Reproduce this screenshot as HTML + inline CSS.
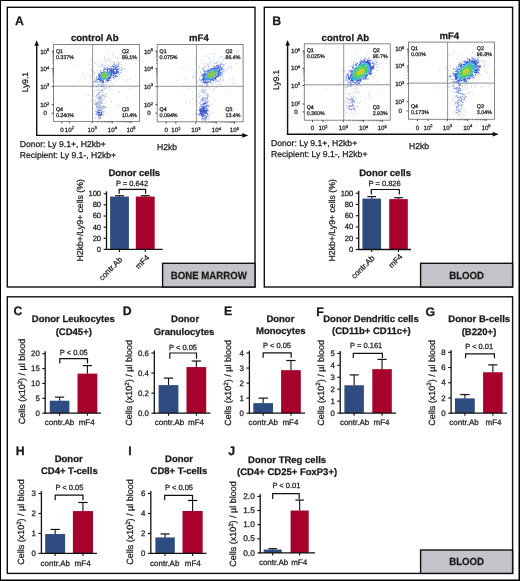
<!DOCTYPE html>
<html><head><meta charset="utf-8"><style>
html,body{margin:0;padding:0;background:#fff;}
svg{display:block;font-family:"Liberation Sans", sans-serif;will-change:transform;}
text{stroke:#1a1a1a;stroke-width:0.25px;text-rendering:geometricPrecision;}
</style></head><body>
<svg width="520" height="581" viewBox="0 0 520 581">
<rect x="0" y="0" width="520" height="581" fill="#fff"/>
<rect x="0" y="0" width="520" height="1" fill="#000" stroke="none" stroke-width="1"/>
<rect x="0" y="0" width="1" height="581" fill="#000" stroke="none" stroke-width="1"/>
<rect x="518.5" y="0" width="1.5" height="581" fill="#000" stroke="none" stroke-width="1"/>
<rect x="0" y="579.5" width="520" height="1.5" fill="#000" stroke="none" stroke-width="1"/>
<rect x="7.3" y="7.3" width="247.7" height="279.7" fill="none" stroke="#111" stroke-width="1.4"/>
<rect x="264.3" y="7.3" width="248.3" height="279.7" fill="none" stroke="#111" stroke-width="1.4"/>
<rect x="7.3" y="296.8" width="505.3" height="276.6" fill="none" stroke="#111" stroke-width="1.4"/>
<rect x="162.6" y="263.3" width="92.4" height="23.69999999999999" fill="#c4c3c9" stroke="#111" stroke-width="1.4"/>
<text transform="translate(208.8,278.6) scale(0.93,1)" font-size="10.4" font-weight="bold" text-anchor="middle" fill="#1a1a1a">BONE MARROW</text>
<rect x="420.6" y="263.3" width="92.0" height="23.69999999999999" fill="#c4c3c9" stroke="#111" stroke-width="1.4"/>
<text transform="translate(466.6,278.6) scale(0.93,1)" font-size="10.4" font-weight="bold" text-anchor="middle" fill="#1a1a1a">BLOOD</text>
<rect x="420.6" y="550" width="92.0" height="23.399999999999977" fill="#c4c3c9" stroke="#111" stroke-width="1.4"/>
<text transform="translate(466.6,564.6) scale(0.93,1)" font-size="10.4" font-weight="bold" text-anchor="middle" fill="#1a1a1a">BLOOD</text>
<text x="15" y="24.8" font-size="12.3" font-weight="bold" text-anchor="start" fill="#1a1a1a" >A</text>
<text x="272.3" y="24.5" font-size="12.3" font-weight="bold" text-anchor="start" fill="#1a1a1a" >B</text>
<text x="13.5" y="315.2" font-size="12.3" font-weight="bold" text-anchor="start" fill="#1a1a1a" >C</text>
<text x="122.7" y="315.4" font-size="12.3" font-weight="bold" text-anchor="start" fill="#1a1a1a" >D</text>
<text x="224" y="315.2" font-size="12.3" font-weight="bold" text-anchor="start" fill="#1a1a1a" >E</text>
<text x="316.2" y="315.5" font-size="12.3" font-weight="bold" text-anchor="start" fill="#1a1a1a" >F</text>
<text x="425.6" y="315.5" font-size="12.3" font-weight="bold" text-anchor="start" fill="#1a1a1a" >G</text>
<text x="15.7" y="454.9" font-size="12.3" font-weight="bold" text-anchor="start" fill="#1a1a1a" >H</text>
<text x="128.3" y="454.9" font-size="12.3" font-weight="bold" text-anchor="start" fill="#1a1a1a" >I</text>
<text x="228.3" y="454.8" font-size="12.3" font-weight="bold" text-anchor="start" fill="#1a1a1a" >J</text>
<rect x="110.1" y="196.58" width="18.80000000000001" height="52.81999999999999" fill="#2e4c7f" stroke="none" stroke-width="1"/>
<line x1="119.5" y1="196.58" x2="119.5" y2="195.746" stroke="#111" stroke-width="1.1"/>
<line x1="115.082" y1="195.746" x2="123.918" y2="195.746" stroke="#111" stroke-width="1.2"/>
<rect x="135.8" y="196.58" width="18.899999999999977" height="52.81999999999999" fill="#a6022b" stroke="none" stroke-width="1"/>
<line x1="145.25" y1="196.58" x2="145.25" y2="195.746" stroke="#111" stroke-width="1.1"/>
<line x1="140.8085" y1="195.746" x2="149.6915" y2="195.746" stroke="#111" stroke-width="1.2"/>
<line x1="106.5" y1="191.4" x2="106.5" y2="250.0" stroke="#111" stroke-width="1.3"/>
<line x1="105.9" y1="249.4" x2="162.6" y2="249.4" stroke="#111" stroke-width="1.3"/>
<line x1="103.6" y1="249.4" x2="106.5" y2="249.4" stroke="#111" stroke-width="1.1"/>
<text x="101.1" y="251.83599999999998" font-size="7.6" text-anchor="end" fill="#1a1a1a" >0</text>
<line x1="103.6" y1="238.28" x2="106.5" y2="238.28" stroke="#111" stroke-width="1.1"/>
<text x="101.1" y="240.71599999999998" font-size="7.6" text-anchor="end" fill="#1a1a1a" >20</text>
<line x1="103.6" y1="227.16" x2="106.5" y2="227.16" stroke="#111" stroke-width="1.1"/>
<text x="101.1" y="229.59599999999998" font-size="7.6" text-anchor="end" fill="#1a1a1a" >40</text>
<line x1="103.6" y1="216.04000000000002" x2="106.5" y2="216.04000000000002" stroke="#111" stroke-width="1.1"/>
<text x="101.1" y="218.476" font-size="7.6" text-anchor="end" fill="#1a1a1a" >60</text>
<line x1="103.6" y1="204.92000000000002" x2="106.5" y2="204.92000000000002" stroke="#111" stroke-width="1.1"/>
<text x="101.1" y="207.356" font-size="7.6" text-anchor="end" fill="#1a1a1a" >80</text>
<line x1="103.6" y1="193.8" x2="106.5" y2="193.8" stroke="#111" stroke-width="1.1"/>
<text x="101.1" y="196.236" font-size="7.6" text-anchor="end" fill="#1a1a1a" >100</text>
<line x1="119.5" y1="249.4" x2="119.5" y2="252.0" stroke="#111" stroke-width="1.1"/>
<line x1="145.25" y1="249.4" x2="145.25" y2="252.0" stroke="#111" stroke-width="1.1"/>
<polyline points="119.2,193.8 119.2,189.4 145.6,189.4 145.6,193.8" fill="none" stroke="#111" stroke-width="1.2"/>
<text x="132" y="185.8" font-size="7.5" text-anchor="middle" fill="#1a1a1a" >P = 0.642</text>
<text x="134.3" y="175.9" font-size="9.5" font-weight="bold" text-anchor="middle" fill="#1a1a1a" >Donor cells</text>
<text transform="translate(79.7,220.3) rotate(-90)" font-size="8.7" text-anchor="middle" fill="#1a1a1a" y="3.0449999999999995">H2kb+/Ly9+ cells (%)</text>
<text transform="translate(122.9,260.2) rotate(-45)" font-size="8" text-anchor="end" fill="#1a1a1a">contr.Ab</text>
<text transform="translate(149.9,258.2) rotate(-45)" font-size="8" text-anchor="end" fill="#1a1a1a">mF4</text>
<rect x="362.4" y="198.5485" width="18.600000000000023" height="50.95150000000001" fill="#2e4c7f" stroke="none" stroke-width="1"/>
<line x1="371.7" y1="198.5485" x2="371.7" y2="196.57799999999997" stroke="#111" stroke-width="1.1"/>
<line x1="367.329" y1="196.57799999999997" x2="376.07099999999997" y2="196.57799999999997" stroke="#111" stroke-width="1.2"/>
<rect x="389.2" y="199.11149999999998" width="18.600000000000023" height="50.38850000000002" fill="#a6022b" stroke="none" stroke-width="1"/>
<line x1="398.5" y1="199.11149999999998" x2="398.5" y2="197.70399999999998" stroke="#111" stroke-width="1.1"/>
<line x1="394.129" y1="197.70399999999998" x2="402.871" y2="197.70399999999998" stroke="#111" stroke-width="1.2"/>
<line x1="358.7" y1="190.79999999999998" x2="358.7" y2="250.1" stroke="#111" stroke-width="1.3"/>
<line x1="358.09999999999997" y1="249.5" x2="411" y2="249.5" stroke="#111" stroke-width="1.3"/>
<line x1="355.8" y1="249.5" x2="358.7" y2="249.5" stroke="#111" stroke-width="1.1"/>
<text x="353.3" y="251.93599999999998" font-size="7.6" text-anchor="end" fill="#1a1a1a" >0</text>
<line x1="355.8" y1="238.24" x2="358.7" y2="238.24" stroke="#111" stroke-width="1.1"/>
<text x="353.3" y="240.676" font-size="7.6" text-anchor="end" fill="#1a1a1a" >20</text>
<line x1="355.8" y1="226.98" x2="358.7" y2="226.98" stroke="#111" stroke-width="1.1"/>
<text x="353.3" y="229.41599999999997" font-size="7.6" text-anchor="end" fill="#1a1a1a" >40</text>
<line x1="355.8" y1="215.72" x2="358.7" y2="215.72" stroke="#111" stroke-width="1.1"/>
<text x="353.3" y="218.15599999999998" font-size="7.6" text-anchor="end" fill="#1a1a1a" >60</text>
<line x1="355.8" y1="204.45999999999998" x2="358.7" y2="204.45999999999998" stroke="#111" stroke-width="1.1"/>
<text x="353.3" y="206.89599999999996" font-size="7.6" text-anchor="end" fill="#1a1a1a" >80</text>
<line x1="355.8" y1="193.2" x2="358.7" y2="193.2" stroke="#111" stroke-width="1.1"/>
<text x="353.3" y="195.63599999999997" font-size="7.6" text-anchor="end" fill="#1a1a1a" >100</text>
<line x1="371.7" y1="249.5" x2="371.7" y2="252.1" stroke="#111" stroke-width="1.1"/>
<line x1="398.5" y1="249.5" x2="398.5" y2="252.1" stroke="#111" stroke-width="1.1"/>
<polyline points="371.3,194.5 371.3,189.5 399.3,189.5 399.3,194.5" fill="none" stroke="#111" stroke-width="1.2"/>
<text x="384.6" y="186.4" font-size="7.5" text-anchor="middle" fill="#1a1a1a" >P = 0.826</text>
<text x="385.1" y="175.5" font-size="9.5" font-weight="bold" text-anchor="middle" fill="#1a1a1a" >Donor cells</text>
<text transform="translate(331.6,220.3) rotate(-90)" font-size="8.7" text-anchor="middle" fill="#1a1a1a" y="3.0449999999999995">H2kb+/Ly9+ cells (%)</text>
<text transform="translate(375.2,258.6) rotate(-45)" font-size="8" text-anchor="end" fill="#1a1a1a">contr.Ab</text>
<text transform="translate(403,257.2) rotate(-45)" font-size="8" text-anchor="end" fill="#1a1a1a">mF4</text>
<rect x="49.8" y="400.705" width="19.60000000000001" height="12.495000000000005" fill="#2e4c7f" stroke="none" stroke-width="1"/>
<line x1="59.6" y1="400.705" x2="59.6" y2="397.135" stroke="#111" stroke-width="1.1"/>
<line x1="54.994" y1="397.135" x2="64.206" y2="397.135" stroke="#111" stroke-width="1.2"/>
<rect x="77.5" y="373.6325" width="19.799999999999997" height="39.567499999999995" fill="#a6022b" stroke="none" stroke-width="1"/>
<line x1="87.4" y1="373.6325" x2="87.4" y2="365.59999999999997" stroke="#111" stroke-width="1.1"/>
<line x1="82.74700000000001" y1="365.59999999999997" x2="92.053" y2="365.59999999999997" stroke="#111" stroke-width="1.2"/>
<line x1="45.2" y1="351.3" x2="45.2" y2="413.8" stroke="#111" stroke-width="1.3"/>
<line x1="44.6" y1="413.2" x2="101" y2="413.2" stroke="#111" stroke-width="1.3"/>
<line x1="42.300000000000004" y1="413.2" x2="45.2" y2="413.2" stroke="#111" stroke-width="1.1"/>
<text x="39.800000000000004" y="415.74399999999997" font-size="7.9" text-anchor="end" fill="#1a1a1a" >0</text>
<line x1="42.300000000000004" y1="398.325" x2="45.2" y2="398.325" stroke="#111" stroke-width="1.1"/>
<text x="39.800000000000004" y="400.86899999999997" font-size="7.9" text-anchor="end" fill="#1a1a1a" >5</text>
<line x1="42.300000000000004" y1="383.45" x2="45.2" y2="383.45" stroke="#111" stroke-width="1.1"/>
<text x="39.800000000000004" y="385.99399999999997" font-size="7.9" text-anchor="end" fill="#1a1a1a" >10</text>
<line x1="42.300000000000004" y1="368.575" x2="45.2" y2="368.575" stroke="#111" stroke-width="1.1"/>
<text x="39.800000000000004" y="371.11899999999997" font-size="7.9" text-anchor="end" fill="#1a1a1a" >15</text>
<line x1="42.300000000000004" y1="353.7" x2="45.2" y2="353.7" stroke="#111" stroke-width="1.1"/>
<text x="39.800000000000004" y="356.24399999999997" font-size="7.9" text-anchor="end" fill="#1a1a1a" >20</text>
<line x1="59.6" y1="413.2" x2="59.6" y2="415.8" stroke="#111" stroke-width="1.1"/>
<line x1="87.4" y1="413.2" x2="87.4" y2="415.8" stroke="#111" stroke-width="1.1"/>
<polyline points="59.8,363.6 59.8,358.6 87.5,358.6 87.5,363.6" fill="none" stroke="#111" stroke-width="1.2"/>
<text x="73.8" y="355.1" font-size="7.5" text-anchor="middle" fill="#1a1a1a" >P &lt; 0.05</text>
<text x="73.3" y="322.3" font-size="9.5" font-weight="bold" text-anchor="middle" fill="#1a1a1a" >Donor Leukocytes</text>
<text x="73.8" y="334.8" font-size="9.5" font-weight="bold" text-anchor="middle" fill="#1a1a1a" >(CD45+)</text>
<text transform="translate(21.8,381.5) rotate(-90)" font-size="9.0" text-anchor="middle" fill="#1a1a1a" y="3.15">Cells (x10<tspan dy="-3.2" font-size="6.2">2</tspan><tspan dy="3.2">) / µl blood</tspan></text>
<text x="59.5" y="425" font-size="8" text-anchor="middle" fill="#1a1a1a" >contr.Ab</text>
<text x="86.7" y="425" font-size="8" text-anchor="middle" fill="#1a1a1a" >mF4</text>
<rect x="158.6" y="385.1066666666667" width="19.80000000000001" height="28.093333333333305" fill="#2e4c7f" stroke="none" stroke-width="1"/>
<line x1="168.5" y1="385.1066666666667" x2="168.5" y2="378.0833333333333" stroke="#111" stroke-width="1.1"/>
<line x1="163.847" y1="378.0833333333333" x2="173.153" y2="378.0833333333333" stroke="#111" stroke-width="1.2"/>
<rect x="186.5" y="367.0466666666667" width="19.69999999999999" height="46.15333333333331" fill="#a6022b" stroke="none" stroke-width="1"/>
<line x1="196.35" y1="367.0466666666667" x2="196.35" y2="361.02666666666664" stroke="#111" stroke-width="1.1"/>
<line x1="191.7205" y1="361.02666666666664" x2="200.9795" y2="361.02666666666664" stroke="#111" stroke-width="1.2"/>
<line x1="154.3" y1="350.6" x2="154.3" y2="413.8" stroke="#111" stroke-width="1.3"/>
<line x1="153.70000000000002" y1="413.2" x2="210.5" y2="413.2" stroke="#111" stroke-width="1.3"/>
<line x1="151.4" y1="413.2" x2="154.3" y2="413.2" stroke="#111" stroke-width="1.1"/>
<text x="148.9" y="415.74399999999997" font-size="7.9" text-anchor="end" fill="#1a1a1a" >0.0</text>
<line x1="151.4" y1="393.1333333333333" x2="154.3" y2="393.1333333333333" stroke="#111" stroke-width="1.1"/>
<text x="148.9" y="395.6773333333333" font-size="7.9" text-anchor="end" fill="#1a1a1a" >0.2</text>
<line x1="151.4" y1="373.06666666666666" x2="154.3" y2="373.06666666666666" stroke="#111" stroke-width="1.1"/>
<text x="148.9" y="375.61066666666665" font-size="7.9" text-anchor="end" fill="#1a1a1a" >0.4</text>
<line x1="151.4" y1="353.0" x2="154.3" y2="353.0" stroke="#111" stroke-width="1.1"/>
<text x="148.9" y="355.544" font-size="7.9" text-anchor="end" fill="#1a1a1a" >0.6</text>
<line x1="168.5" y1="413.2" x2="168.5" y2="415.8" stroke="#111" stroke-width="1.1"/>
<line x1="196.35" y1="413.2" x2="196.35" y2="415.8" stroke="#111" stroke-width="1.1"/>
<polyline points="169.8,358.8 169.8,353 196.5,353 196.5,358.8" fill="none" stroke="#111" stroke-width="1.2"/>
<text x="183" y="349.6" font-size="7.5" text-anchor="middle" fill="#1a1a1a" >P &lt; 0.05</text>
<text x="185.1" y="322.2" font-size="9.5" font-weight="bold" text-anchor="middle" fill="#1a1a1a" >Donor</text>
<text x="184" y="334.8" font-size="9.5" font-weight="bold" text-anchor="middle" fill="#1a1a1a" >Granulocytes</text>
<text transform="translate(129,382.8) rotate(-90)" font-size="9.0" text-anchor="middle" fill="#1a1a1a" y="3.15">Cells (x10<tspan dy="-3.2" font-size="6.2">2</tspan><tspan dy="3.2">) / µl blood</tspan></text>
<text x="169.5" y="425" font-size="8" text-anchor="middle" fill="#1a1a1a" >contr.Ab</text>
<text x="196" y="425" font-size="8" text-anchor="middle" fill="#1a1a1a" >mF4</text>
<rect x="253.3" y="403.1165" width="19.69999999999999" height="10.083500000000015" fill="#2e4c7f" stroke="none" stroke-width="1"/>
<line x1="263.15" y1="403.1165" x2="263.15" y2="398.15" stroke="#111" stroke-width="1.1"/>
<line x1="258.52049999999997" y1="398.15" x2="267.7795" y2="398.15" stroke="#111" stroke-width="1.2"/>
<rect x="281.1" y="370.157" width="19.69999999999999" height="43.043000000000006" fill="#a6022b" stroke="none" stroke-width="1"/>
<line x1="290.95000000000005" y1="370.157" x2="290.95000000000005" y2="360.525" stroke="#111" stroke-width="1.1"/>
<line x1="286.32050000000004" y1="360.525" x2="295.57950000000005" y2="360.525" stroke="#111" stroke-width="1.2"/>
<line x1="249.4" y1="350.6" x2="249.4" y2="413.8" stroke="#111" stroke-width="1.3"/>
<line x1="248.8" y1="413.2" x2="305" y2="413.2" stroke="#111" stroke-width="1.3"/>
<line x1="246.5" y1="413.2" x2="249.4" y2="413.2" stroke="#111" stroke-width="1.1"/>
<text x="244.0" y="415.74399999999997" font-size="7.9" text-anchor="end" fill="#1a1a1a" >0</text>
<line x1="246.5" y1="398.15" x2="249.4" y2="398.15" stroke="#111" stroke-width="1.1"/>
<text x="244.0" y="400.69399999999996" font-size="7.9" text-anchor="end" fill="#1a1a1a" >1</text>
<line x1="246.5" y1="383.1" x2="249.4" y2="383.1" stroke="#111" stroke-width="1.1"/>
<text x="244.0" y="385.644" font-size="7.9" text-anchor="end" fill="#1a1a1a" >2</text>
<line x1="246.5" y1="368.05" x2="249.4" y2="368.05" stroke="#111" stroke-width="1.1"/>
<text x="244.0" y="370.594" font-size="7.9" text-anchor="end" fill="#1a1a1a" >3</text>
<line x1="246.5" y1="353.0" x2="249.4" y2="353.0" stroke="#111" stroke-width="1.1"/>
<text x="244.0" y="355.544" font-size="7.9" text-anchor="end" fill="#1a1a1a" >4</text>
<line x1="263.15" y1="413.2" x2="263.15" y2="415.8" stroke="#111" stroke-width="1.1"/>
<line x1="290.95000000000005" y1="413.2" x2="290.95000000000005" y2="415.8" stroke="#111" stroke-width="1.1"/>
<polyline points="263.2,357.7 263.2,352.9 291.2,352.9 291.2,357.7" fill="none" stroke="#111" stroke-width="1.2"/>
<text x="277" y="347.8" font-size="7.5" text-anchor="middle" fill="#1a1a1a" >P &lt; 0.05</text>
<text x="280.4" y="322" font-size="9.5" font-weight="bold" text-anchor="middle" fill="#1a1a1a" >Donor</text>
<text x="280.8" y="333.6" font-size="9.5" font-weight="bold" text-anchor="middle" fill="#1a1a1a" >Monocytes</text>
<text transform="translate(227.9,382.8) rotate(-90)" font-size="9.0" text-anchor="middle" fill="#1a1a1a" y="3.15">Cells (x10<tspan dy="-3.2" font-size="6.2">2</tspan><tspan dy="3.2">) / µl blood</tspan></text>
<text x="263.3" y="425" font-size="8" text-anchor="middle" fill="#1a1a1a" >contr.Ab</text>
<text x="290.4" y="425" font-size="8" text-anchor="middle" fill="#1a1a1a" >mF4</text>
<rect x="344.4" y="385.2798" width="19.5" height="27.8202" fill="#2e4c7f" stroke="none" stroke-width="1"/>
<line x1="354.15" y1="385.2798" x2="354.15" y2="374.892" stroke="#111" stroke-width="1.1"/>
<line x1="349.5675" y1="374.892" x2="358.73249999999996" y2="374.892" stroke="#111" stroke-width="1.2"/>
<rect x="372.3" y="369.1608" width="19.5" height="43.93920000000003" fill="#a6022b" stroke="none" stroke-width="1"/>
<line x1="382.05" y1="369.1608" x2="382.05" y2="359.37" stroke="#111" stroke-width="1.1"/>
<line x1="377.46750000000003" y1="359.37" x2="386.6325" y2="359.37" stroke="#111" stroke-width="1.2"/>
<line x1="340.2" y1="351.0" x2="340.2" y2="413.70000000000005" stroke="#111" stroke-width="1.3"/>
<line x1="339.59999999999997" y1="413.1" x2="396" y2="413.1" stroke="#111" stroke-width="1.3"/>
<line x1="337.3" y1="413.1" x2="340.2" y2="413.1" stroke="#111" stroke-width="1.1"/>
<text x="334.8" y="415.644" font-size="7.9" text-anchor="end" fill="#1a1a1a" >0</text>
<line x1="337.3" y1="401.16" x2="340.2" y2="401.16" stroke="#111" stroke-width="1.1"/>
<text x="334.8" y="403.704" font-size="7.9" text-anchor="end" fill="#1a1a1a" >1</text>
<line x1="337.3" y1="389.22" x2="340.2" y2="389.22" stroke="#111" stroke-width="1.1"/>
<text x="334.8" y="391.764" font-size="7.9" text-anchor="end" fill="#1a1a1a" >2</text>
<line x1="337.3" y1="377.28" x2="340.2" y2="377.28" stroke="#111" stroke-width="1.1"/>
<text x="334.8" y="379.82399999999996" font-size="7.9" text-anchor="end" fill="#1a1a1a" >3</text>
<line x1="337.3" y1="365.34" x2="340.2" y2="365.34" stroke="#111" stroke-width="1.1"/>
<text x="334.8" y="367.88399999999996" font-size="7.9" text-anchor="end" fill="#1a1a1a" >4</text>
<line x1="337.3" y1="353.4" x2="340.2" y2="353.4" stroke="#111" stroke-width="1.1"/>
<text x="334.8" y="355.94399999999996" font-size="7.9" text-anchor="end" fill="#1a1a1a" >5</text>
<line x1="354.15" y1="413.1" x2="354.15" y2="415.70000000000005" stroke="#111" stroke-width="1.1"/>
<line x1="382.05" y1="413.1" x2="382.05" y2="415.70000000000005" stroke="#111" stroke-width="1.1"/>
<polyline points="353.3,358 353.3,353.4 382.4,353.4 382.4,358" fill="none" stroke="#111" stroke-width="1.2"/>
<text x="366.2" y="348.3" font-size="7.5" text-anchor="middle" fill="#1a1a1a" >P = 0.161</text>
<text x="371" y="322.4" font-size="9.5" font-weight="bold" text-anchor="middle" fill="#1a1a1a" >Donor Dendritic cells</text>
<text x="371.4" y="334" font-size="9.5" font-weight="bold" text-anchor="middle" fill="#1a1a1a" >(CD11b+ CD11c+)</text>
<text transform="translate(320.4,382.8) rotate(-90)" font-size="9.0" text-anchor="middle" fill="#1a1a1a" y="3.15">Cells (x10<tspan dy="-3.2" font-size="6.2">2</tspan><tspan dy="3.2">) / µl blood</tspan></text>
<text x="354.6" y="425" font-size="8" text-anchor="middle" fill="#1a1a1a" >contr.Ab</text>
<text x="381.5" y="425" font-size="8" text-anchor="middle" fill="#1a1a1a" >mF4</text>
<rect x="455" y="398.355625" width="19.80000000000001" height="14.844375000000014" fill="#2e4c7f" stroke="none" stroke-width="1"/>
<line x1="464.9" y1="398.355625" x2="464.9" y2="394.549375" stroke="#111" stroke-width="1.1"/>
<line x1="460.24699999999996" y1="394.549375" x2="469.553" y2="394.549375" stroke="#111" stroke-width="1.2"/>
<rect x="483.1" y="372.24475" width="19.5" height="40.95524999999998" fill="#a6022b" stroke="none" stroke-width="1"/>
<line x1="492.85" y1="372.24475" x2="492.85" y2="364.860625" stroke="#111" stroke-width="1.1"/>
<line x1="488.26750000000004" y1="364.860625" x2="497.4325" y2="364.860625" stroke="#111" stroke-width="1.2"/>
<line x1="451.1" y1="349.90000000000003" x2="451.1" y2="413.8" stroke="#111" stroke-width="1.3"/>
<line x1="450.5" y1="413.2" x2="507" y2="413.2" stroke="#111" stroke-width="1.3"/>
<line x1="448.20000000000005" y1="413.2" x2="451.1" y2="413.2" stroke="#111" stroke-width="1.1"/>
<text x="445.70000000000005" y="415.74399999999997" font-size="7.9" text-anchor="end" fill="#1a1a1a" >0</text>
<line x1="448.20000000000005" y1="397.975" x2="451.1" y2="397.975" stroke="#111" stroke-width="1.1"/>
<text x="445.70000000000005" y="400.519" font-size="7.9" text-anchor="end" fill="#1a1a1a" >2</text>
<line x1="448.20000000000005" y1="382.75" x2="451.1" y2="382.75" stroke="#111" stroke-width="1.1"/>
<text x="445.70000000000005" y="385.294" font-size="7.9" text-anchor="end" fill="#1a1a1a" >4</text>
<line x1="448.20000000000005" y1="367.525" x2="451.1" y2="367.525" stroke="#111" stroke-width="1.1"/>
<text x="445.70000000000005" y="370.06899999999996" font-size="7.9" text-anchor="end" fill="#1a1a1a" >6</text>
<line x1="448.20000000000005" y1="352.3" x2="451.1" y2="352.3" stroke="#111" stroke-width="1.1"/>
<text x="445.70000000000005" y="354.844" font-size="7.9" text-anchor="end" fill="#1a1a1a" >8</text>
<line x1="464.9" y1="413.2" x2="464.9" y2="415.8" stroke="#111" stroke-width="1.1"/>
<line x1="492.85" y1="413.2" x2="492.85" y2="415.8" stroke="#111" stroke-width="1.1"/>
<polyline points="465.6,358.2 465.6,353.8 494.4,353.8 494.4,358.2" fill="none" stroke="#111" stroke-width="1.2"/>
<text x="479.2" y="348.5" font-size="7.5" text-anchor="middle" fill="#1a1a1a" >P &lt; 0.01</text>
<text x="479.2" y="322.2" font-size="9.5" font-weight="bold" text-anchor="middle" fill="#1a1a1a" >Donor B-cells</text>
<text x="479" y="334.8" font-size="9.5" font-weight="bold" text-anchor="middle" fill="#1a1a1a" >(B220+)</text>
<text transform="translate(431.4,382.8) rotate(-90)" font-size="9.0" text-anchor="middle" fill="#1a1a1a" y="3.15">Cells (x10<tspan dy="-3.2" font-size="6.2">2</tspan><tspan dy="3.2">) / µl blood</tspan></text>
<text x="464" y="425" font-size="8" text-anchor="middle" fill="#1a1a1a" >contr.Ab</text>
<text x="493.5" y="425" font-size="8" text-anchor="middle" fill="#1a1a1a" >mF4</text>
<rect x="45.2" y="534.0323333333333" width="19.89999999999999" height="19.36766666666665" fill="#2e4c7f" stroke="none" stroke-width="1"/>
<line x1="55.15" y1="534.0323333333333" x2="55.15" y2="529.4399999999999" stroke="#111" stroke-width="1.1"/>
<line x1="50.4735" y1="529.4399999999999" x2="59.826499999999996" y2="529.4399999999999" stroke="#111" stroke-width="1.2"/>
<rect x="72.9" y="511.0706666666667" width="20.099999999999994" height="42.329333333333295" fill="#a6022b" stroke="none" stroke-width="1"/>
<line x1="82.95" y1="511.0706666666667" x2="82.95" y2="502.485" stroke="#111" stroke-width="1.1"/>
<line x1="78.2265" y1="502.485" x2="87.6735" y2="502.485" stroke="#111" stroke-width="1.2"/>
<line x1="41.4" y1="491.1" x2="41.4" y2="554.0" stroke="#111" stroke-width="1.3"/>
<line x1="40.8" y1="553.4" x2="97" y2="553.4" stroke="#111" stroke-width="1.3"/>
<line x1="38.5" y1="553.4" x2="41.4" y2="553.4" stroke="#111" stroke-width="1.1"/>
<text x="36.0" y="555.9440000000001" font-size="7.9" text-anchor="end" fill="#1a1a1a" >0</text>
<line x1="38.5" y1="533.4333333333333" x2="41.4" y2="533.4333333333333" stroke="#111" stroke-width="1.1"/>
<text x="36.0" y="535.9773333333334" font-size="7.9" text-anchor="end" fill="#1a1a1a" >1</text>
<line x1="38.5" y1="513.4666666666667" x2="41.4" y2="513.4666666666667" stroke="#111" stroke-width="1.1"/>
<text x="36.0" y="516.0106666666668" font-size="7.9" text-anchor="end" fill="#1a1a1a" >2</text>
<line x1="38.5" y1="493.5" x2="41.4" y2="493.5" stroke="#111" stroke-width="1.1"/>
<text x="36.0" y="496.044" font-size="7.9" text-anchor="end" fill="#1a1a1a" >3</text>
<line x1="55.15" y1="553.4" x2="55.15" y2="556.0" stroke="#111" stroke-width="1.1"/>
<line x1="82.95" y1="553.4" x2="82.95" y2="556.0" stroke="#111" stroke-width="1.1"/>
<polyline points="55.2,500.2 55.2,495.2 83,495.2 83,500.2" fill="none" stroke="#111" stroke-width="1.2"/>
<text x="69.4" y="489.6" font-size="7.5" text-anchor="middle" fill="#1a1a1a" >P &lt; 0.05</text>
<text x="68.7" y="461.7" font-size="9.5" font-weight="bold" text-anchor="middle" fill="#1a1a1a" >Donor</text>
<text x="69.3" y="474.1" font-size="9.5" font-weight="bold" text-anchor="middle" fill="#1a1a1a" >CD4+ T-cells</text>
<text transform="translate(20.8,522) rotate(-90)" font-size="9.0" text-anchor="middle" fill="#1a1a1a" y="3.15">Cells (x10<tspan dy="-3.2" font-size="6.2">2</tspan><tspan dy="3.2">) / µl blood</tspan></text>
<text x="55.3" y="565.8" font-size="8" text-anchor="middle" fill="#1a1a1a" >contr.Ab</text>
<text x="82.6" y="565.8" font-size="8" text-anchor="middle" fill="#1a1a1a" >mF4</text>
<rect x="155.4" y="537.4266666666666" width="19.400000000000006" height="15.973333333333358" fill="#2e4c7f" stroke="none" stroke-width="1"/>
<line x1="165.10000000000002" y1="537.4266666666666" x2="165.10000000000002" y2="533.9325" stroke="#111" stroke-width="1.1"/>
<line x1="160.54100000000003" y1="533.9325" x2="169.65900000000002" y2="533.9325" stroke="#111" stroke-width="1.2"/>
<rect x="182.5" y="510.9708333333333" width="20.19999999999999" height="42.429166666666674" fill="#a6022b" stroke="none" stroke-width="1"/>
<line x1="192.6" y1="510.9708333333333" x2="192.6" y2="500.48833333333334" stroke="#111" stroke-width="1.1"/>
<line x1="187.853" y1="500.48833333333334" x2="197.34699999999998" y2="500.48833333333334" stroke="#111" stroke-width="1.2"/>
<line x1="150.8" y1="491.1" x2="150.8" y2="554.0" stroke="#111" stroke-width="1.3"/>
<line x1="150.20000000000002" y1="553.4" x2="206.6" y2="553.4" stroke="#111" stroke-width="1.3"/>
<line x1="147.9" y1="553.4" x2="150.8" y2="553.4" stroke="#111" stroke-width="1.1"/>
<text x="145.4" y="555.9440000000001" font-size="7.9" text-anchor="end" fill="#1a1a1a" >0</text>
<line x1="147.9" y1="533.4333333333333" x2="150.8" y2="533.4333333333333" stroke="#111" stroke-width="1.1"/>
<text x="145.4" y="535.9773333333334" font-size="7.9" text-anchor="end" fill="#1a1a1a" >2</text>
<line x1="147.9" y1="513.4666666666667" x2="150.8" y2="513.4666666666667" stroke="#111" stroke-width="1.1"/>
<text x="145.4" y="516.0106666666668" font-size="7.9" text-anchor="end" fill="#1a1a1a" >4</text>
<line x1="147.9" y1="493.5" x2="150.8" y2="493.5" stroke="#111" stroke-width="1.1"/>
<text x="145.4" y="496.044" font-size="7.9" text-anchor="end" fill="#1a1a1a" >6</text>
<line x1="165.10000000000002" y1="553.4" x2="165.10000000000002" y2="556.0" stroke="#111" stroke-width="1.1"/>
<line x1="192.6" y1="553.4" x2="192.6" y2="556.0" stroke="#111" stroke-width="1.1"/>
<polyline points="164.7,500.2 164.7,495.3 192.5,495.3 192.5,500.2" fill="none" stroke="#111" stroke-width="1.2"/>
<text x="179" y="489.6" font-size="7.5" text-anchor="middle" fill="#1a1a1a" >P &lt; 0.05</text>
<text x="179" y="461.7" font-size="9.5" font-weight="bold" text-anchor="middle" fill="#1a1a1a" >Donor</text>
<text x="178.9" y="474.1" font-size="9.5" font-weight="bold" text-anchor="middle" fill="#1a1a1a" >CD8+ T-cells</text>
<text transform="translate(129.9,522) rotate(-90)" font-size="9.0" text-anchor="middle" fill="#1a1a1a" y="3.15">Cells (x10<tspan dy="-3.2" font-size="6.2">2</tspan><tspan dy="3.2">) / µl blood</tspan></text>
<text x="164.7" y="565.8" font-size="8" text-anchor="middle" fill="#1a1a1a" >contr.Ab</text>
<text x="192.8" y="565.8" font-size="8" text-anchor="middle" fill="#1a1a1a" >mF4</text>
<rect x="263.7" y="549.51" width="18.0" height="3.3899999999999864" fill="#2e4c7f" stroke="none" stroke-width="1"/>
<line x1="272.7" y1="549.51" x2="272.7" y2="548.6625" stroke="#111" stroke-width="1.1"/>
<line x1="268.46999999999997" y1="548.6625" x2="276.93" y2="548.6625" stroke="#111" stroke-width="1.2"/>
<rect x="290.6" y="510.525" width="18.099999999999966" height="42.375" fill="#a6022b" stroke="none" stroke-width="1"/>
<line x1="299.65" y1="510.525" x2="299.65" y2="500.0725" stroke="#111" stroke-width="1.1"/>
<line x1="295.3965" y1="500.0725" x2="303.90349999999995" y2="500.0725" stroke="#111" stroke-width="1.2"/>
<line x1="260.2" y1="494.0" x2="260.2" y2="553.5" stroke="#111" stroke-width="1.3"/>
<line x1="259.59999999999997" y1="552.9" x2="315" y2="552.9" stroke="#111" stroke-width="1.3"/>
<line x1="257.3" y1="552.9" x2="260.2" y2="552.9" stroke="#111" stroke-width="1.1"/>
<text x="254.79999999999998" y="555.5880000000001" font-size="8.3" text-anchor="end" fill="#1a1a1a" >0.0</text>
<line x1="257.3" y1="538.775" x2="260.2" y2="538.775" stroke="#111" stroke-width="1.1"/>
<text x="254.79999999999998" y="541.4630000000001" font-size="8.3" text-anchor="end" fill="#1a1a1a" >0.5</text>
<line x1="257.3" y1="524.65" x2="260.2" y2="524.65" stroke="#111" stroke-width="1.1"/>
<text x="254.79999999999998" y="527.3380000000001" font-size="8.3" text-anchor="end" fill="#1a1a1a" >1.0</text>
<line x1="257.3" y1="510.525" x2="260.2" y2="510.525" stroke="#111" stroke-width="1.1"/>
<text x="254.79999999999998" y="513.2130000000001" font-size="8.3" text-anchor="end" fill="#1a1a1a" >1.5</text>
<line x1="257.3" y1="496.4" x2="260.2" y2="496.4" stroke="#111" stroke-width="1.1"/>
<text x="254.79999999999998" y="499.08799999999997" font-size="8.3" text-anchor="end" fill="#1a1a1a" >2.0</text>
<line x1="272.7" y1="552.9" x2="272.7" y2="555.5" stroke="#111" stroke-width="1.1"/>
<line x1="299.65" y1="552.9" x2="299.65" y2="555.5" stroke="#111" stroke-width="1.1"/>
<polyline points="272.7,499 272.7,493.7 299.2,493.7 299.2,499" fill="none" stroke="#111" stroke-width="1.2"/>
<text x="286.4" y="488.3" font-size="7.5" text-anchor="middle" fill="#1a1a1a" >P &lt; 0.01</text>
<text x="287.1" y="462.7" font-size="9.5" font-weight="bold" text-anchor="middle" fill="#1a1a1a" >Donor TReg cells</text>
<text x="287.1" y="474.8" font-size="9.5" font-weight="bold" text-anchor="middle" fill="#1a1a1a" >(CD4+ CD25+ FoxP3+)</text>
<text transform="translate(232.9,524) rotate(-90)" font-size="9.0" text-anchor="middle" fill="#1a1a1a" y="3.15">Cells (x10<tspan dy="-3.2" font-size="6.2">2</tspan><tspan dy="3.2">) / µl blood</tspan></text>
<text x="273.6" y="565" font-size="8" text-anchor="middle" fill="#1a1a1a" >contr.Ab</text>
<text x="299.2" y="565" font-size="8" text-anchor="middle" fill="#1a1a1a" >mF4</text>
<path d="M109.1 64.7h1v1h-1zM121.0 67.1h1v1h-1zM112.0 62.0h1v1h-1zM121.4 70.6h1v1h-1zM121.4 72.7h1v1h-1zM121.4 63.9h1v1h-1zM121.2 75.5h1v1h-1zM121.9 68.3h1v1h-1zM118.8 61.4h1v1h-1zM107.7 77.9h1v1h-1zM114.0 62.4h1v1h-1zM102.6 74.4h1v1h-1zM119.2 53.8h1v1h-1zM107.5 59.1h1v1h-1zM122.7 58.8h1v1h-1zM104.7 72.5h1v1h-1zM102.1 64.0h1v1h-1zM118.7 63.3h1v1h-1zM82.3 75.7h1v1h-1zM101.1 72.1h1v1h-1zM115.5 56.5h1v1h-1zM111.5 60.6h1v1h-1zM113.3 54.7h1v1h-1zM111.3 72.4h1v1h-1zM116.5 65.0h1v1h-1zM109.0 76.1h1v1h-1zM100.0 75.4h1v1h-1zM92.0 71.0h1v1h-1zM104.3 67.8h1v1h-1zM101.2 64.1h1v1h-1zM106.9 72.1h1v1h-1zM87.5 94.4h1v1h-1zM95.9 80.3h1v1h-1zM103.6 66.6h1v1h-1zM110.7 62.4h1v1h-1zM106.3 70.6h1v1h-1zM97.6 64.9h1v1h-1zM92.9 81.5h1v1h-1zM126.2 53.8h1v1h-1zM99.4 70.5h1v1h-1zM121.2 53.2h1v1h-1zM122.5 56.7h1v1h-1zM108.9 60.4h1v1h-1zM102.4 65.8h1v1h-1zM113.9 68.6h1v1h-1zM102.0 74.4h1v1h-1zM118.4 71.9h1v1h-1zM106.1 61.4h1v1h-1zM107.1 54.3h1v1h-1zM120.8 64.1h1v1h-1zM126.9 59.1h1v1h-1zM104.1 65.0h1v1h-1zM112.2 52.4h1v1h-1zM103.7 70.8h1v1h-1zM96.3 63.6h1v1h-1zM103.8 68.3h1v1h-1zM93.9 62.2h1v1h-1zM116.5 58.5h1v1h-1zM108.7 50.2h1v1h-1zM108.0 64.9h1v1h-1zM103.9 88.6h1v1h-1zM117.8 77.7h1v1h-1zM96.2 70.1h1v1h-1zM93.0 84.7h1v1h-1zM99.7 66.0h1v1h-1zM81.2 78.6h1v1h-1zM92.2 83.1h1v1h-1zM89.9 69.4h1v1h-1zM110.8 85.1h1v1h-1zM96.1 87.0h1v1h-1zM110.3 88.1h1v1h-1zM94.0 76.3h1v1h-1zM91.6 77.1h1v1h-1zM95.2 95.9h1v1h-1zM99.5 62.0h1v1h-1zM136.2 59.8h1v1h-1zM104.3 58.3h1v1h-1zM105.6 86.9h1v1h-1zM93.9 71.7h1v1h-1zM92.4 69.3h1v1h-1zM101.5 66.1h1v1h-1zM126.2 70.3h1v1h-1zM108.9 87.0h1v1h-1zM124.0 68.4h1v1h-1zM110.4 82.2h1v1h-1zM85.0 77.2h1v1h-1zM103.8 59.6h1v1h-1zM104.1 56.2h1v1h-1zM93.3 85.6h1v1h-1zM90.0 75.4h1v1h-1zM91.6 74.4h1v1h-1zM117.3 62.1h1v1h-1zM106.1 60.5h1v1h-1zM93.4 78.1h1v1h-1zM104.5 102.2h1v1h-1zM100.3 118.1h1v1h-1zM104.8 107.5h1v1h-1zM94.9 117.8h1v1h-1zM94.7 118.1h1v1h-1zM105.5 94.6h1v1h-1zM104.6 111.4h1v1h-1zM96.5 89.3h1v1h-1zM94.7 109.0h1v1h-1zM92.0 109.0h1v1h-1zM105.1 93.6h1v1h-1zM97.2 117.9h1v1h-1zM104.6 98.0h1v1h-1zM106.2 86.1h1v1h-1zM95.0 99.8h1v1h-1zM105.0 96.2h1v1h-1zM96.4 85.4h1v1h-1zM105.6 93.0h1v1h-1zM97.7 89.3h1v1h-1zM96.0 89.6h1v1h-1zM106.4 101.0h1v1h-1zM102.7 91.1h1v1h-1zM109.5 98.0h1v1h-1zM93.1 99.6h1v1h-1zM110.9 101.0h1v1h-1zM92.7 102.4h1v1h-1zM106.1 88.2h1v1h-1zM98.6 87.9h1v1h-1zM98.1 85.9h1v1h-1zM102.9 91.9h1v1h-1zM106.3 96.2h1v1h-1zM77.1 63.7h1v1h-1zM126.8 97.6h1v1h-1zM103.8 95.0h1v1h-1zM100.9 105.2h1v1h-1zM105.5 106.9h1v1h-1zM103.5 57.8h1v1h-1zM118.6 105.1h1v1h-1zM115.1 105.4h1v1h-1zM94.4 72.4h1v1h-1zM90.2 100.7h1v1h-1zM85.4 108.4h1v1h-1zM82.5 72.3h1v1h-1zM130.2 57.2h1v1h-1zM88.5 75.5h1v1h-1zM89.8 86.3h1v1h-1zM90.8 60.1h1v1h-1zM110.9 77.4h1v1h-1zM89.1 64.1h1v1h-1zM114.6 74.8h1v1h-1zM112.0 83.7h1v1h-1zM129.3 78.4h1v1h-1zM84.1 75.1h1v1h-1zM97.7 101.7h1v1h-1zM109.5 59.2h1v1h-1zM117.2 57.0h1v1h-1zM126.7 79.2h1v1h-1zM101.9 89.1h1v1h-1zM115.6 80.4h1v1h-1zM117.9 91.9h1v1h-1zM96.8 97.0h1v1h-1zM119.0 90.9h1v1h-1zM124.3 67.4h1v1h-1zM102.1 77.2h1v1h-1zM123.3 104.5h1v1h-1zM134.7 63.2h1v1h-1zM106.2 77.4h1v1h-1zM105.0 74.5h1v1h-1zM99.4 78.8h1v1h-1zM93.9 62.6h1v1h-1zM107.8 57.7h1v1h-1zM99.4 99.0h1v1h-1zM91.1 69.2h1v1h-1zM77.4 80.9h1v1h-1zM88.1 94.2h1v1h-1zM110.9 75.8h1v1h-1zM83.7 93.1h1v1h-1zM93.3 70.9h1v1h-1zM134.6 75.5h1v1h-1zM125.3 80.5h1v1h-1zM92.5 73.8h1v1h-1zM93.3 82.4h1v1h-1zM134.3 86.7h1v1h-1zM94.5 90.6h1v1h-1zM106.5 64.1h1v1h-1zM129.9 88.2h1v1h-1zM90.1 85.9h1v1h-1zM128.5 50.2h1v1h-1zM109.3 90.6h1v1h-1zM99.7 64.8h1v1h-1zM103.4 100.0h1v1h-1zM103.7 71.5h1v1h-1z" fill="#b4bfea" opacity="0.8"/>
<path d="M94.4 80.8h1v1h-1zM106.8 67.2h1v1h-1zM97.6 73.0h1v1h-1zM110.4 80.0h1v1h-1zM97.2 81.5h1v1h-1zM94.8 79.7h1v1h-1zM98.0 81.8h1v1h-1zM96.6 77.1h1v1h-1zM95.0 81.5h1v1h-1zM96.2 76.3h1v1h-1zM121.4 69.1h1v1h-1zM118.4 72.5h1v1h-1zM112.5 77.2h1v1h-1zM111.6 66.0h1v1h-1zM118.9 69.3h1v1h-1zM113.0 77.2h1v1h-1zM120.3 69.4h1v1h-1zM112.4 65.8h1v1h-1zM115.7 64.7h1v1h-1zM118.3 65.6h1v1h-1zM116.0 75.5h1v1h-1zM117.1 75.9h1v1h-1zM114.4 64.5h1v1h-1zM117.7 65.3h1v1h-1zM111.9 65.1h1v1h-1zM117.6 66.3h1v1h-1zM118.2 68.8h1v1h-1zM121.1 69.6h1v1h-1zM106.6 81.7h1v1h-1zM93.5 80.9h1v1h-1zM116.4 64.4h1v1h-1zM95.6 78.9h1v1h-1zM114.4 64.6h1v1h-1zM117.7 63.1h1v1h-1zM96.9 80.6h1v1h-1zM118.3 73.3h1v1h-1zM100.3 84.4h1v1h-1zM112.7 77.3h1v1h-1zM119.5 67.3h1v1h-1zM97.9 72.6h1v1h-1zM116.5 75.0h1v1h-1zM100.4 69.9h1v1h-1zM109.9 67.0h1v1h-1zM104.0 68.2h1v1h-1zM97.6 83.9h1v1h-1zM105.6 66.6h1v1h-1zM113.2 64.2h1v1h-1zM112.7 77.3h1v1h-1zM103.1 68.2h1v1h-1zM113.3 64.1h1v1h-1zM113.8 78.2h1v1h-1zM119.0 74.4h1v1h-1zM104.9 82.1h1v1h-1zM117.1 66.2h1v1h-1zM106.9 66.9h1v1h-1zM113.9 62.3h1v1h-1zM119.9 72.1h1v1h-1zM114.2 64.4h1v1h-1zM97.8 84.3h1v1h-1zM103.9 66.9h1v1h-1zM113.9 63.5h1v1h-1zM102.6 94.2h1v1h-1zM118.0 64.0h1v1h-1zM115.2 76.2h1v1h-1zM96.3 77.3h1v1h-1zM96.1 78.3h1v1h-1zM110.6 66.5h1v1h-1zM97.0 81.0h1v1h-1zM95.6 82.0h1v1h-1zM95.7 104.6h1v1h-1zM101.7 114.5h1v1h-1zM95.3 110.9h1v1h-1zM102.9 111.8h1v1h-1zM101.0 102.2h1v1h-1zM101.7 110.7h1v1h-1zM99.8 96.4h1v1h-1zM96.2 94.9h1v1h-1zM100.3 92.1h1v1h-1zM98.5 97.6h1v1h-1zM100.2 98.2h1v1h-1zM99.1 96.5h1v1h-1zM96.4 112.8h1v1h-1zM97.8 108.9h1v1h-1zM98.9 105.5h1v1h-1zM103.1 106.5h1v1h-1zM97.9 109.0h1v1h-1zM104.2 105.9h1v1h-1zM97.1 105.4h1v1h-1zM99.1 89.9h1v1h-1zM102.1 95.0h1v1h-1zM97.5 100.6h1v1h-1zM95.1 103.7h1v1h-1zM99.6 106.0h1v1h-1zM101.6 99.5h1v1h-1zM99.2 97.0h1v1h-1zM103.3 111.5h1v1h-1zM97.0 111.1h1v1h-1zM102.9 105.5h1v1h-1zM97.0 114.6h1v1h-1zM99.2 101.5h1v1h-1zM100.1 117.0h1v1h-1zM101.8 106.7h1v1h-1zM98.4 107.0h1v1h-1zM102.9 106.2h1v1h-1zM97.9 92.4h1v1h-1zM100.6 108.6h1v1h-1zM99.4 118.2h1v1h-1zM101.8 113.5h1v1h-1zM98.2 104.2h1v1h-1zM101.4 97.4h1v1h-1zM100.6 95.3h1v1h-1zM98.1 93.9h1v1h-1zM102.5 85.7h1v1h-1zM99.7 102.6h1v1h-1zM96.8 108.6h1v1h-1zM100.0 98.3h1v1h-1zM101.5 113.7h1v1h-1zM100.8 89.5h1v1h-1zM102.8 114.4h1v1h-1zM99.1 107.0h1v1h-1zM97.1 103.8h1v1h-1zM100.6 109.2h1v1h-1zM98.7 104.2h1v1h-1zM100.5 96.5h1v1h-1zM104.1 106.9h1v1h-1zM97.9 101.7h1v1h-1zM99.2 116.3h1v1h-1zM95.1 113.7h1v1h-1zM97.3 106.0h1v1h-1zM97.5 107.1h1v1h-1zM94.4 103.8h1v1h-1zM97.0 110.7h1v1h-1zM101.5 109.9h1v1h-1zM96.0 103.7h1v1h-1zM101.7 83.9h1v1h-1zM100.3 106.7h1v1h-1zM102.8 105.7h1v1h-1zM101.7 111.1h1v1h-1zM98.5 116.2h1v1h-1zM95.3 102.6h1v1h-1zM98.6 95.6h1v1h-1zM102.0 98.9h1v1h-1zM103.1 85.1h1v1h-1zM97.6 97.9h1v1h-1zM99.1 118.2h1v1h-1zM98.5 118.1h1v1h-1zM102.5 108.0h1v1h-1zM102.0 102.6h1v1h-1zM99.6 105.8h1v1h-1zM96.4 113.5h1v1h-1zM99.7 116.0h1v1h-1zM97.7 102.8h1v1h-1zM98.0 114.7h1v1h-1zM98.4 93.1h1v1h-1zM100.1 103.2h1v1h-1zM99.1 107.7h1v1h-1zM101.0 115.2h1v1h-1zM103.8 96.2h1v1h-1zM96.2 111.2h1v1h-1zM95.4 102.1h1v1h-1zM102.2 108.0h1v1h-1zM98.3 117.4h1v1h-1zM96.0 102.2h1v1h-1zM96.7 103.1h1v1h-1zM98.5 99.5h1v1h-1zM100.5 101.0h1v1h-1zM99.0 83.3h1v1h-1zM99.7 105.1h1v1h-1zM96.2 113.9h1v1h-1zM101.2 107.5h1v1h-1zM96.9 94.3h1v1h-1zM100.9 90.2h1v1h-1zM101.1 86.3h1v1h-1zM99.0 92.3h1v1h-1zM101.0 85.2h1v1h-1zM103.1 84.6h1v1h-1zM107.4 76.2h1v1h-1zM98.2 92.6h1v1h-1zM96.0 79.8h1v1h-1zM96.1 95.2h1v1h-1zM96.0 102.2h1v1h-1zM99.7 100.1h1v1h-1zM101.0 85.5h1v1h-1zM96.3 106.0h1v1h-1zM102.8 81.6h1v1h-1zM107.5 74.0h1v1h-1zM95.9 95.4h1v1h-1zM95.9 111.8h1v1h-1zM99.2 101.4h1v1h-1zM97.4 97.8h1v1h-1zM99.2 98.1h1v1h-1zM101.2 89.6h1v1h-1zM100.5 97.1h1v1h-1zM102.2 79.8h1v1h-1zM100.5 101.1h1v1h-1zM100.8 101.9h1v1h-1zM103.4 95.8h1v1h-1zM98.8 96.1h1v1h-1zM96.0 107.4h1v1h-1zM103.6 88.1h1v1h-1zM101.6 86.3h1v1h-1zM103.6 87.3h1v1h-1zM102.0 90.0h1v1h-1zM104.8 83.9h1v1h-1z" fill="#8098dc" opacity="0.9"/>
<path d="M107.3 78.5h1v1h-1zM109.0 77.8h1v1h-1zM100.2 79.5h1v1h-1zM108.1 78.0h1v1h-1zM97.1 79.1h1v1h-1zM110.5 71.6h1v1h-1zM99.7 81.1h1v1h-1zM100.0 78.8h1v1h-1zM98.4 74.9h1v1h-1zM105.9 79.5h1v1h-1zM100.5 79.5h1v1h-1zM98.1 74.7h1v1h-1zM98.8 76.4h1v1h-1zM99.9 81.3h1v1h-1zM99.1 79.1h1v1h-1zM100.7 72.7h1v1h-1zM98.3 79.0h1v1h-1zM100.7 79.5h1v1h-1zM101.9 82.5h1v1h-1zM103.0 80.6h1v1h-1zM99.0 79.3h1v1h-1zM99.4 74.8h1v1h-1zM98.1 75.0h1v1h-1zM98.1 78.1h1v1h-1zM111.0 69.5h1v1h-1zM99.1 76.1h1v1h-1zM98.5 76.9h1v1h-1zM103.0 81.0h1v1h-1zM100.3 71.4h1v1h-1zM98.7 76.2h1v1h-1zM101.4 80.2h1v1h-1zM99.4 73.9h1v1h-1zM101.6 79.8h1v1h-1zM101.2 80.1h1v1h-1zM110.6 72.6h1v1h-1zM106.5 80.0h1v1h-1zM101.5 80.4h1v1h-1zM113.7 71.1h1v1h-1zM99.7 80.5h1v1h-1zM101.5 79.7h1v1h-1zM111.6 75.1h1v1h-1zM109.3 70.2h1v1h-1zM116.2 73.1h1v1h-1zM116.8 70.6h1v1h-1zM112.5 68.0h1v1h-1zM117.3 69.3h1v1h-1zM110.2 76.7h1v1h-1zM114.8 68.5h1v1h-1zM109.2 68.5h1v1h-1zM109.1 76.4h1v1h-1zM117.0 71.6h1v1h-1zM110.0 73.6h1v1h-1zM116.0 69.4h1v1h-1zM113.3 71.8h1v1h-1zM111.0 70.0h1v1h-1zM113.9 73.6h1v1h-1zM113.1 74.5h1v1h-1zM116.2 72.5h1v1h-1zM113.0 69.5h1v1h-1zM111.2 72.4h1v1h-1zM116.3 68.9h1v1h-1zM113.9 71.3h1v1h-1zM114.4 73.3h1v1h-1zM111.8 72.0h1v1h-1zM107.2 68.1h1v1h-1zM111.0 68.3h1v1h-1zM111.2 74.4h1v1h-1zM118.1 71.5h1v1h-1zM117.6 67.8h1v1h-1zM115.0 67.9h1v1h-1zM115.1 72.8h1v1h-1zM109.6 70.2h1v1h-1zM114.6 67.0h1v1h-1zM110.9 71.2h1v1h-1zM112.2 70.6h1v1h-1zM108.7 69.0h1v1h-1zM107.4 69.5h1v1h-1zM111.2 70.8h1v1h-1zM112.5 69.7h1v1h-1zM113.2 72.3h1v1h-1zM113.8 73.1h1v1h-1zM115.8 70.9h1v1h-1zM111.3 73.2h1v1h-1zM112.6 71.4h1v1h-1zM111.2 71.2h1v1h-1zM109.8 68.5h1v1h-1zM112.4 69.9h1v1h-1zM107.1 69.9h1v1h-1zM112.5 71.5h1v1h-1zM113.7 71.3h1v1h-1zM116.2 72.3h1v1h-1zM112.8 70.5h1v1h-1zM114.6 72.7h1v1h-1zM115.8 72.0h1v1h-1zM110.5 74.0h1v1h-1zM113.9 76.2h1v1h-1zM115.6 72.3h1v1h-1zM116.0 68.6h1v1h-1zM113.1 69.0h1v1h-1zM112.8 72.9h1v1h-1zM116.0 68.5h1v1h-1zM114.4 76.3h1v1h-1zM115.4 75.3h1v1h-1zM113.0 69.8h1v1h-1zM114.5 73.5h1v1h-1zM109.8 70.1h1v1h-1zM114.1 69.1h1v1h-1zM114.3 72.6h1v1h-1zM112.8 71.8h1v1h-1zM109.7 76.6h1v1h-1zM115.0 65.6h1v1h-1zM106.6 69.0h1v1h-1zM113.0 66.1h1v1h-1zM114.1 68.9h1v1h-1zM114.9 73.5h1v1h-1zM109.3 71.3h1v1h-1zM111.1 70.5h1v1h-1zM113.8 66.2h1v1h-1zM112.9 69.8h1v1h-1zM116.8 72.4h1v1h-1zM105.4 68.5h1v1h-1zM115.9 68.9h1v1h-1zM115.2 75.8h1v1h-1zM108.2 77.6h1v1h-1zM104.5 69.0h1v1h-1zM110.9 73.9h1v1h-1zM109.7 71.7h1v1h-1zM112.9 66.6h1v1h-1zM114.6 72.8h1v1h-1zM114.0 69.0h1v1h-1zM116.1 66.8h1v1h-1zM117.3 70.9h1v1h-1zM116.5 66.3h1v1h-1zM99.5 75.8h1v1h-1zM102.7 82.1h1v1h-1zM115.3 75.4h1v1h-1zM110.2 76.2h1v1h-1zM108.8 78.3h1v1h-1zM103.5 71.1h1v1h-1zM107.6 78.7h1v1h-1zM106.7 80.0h1v1h-1zM98.7 79.2h1v1h-1zM107.0 80.7h1v1h-1zM108.4 68.2h1v1h-1zM102.6 80.7h1v1h-1zM109.7 77.4h1v1h-1zM99.4 80.8h1v1h-1zM107.7 80.1h1v1h-1zM112.7 73.2h1v1h-1zM114.4 68.8h1v1h-1zM103.1 69.7h1v1h-1zM113.0 75.1h1v1h-1zM111.9 69.3h1v1h-1zM115.3 68.5h1v1h-1zM115.5 69.3h1v1h-1zM108.1 79.6h1v1h-1zM112.7 76.7h1v1h-1zM98.5 76.8h1v1h-1zM110.1 74.9h1v1h-1zM116.2 69.9h1v1h-1zM101.7 81.8h1v1h-1zM107.1 70.5h1v1h-1zM99.0 73.4h1v1h-1zM109.6 78.0h1v1h-1zM110.3 69.3h1v1h-1zM98.8 78.2h1v1h-1zM115.6 71.7h1v1h-1zM106.5 78.7h1v1h-1zM108.1 80.3h1v1h-1zM101.0 71.9h1v1h-1zM107.2 79.9h1v1h-1zM108.5 79.8h1v1h-1zM116.8 72.5h1v1h-1zM97.8 110.5h1v1h-1zM99.1 110.1h1v1h-1zM101.0 113.7h1v1h-1zM97.3 111.9h1v1h-1zM98.7 112.5h1v1h-1zM99.0 111.9h1v1h-1zM98.8 109.5h1v1h-1zM98.3 113.2h1v1h-1zM98.3 113.7h1v1h-1zM99.3 112.1h1v1h-1zM99.6 115.0h1v1h-1zM100.6 113.9h1v1h-1zM98.4 113.6h1v1h-1zM99.5 114.1h1v1h-1zM100.4 114.1h1v1h-1zM101.0 112.5h1v1h-1zM100.1 110.5h1v1h-1zM100.9 111.7h1v1h-1zM98.1 111.7h1v1h-1zM99.7 113.9h1v1h-1zM100.7 112.3h1v1h-1zM98.6 109.6h1v1h-1zM97.8 112.9h1v1h-1zM100.9 113.6h1v1h-1zM98.5 114.8h1v1h-1z" fill="#3a58d0" opacity="1"/>
<path d="M100.1 74.6h1v1h-1zM101.0 77.0h1v1h-1zM103.7 72.2h1v1h-1zM100.7 77.0h1v1h-1zM103.9 77.9h1v1h-1zM107.0 72.2h1v1h-1zM101.2 73.8h1v1h-1zM100.8 79.1h1v1h-1zM100.0 74.3h1v1h-1zM101.3 77.0h1v1h-1zM101.5 72.8h1v1h-1zM103.0 78.1h1v1h-1zM101.0 77.6h1v1h-1zM101.0 75.5h1v1h-1zM107.2 75.1h1v1h-1zM99.7 77.4h1v1h-1zM105.1 72.0h1v1h-1zM100.2 74.3h1v1h-1zM106.4 71.8h1v1h-1zM103.8 78.2h1v1h-1zM103.2 78.0h1v1h-1zM107.2 75.7h1v1h-1zM105.0 72.0h1v1h-1zM102.0 77.7h1v1h-1zM102.9 72.1h1v1h-1zM105.0 72.1h1v1h-1zM105.8 77.1h1v1h-1zM104.0 77.9h1v1h-1zM100.8 76.2h1v1h-1zM107.5 73.3h1v1h-1zM109.4 72.4h1v1h-1zM104.6 77.9h1v1h-1zM101.1 76.8h1v1h-1zM106.1 78.2h1v1h-1zM107.6 76.9h1v1h-1zM108.1 72.1h1v1h-1zM100.3 76.7h1v1h-1zM103.4 78.8h1v1h-1zM104.2 78.8h1v1h-1zM102.5 72.6h1v1h-1zM101.0 77.7h1v1h-1zM100.6 78.9h1v1h-1zM108.9 73.6h1v1h-1zM101.5 73.4h1v1h-1zM103.2 77.9h1v1h-1zM101.5 78.7h1v1h-1zM103.7 78.4h1v1h-1zM108.0 71.4h1v1h-1zM107.3 75.0h1v1h-1zM104.3 78.3h1v1h-1zM100.6 75.8h1v1h-1zM107.3 76.5h1v1h-1zM102.5 73.0h1v1h-1zM102.5 78.0h1v1h-1zM101.5 72.3h1v1h-1zM106.1 77.9h1v1h-1zM104.4 71.6h1v1h-1zM102.6 78.1h1v1h-1zM108.4 73.8h1v1h-1zM106.3 78.3h1v1h-1zM100.8 77.9h1v1h-1zM105.0 72.1h1v1h-1zM99.9 78.1h1v1h-1zM101.1 77.4h1v1h-1zM105.5 77.8h1v1h-1zM103.2 78.2h1v1h-1zM108.4 74.5h1v1h-1zM107.2 73.6h1v1h-1zM106.7 72.2h1v1h-1zM108.0 73.6h1v1h-1zM108.5 74.7h1v1h-1zM109.4 72.1h1v1h-1zM104.6 71.3h1v1h-1zM109.0 72.7h1v1h-1zM107.4 73.2h1v1h-1zM107.6 75.4h1v1h-1zM106.8 72.3h1v1h-1zM107.6 74.7h1v1h-1zM108.7 72.3h1v1h-1zM109.6 73.4h1v1h-1zM108.0 74.9h1v1h-1zM103.1 78.9h1v1h-1zM107.0 71.1h1v1h-1zM101.2 73.3h1v1h-1zM107.0 72.7h1v1h-1zM107.3 72.0h1v1h-1zM103.7 78.1h1v1h-1zM107.9 73.8h1v1h-1zM107.7 73.7h1v1h-1zM106.1 78.0h1v1h-1z" fill="#38a0dc" opacity="1"/>
<path d="M103.1 73.0h1v1h-1zM105.4 72.4h1v1h-1zM104.9 74.7h1v1h-1zM103.3 73.1h1v1h-1zM104.1 74.6h1v1h-1zM104.4 76.7h1v1h-1zM104.3 73.3h1v1h-1zM102.3 75.1h1v1h-1zM101.9 76.7h1v1h-1zM103.1 74.9h1v1h-1zM102.4 76.1h1v1h-1zM102.9 76.5h1v1h-1zM103.2 75.2h1v1h-1zM106.4 73.2h1v1h-1zM103.1 77.8h1v1h-1zM102.6 73.1h1v1h-1zM103.2 73.9h1v1h-1zM101.9 75.9h1v1h-1zM106.2 75.1h1v1h-1zM106.0 74.8h1v1h-1zM103.1 74.1h1v1h-1zM102.3 73.4h1v1h-1zM103.7 76.4h1v1h-1zM103.0 74.4h1v1h-1zM104.9 73.8h1v1h-1zM106.8 74.4h1v1h-1zM104.1 74.4h1v1h-1zM106.2 74.6h1v1h-1zM103.7 76.0h1v1h-1zM102.3 76.1h1v1h-1zM102.5 74.0h1v1h-1zM105.3 76.4h1v1h-1zM104.3 75.4h1v1h-1zM104.4 75.3h1v1h-1zM105.8 73.9h1v1h-1zM103.0 73.5h1v1h-1zM103.2 77.1h1v1h-1zM103.4 73.9h1v1h-1zM105.3 72.3h1v1h-1zM103.5 74.5h1v1h-1zM106.3 75.1h1v1h-1zM102.6 74.5h1v1h-1zM104.7 74.3h1v1h-1zM103.5 76.3h1v1h-1zM107.0 73.6h1v1h-1zM102.0 74.6h1v1h-1zM104.7 77.0h1v1h-1zM104.2 74.4h1v1h-1zM106.0 73.5h1v1h-1zM102.5 75.2h1v1h-1zM104.6 72.9h1v1h-1zM104.3 74.4h1v1h-1zM102.1 75.0h1v1h-1zM105.0 72.3h1v1h-1zM103.2 75.0h1v1h-1zM103.5 75.5h1v1h-1zM105.0 74.7h1v1h-1zM104.9 73.6h1v1h-1zM105.1 74.1h1v1h-1zM105.2 74.6h1v1h-1zM103.1 77.6h1v1h-1zM104.0 77.4h1v1h-1zM103.3 77.5h1v1h-1zM102.7 75.0h1v1h-1zM105.4 75.0h1v1h-1zM103.0 76.5h1v1h-1zM103.7 73.3h1v1h-1zM103.7 74.1h1v1h-1zM106.1 73.9h1v1h-1zM102.5 73.4h1v1h-1zM102.9 74.9h1v1h-1zM104.2 75.2h1v1h-1zM105.8 74.3h1v1h-1zM104.3 77.5h1v1h-1zM102.7 74.8h1v1h-1zM104.6 73.1h1v1h-1zM105.3 74.9h1v1h-1zM103.0 74.0h1v1h-1zM106.3 73.4h1v1h-1zM103.4 75.3h1v1h-1zM104.4 75.9h1v1h-1zM104.0 72.9h1v1h-1zM107.1 74.5h1v1h-1zM106.1 74.7h1v1h-1zM102.0 73.6h1v1h-1zM103.6 75.2h1v1h-1zM107.1 74.6h1v1h-1zM106.7 73.0h1v1h-1zM106.4 75.4h1v1h-1zM104.5 75.6h1v1h-1zM104.3 76.9h1v1h-1zM105.7 76.3h1v1h-1zM104.1 76.4h1v1h-1zM105.0 72.6h1v1h-1zM105.1 75.2h1v1h-1zM103.7 72.9h1v1h-1zM103.5 76.4h1v1h-1zM105.2 72.8h1v1h-1zM101.7 74.9h1v1h-1zM102.8 76.6h1v1h-1zM105.4 73.3h1v1h-1zM104.0 75.3h1v1h-1zM103.6 74.6h1v1h-1zM101.3 75.8h1v1h-1z" fill="#88c840" opacity="1"/>
<rect x="53.5" y="44.5" width="86.1" height="76.9" fill="none" stroke="#7a7a7a" stroke-width="0.9"/>
<line x1="92.6" y1="44.5" x2="92.6" y2="121.4" stroke="#888" stroke-width="0.9"/>
<line x1="53.5" y1="86.2" x2="139.6" y2="86.2" stroke="#888" stroke-width="0.9"/>
<text x="94.7" y="41.3" font-size="9.6" font-weight="bold" text-anchor="middle" fill="#1a1a1a" >control Ab</text>
<text x="55.9" y="52.7" font-size="5.3" text-anchor="start" fill="#1a1a1a" >Q1</text>
<text x="55.9" y="58.6" font-size="5.3" text-anchor="start" fill="#1a1a1a" >0.337%</text>
<text x="121.97" y="52.7" font-size="5.3" text-anchor="start" fill="#1a1a1a" >Q2</text>
<text x="121.97" y="58.6" font-size="5.3" text-anchor="start" fill="#1a1a1a" >89.1%</text>
<text x="55.9" y="110.5" font-size="5.3" text-anchor="start" fill="#1a1a1a" >Q4</text>
<text x="55.9" y="116.5" font-size="5.3" text-anchor="start" fill="#1a1a1a" >0.240%</text>
<text x="121.97" y="110.5" font-size="5.3" text-anchor="start" fill="#1a1a1a" >Q3</text>
<text x="121.97" y="116.5" font-size="5.3" text-anchor="start" fill="#1a1a1a" >10.4%</text>
<text x="49.3" y="53.5" font-size="6.2" text-anchor="end" fill="#1a1a1a">10<tspan dy="-2.4" font-size="4">5</tspan></text>
<line x1="51.7" y1="51.3" x2="53.5" y2="51.3" stroke="#222" stroke-width="0.8"/>
<text x="49.3" y="70.9" font-size="6.2" text-anchor="end" fill="#1a1a1a">10<tspan dy="-2.4" font-size="4">4</tspan></text>
<line x1="51.7" y1="68.7" x2="53.5" y2="68.7" stroke="#222" stroke-width="0.8"/>
<text x="49.3" y="88.7" font-size="6.2" text-anchor="end" fill="#1a1a1a">10<tspan dy="-2.4" font-size="4">3</tspan></text>
<line x1="51.7" y1="86.5" x2="53.5" y2="86.5" stroke="#222" stroke-width="0.8"/>
<text x="49.3" y="106.9" font-size="6.2" text-anchor="end" fill="#1a1a1a">10<tspan dy="-2.4" font-size="4">2</tspan></text>
<line x1="51.7" y1="104.7" x2="53.5" y2="104.7" stroke="#222" stroke-width="0.8"/>
<text x="47.0" y="115.4" font-size="6.2" text-anchor="end" fill="#1a1a1a" >0</text>
<line x1="51.7" y1="113.2" x2="53.5" y2="113.2" stroke="#222" stroke-width="0.8"/>
<line x1="52.4" y1="81.14166607718113" x2="53.5" y2="81.14166607718113" stroke="#444" stroke-width="0.6"/>
<line x1="52.4" y1="78.00724166599001" x2="53.5" y2="78.00724166599001" stroke="#444" stroke-width="0.6"/>
<line x1="52.4" y1="75.78333215436227" x2="53.5" y2="75.78333215436227" stroke="#444" stroke-width="0.6"/>
<line x1="52.4" y1="74.05833392281886" x2="53.5" y2="74.05833392281886" stroke="#444" stroke-width="0.6"/>
<line x1="52.4" y1="72.64890774317115" x2="53.5" y2="72.64890774317115" stroke="#444" stroke-width="0.6"/>
<line x1="52.4" y1="71.45725488774623" x2="53.5" y2="71.45725488774623" stroke="#444" stroke-width="0.6"/>
<line x1="52.4" y1="70.42499823154341" x2="53.5" y2="70.42499823154341" stroke="#444" stroke-width="0.6"/>
<line x1="52.4" y1="69.51448333198002" x2="53.5" y2="69.51448333198002" stroke="#444" stroke-width="0.6"/>
<line x1="52.4" y1="63.462078075446726" x2="53.5" y2="63.462078075446726" stroke="#444" stroke-width="0.6"/>
<line x1="52.4" y1="60.398090167877875" x2="53.5" y2="60.398090167877875" stroke="#444" stroke-width="0.6"/>
<line x1="52.4" y1="58.22415615089345" x2="53.5" y2="58.22415615089345" stroke="#444" stroke-width="0.6"/>
<line x1="52.4" y1="56.537921924553274" x2="53.5" y2="56.537921924553274" stroke="#444" stroke-width="0.6"/>
<line x1="52.4" y1="55.1601682433246" x2="53.5" y2="55.1601682433246" stroke="#444" stroke-width="0.6"/>
<line x1="52.4" y1="53.99529410375193" x2="53.5" y2="53.99529410375193" stroke="#444" stroke-width="0.6"/>
<line x1="52.4" y1="52.98623422634018" x2="53.5" y2="52.98623422634018" stroke="#444" stroke-width="0.6"/>
<line x1="52.4" y1="52.09618033575575" x2="53.5" y2="52.09618033575575" stroke="#444" stroke-width="0.6"/>
<line x1="98.18080591241241" y1="121.4" x2="98.18080591241241" y2="122.5" stroke="#444" stroke-width="0.6"/>
<line x1="101.73784934533718" y1="121.4" x2="101.73784934533718" y2="122.5" stroke="#444" stroke-width="0.6"/>
<line x1="104.26161182482484" y1="121.4" x2="104.26161182482484" y2="122.5" stroke="#444" stroke-width="0.6"/>
<line x1="106.21919408758758" y1="121.4" x2="106.21919408758758" y2="122.5" stroke="#444" stroke-width="0.6"/>
<line x1="107.8186552577496" y1="121.4" x2="107.8186552577496" y2="122.5" stroke="#444" stroke-width="0.6"/>
<line x1="109.17098040828799" y1="121.4" x2="109.17098040828799" y2="122.5" stroke="#444" stroke-width="0.6"/>
<line x1="110.34241773723726" y1="121.4" x2="110.34241773723726" y2="122.5" stroke="#444" stroke-width="0.6"/>
<line x1="111.37569869067435" y1="121.4" x2="111.37569869067435" y2="122.5" stroke="#444" stroke-width="0.6"/>
<line x1="117.92926091891644" y1="121.4" x2="117.92926091891644" y2="122.5" stroke="#444" stroke-width="0.6"/>
<line x1="121.22216746325769" y1="121.4" x2="121.22216746325769" y2="122.5" stroke="#444" stroke-width="0.6"/>
<line x1="123.5585218378329" y1="121.4" x2="123.5585218378329" y2="122.5" stroke="#444" stroke-width="0.6"/>
<line x1="125.37073908108356" y1="121.4" x2="125.37073908108356" y2="122.5" stroke="#444" stroke-width="0.6"/>
<line x1="126.85142838217413" y1="121.4" x2="126.85142838217413" y2="122.5" stroke="#444" stroke-width="0.6"/>
<line x1="128.1033333482666" y1="121.4" x2="128.1033333482666" y2="122.5" stroke="#444" stroke-width="0.6"/>
<line x1="129.18778275674936" y1="121.4" x2="129.18778275674936" y2="122.5" stroke="#444" stroke-width="0.6"/>
<line x1="130.14433492651537" y1="121.4" x2="130.14433492651537" y2="122.5" stroke="#444" stroke-width="0.6"/>
<text x="61.9" y="131.6" font-size="6.2" text-anchor="middle" fill="#1a1a1a" >0</text>
<line x1="61.9" y1="121.4" x2="61.9" y2="123.2" stroke="#222" stroke-width="0.8"/>
<text x="69.3" y="131.6" font-size="6.2" text-anchor="middle" fill="#1a1a1a">10<tspan dy="-2.4" font-size="4">2</tspan></text>
<line x1="69.3" y1="121.4" x2="69.3" y2="123.2" stroke="#222" stroke-width="0.8"/>
<text x="92.1" y="131.6" font-size="6.2" text-anchor="middle" fill="#1a1a1a">10<tspan dy="-2.4" font-size="4">3</tspan></text>
<line x1="92.1" y1="121.4" x2="92.1" y2="123.2" stroke="#222" stroke-width="0.8"/>
<text x="112.3" y="131.6" font-size="6.2" text-anchor="middle" fill="#1a1a1a">10<tspan dy="-2.4" font-size="4">4</tspan></text>
<line x1="112.3" y1="121.4" x2="112.3" y2="123.2" stroke="#222" stroke-width="0.8"/>
<text x="131" y="131.6" font-size="6.2" text-anchor="middle" fill="#1a1a1a">10<tspan dy="-2.4" font-size="4">5</tspan></text>
<line x1="131" y1="121.4" x2="131" y2="123.2" stroke="#222" stroke-width="0.8"/>
<path d="M230.9 68.2h1v1h-1zM228.2 66.5h1v1h-1zM231.3 68.9h1v1h-1zM225.7 70.4h1v1h-1zM216.3 62.9h1v1h-1zM224.0 65.0h1v1h-1zM220.5 68.9h1v1h-1zM222.1 57.3h1v1h-1zM236.4 50.8h1v1h-1zM193.5 74.4h1v1h-1zM210.5 61.6h1v1h-1zM214.4 75.3h1v1h-1zM205.1 62.5h1v1h-1zM207.2 79.0h1v1h-1zM217.0 68.8h1v1h-1zM215.0 71.2h1v1h-1zM212.7 74.3h1v1h-1zM214.2 70.2h1v1h-1zM201.2 60.0h1v1h-1zM192.2 76.5h1v1h-1zM219.9 56.3h1v1h-1zM215.2 72.2h1v1h-1zM202.4 66.9h1v1h-1zM213.6 60.8h1v1h-1zM207.5 68.6h1v1h-1zM202.5 86.0h1v1h-1zM215.2 53.7h1v1h-1zM195.9 70.6h1v1h-1zM214.8 70.3h1v1h-1zM206.7 55.5h1v1h-1zM225.6 58.8h1v1h-1zM221.3 56.2h1v1h-1zM209.2 57.7h1v1h-1zM206.5 69.0h1v1h-1zM206.9 64.1h1v1h-1zM223.0 59.8h1v1h-1zM229.1 56.2h1v1h-1zM223.9 69.3h1v1h-1zM209.0 70.1h1v1h-1zM222.3 59.8h1v1h-1zM208.9 65.8h1v1h-1zM210.8 68.5h1v1h-1zM215.9 72.6h1v1h-1zM211.1 53.4h1v1h-1zM218.7 67.3h1v1h-1zM219.5 57.1h1v1h-1zM224.2 58.0h1v1h-1zM219.2 64.2h1v1h-1zM199.4 84.9h1v1h-1zM201.9 78.0h1v1h-1zM213.7 63.2h1v1h-1zM214.7 67.8h1v1h-1zM230.6 52.1h1v1h-1zM213.0 65.3h1v1h-1zM197.0 83.1h1v1h-1zM210.3 61.5h1v1h-1zM196.1 67.1h1v1h-1zM236.5 63.6h1v1h-1zM216.9 61.5h1v1h-1zM219.3 79.6h1v1h-1zM211.2 83.2h1v1h-1zM214.1 56.3h1v1h-1zM193.8 72.9h1v1h-1zM218.8 80.9h1v1h-1zM213.2 90.2h1v1h-1zM217.2 61.2h1v1h-1zM200.0 71.7h1v1h-1zM205.4 62.7h1v1h-1zM209.4 63.2h1v1h-1zM192.6 75.9h1v1h-1zM200.7 84.8h1v1h-1zM230.3 63.3h1v1h-1zM196.6 73.5h1v1h-1zM224.1 52.9h1v1h-1zM225.4 68.6h1v1h-1zM197.8 79.8h1v1h-1zM213.5 88.1h1v1h-1zM208.7 61.5h1v1h-1zM200.4 85.3h1v1h-1zM201.4 91.6h1v1h-1zM214.0 60.3h1v1h-1zM207.8 63.4h1v1h-1zM222.5 76.0h1v1h-1zM229.6 58.3h1v1h-1zM194.5 62.5h1v1h-1zM200.0 72.4h1v1h-1zM199.3 66.7h1v1h-1zM202.4 67.4h1v1h-1zM225.6 58.0h1v1h-1zM211.3 60.8h1v1h-1zM187.7 87.5h1v1h-1zM196.3 89.3h1v1h-1zM207.5 64.0h1v1h-1zM219.1 84.1h1v1h-1zM228.7 78.3h1v1h-1zM201.1 85.8h1v1h-1zM230.5 66.1h1v1h-1zM195.8 78.7h1v1h-1zM200.7 69.5h1v1h-1zM192.4 69.6h1v1h-1zM218.5 59.9h1v1h-1zM208.0 58.3h1v1h-1zM221.7 79.1h1v1h-1zM239.4 66.0h1v1h-1zM201.6 62.7h1v1h-1zM206.8 63.7h1v1h-1zM195.7 71.7h1v1h-1zM198.8 77.2h1v1h-1zM197.9 65.4h1v1h-1zM227.2 67.7h1v1h-1zM203.7 63.4h1v1h-1zM202.5 88.2h1v1h-1zM201.6 67.7h1v1h-1zM195.9 91.0h1v1h-1zM225.4 62.8h1v1h-1zM215.6 87.0h1v1h-1zM214.9 81.9h1v1h-1zM195.1 76.4h1v1h-1zM208.4 118.4h1v1h-1zM209.4 114.1h1v1h-1zM198.4 117.2h1v1h-1zM196.5 113.9h1v1h-1zM207.6 119.2h1v1h-1zM208.5 117.6h1v1h-1zM201.4 119.7h1v1h-1zM195.5 113.1h1v1h-1zM208.7 86.7h1v1h-1zM208.2 94.0h1v1h-1zM210.4 104.1h1v1h-1zM211.1 102.8h1v1h-1zM209.8 89.5h1v1h-1zM198.4 92.2h1v1h-1zM207.2 92.8h1v1h-1zM205.9 92.3h1v1h-1zM204.9 90.1h1v1h-1zM209.5 95.4h1v1h-1zM198.5 96.6h1v1h-1zM205.4 87.0h1v1h-1zM201.3 89.5h1v1h-1zM207.1 94.2h1v1h-1zM207.4 89.1h1v1h-1zM197.9 96.0h1v1h-1zM204.2 87.3h1v1h-1zM199.6 98.1h1v1h-1zM198.7 85.5h1v1h-1zM205.8 88.8h1v1h-1zM196.1 94.7h1v1h-1zM185.6 101.4h1v1h-1zM189.1 58.4h1v1h-1zM210.5 77.0h1v1h-1zM227.1 82.4h1v1h-1zM223.3 79.5h1v1h-1zM217.1 66.5h1v1h-1zM197.7 94.0h1v1h-1zM217.1 72.5h1v1h-1zM192.5 77.6h1v1h-1zM222.9 79.9h1v1h-1zM204.5 47.1h1v1h-1zM199.5 94.6h1v1h-1zM200.1 90.7h1v1h-1zM218.9 72.8h1v1h-1zM202.3 84.8h1v1h-1zM182.4 83.8h1v1h-1zM200.5 79.3h1v1h-1zM188.8 88.4h1v1h-1zM234.8 79.7h1v1h-1zM208.1 73.4h1v1h-1zM181.5 67.7h1v1h-1zM212.7 111.9h1v1h-1zM220.8 85.4h1v1h-1zM214.7 81.5h1v1h-1zM201.4 94.8h1v1h-1zM210.6 74.9h1v1h-1zM212.9 75.0h1v1h-1zM225.9 93.8h1v1h-1zM214.4 100.3h1v1h-1zM204.1 55.4h1v1h-1zM235.3 82.9h1v1h-1zM208.2 81.5h1v1h-1zM177.3 90.0h1v1h-1zM186.9 66.1h1v1h-1zM175.3 63.1h1v1h-1zM177.1 79.8h1v1h-1zM229.5 66.0h1v1h-1zM196.1 62.8h1v1h-1zM218.7 80.6h1v1h-1zM192.0 98.4h1v1h-1zM207.7 84.3h1v1h-1zM189.0 101.8h1v1h-1zM223.5 64.1h1v1h-1zM203.4 94.5h1v1h-1zM199.8 81.6h1v1h-1zM205.0 66.2h1v1h-1zM216.0 66.5h1v1h-1zM222.9 78.0h1v1h-1zM185.7 68.5h1v1h-1zM196.3 104.3h1v1h-1zM213.2 75.4h1v1h-1zM174.6 56.5h1v1h-1zM231.9 78.3h1v1h-1zM212.8 88.7h1v1h-1zM207.6 76.2h1v1h-1zM204.4 97.1h1v1h-1zM203.7 65.6h1v1h-1zM198.9 66.6h1v1h-1zM232.9 110.7h1v1h-1zM220.2 81.9h1v1h-1zM230.2 91.5h1v1h-1zM202.5 90.6h1v1h-1zM192.2 92.1h1v1h-1zM232.3 82.6h1v1h-1zM186.1 78.4h1v1h-1zM197.0 101.1h1v1h-1z" fill="#b4bfea" opacity="0.8"/>
<path d="M199.8 79.4h1v1h-1zM200.8 75.7h1v1h-1zM212.9 80.5h1v1h-1zM199.1 78.5h1v1h-1zM210.2 82.0h1v1h-1zM201.3 79.3h1v1h-1zM222.6 65.7h1v1h-1zM217.6 64.1h1v1h-1zM211.7 82.8h1v1h-1zM222.4 68.7h1v1h-1zM219.8 75.7h1v1h-1zM220.2 75.4h1v1h-1zM216.6 80.9h1v1h-1zM221.8 66.8h1v1h-1zM222.1 72.5h1v1h-1zM220.2 65.4h1v1h-1zM221.7 74.8h1v1h-1zM221.5 73.7h1v1h-1zM217.0 64.6h1v1h-1zM222.8 65.8h1v1h-1zM215.4 80.0h1v1h-1zM223.1 69.7h1v1h-1zM219.3 64.9h1v1h-1zM213.0 65.6h1v1h-1zM203.7 69.3h1v1h-1zM208.3 67.6h1v1h-1zM202.5 82.1h1v1h-1zM223.5 71.6h1v1h-1zM222.1 70.9h1v1h-1zM202.2 89.5h1v1h-1zM203.5 70.8h1v1h-1zM220.1 78.2h1v1h-1zM203.8 70.7h1v1h-1zM223.1 63.9h1v1h-1zM217.4 80.4h1v1h-1zM208.2 65.7h1v1h-1zM205.4 66.5h1v1h-1zM206.3 84.7h1v1h-1zM219.3 64.8h1v1h-1zM220.0 64.0h1v1h-1zM202.9 82.5h1v1h-1zM223.1 69.7h1v1h-1zM220.1 62.2h1v1h-1zM206.9 85.4h1v1h-1zM221.3 64.1h1v1h-1zM221.4 62.8h1v1h-1zM201.9 85.5h1v1h-1zM216.7 62.3h1v1h-1zM201.3 74.5h1v1h-1zM202.8 68.1h1v1h-1zM202.8 69.5h1v1h-1zM214.4 63.0h1v1h-1zM208.6 82.3h1v1h-1zM201.2 81.8h1v1h-1zM202.7 98.1h1v1h-1zM201.3 118.9h1v1h-1zM206.4 100.6h1v1h-1zM205.2 118.9h1v1h-1zM203.0 98.8h1v1h-1zM198.7 109.9h1v1h-1zM199.5 103.1h1v1h-1zM198.6 113.6h1v1h-1zM202.9 118.6h1v1h-1zM199.7 106.6h1v1h-1zM202.3 98.5h1v1h-1zM201.4 116.9h1v1h-1zM206.8 101.9h1v1h-1zM203.8 118.8h1v1h-1zM205.5 117.4h1v1h-1zM208.1 105.7h1v1h-1zM201.4 104.2h1v1h-1zM205.0 119.4h1v1h-1zM199.0 107.9h1v1h-1zM206.1 115.9h1v1h-1zM199.4 106.7h1v1h-1zM203.8 119.8h1v1h-1zM206.7 105.0h1v1h-1zM198.1 114.0h1v1h-1zM201.2 99.3h1v1h-1zM207.6 106.1h1v1h-1zM208.6 106.0h1v1h-1zM207.1 115.6h1v1h-1zM199.6 115.5h1v1h-1zM202.4 118.0h1v1h-1zM203.6 118.9h1v1h-1zM200.3 104.5h1v1h-1zM204.3 98.8h1v1h-1zM205.8 117.3h1v1h-1zM204.3 117.9h1v1h-1zM208.5 113.7h1v1h-1zM204.7 117.7h1v1h-1zM204.5 100.3h1v1h-1zM207.2 105.6h1v1h-1zM197.5 114.9h1v1h-1zM208.1 115.4h1v1h-1zM200.4 105.3h1v1h-1zM201.6 118.1h1v1h-1zM204.7 118.1h1v1h-1zM199.9 105.3h1v1h-1zM206.5 118.3h1v1h-1zM200.5 101.0h1v1h-1zM207.6 104.3h1v1h-1zM206.6 114.7h1v1h-1zM201.7 100.5h1v1h-1zM208.5 111.3h1v1h-1zM200.9 104.3h1v1h-1zM199.4 102.5h1v1h-1zM205.3 117.4h1v1h-1zM207.1 101.1h1v1h-1zM205.3 101.5h1v1h-1zM202.3 103.3h1v1h-1zM205.8 100.4h1v1h-1zM201.7 107.0h1v1h-1zM203.4 109.9h1v1h-1zM202.2 90.6h1v1h-1zM206.1 103.1h1v1h-1zM207.4 98.3h1v1h-1zM202.5 97.8h1v1h-1zM205.2 93.6h1v1h-1zM203.4 97.3h1v1h-1zM204.3 91.5h1v1h-1zM207.6 95.7h1v1h-1zM204.4 82.7h1v1h-1zM203.9 102.9h1v1h-1zM203.9 107.7h1v1h-1zM206.8 97.1h1v1h-1zM200.6 99.4h1v1h-1zM206.6 94.9h1v1h-1zM204.7 98.8h1v1h-1zM201.9 97.1h1v1h-1zM207.6 108.9h1v1h-1zM207.6 95.6h1v1h-1zM206.0 85.2h1v1h-1zM202.6 91.7h1v1h-1zM205.2 98.3h1v1h-1zM205.7 104.8h1v1h-1zM203.7 92.0h1v1h-1zM206.5 96.5h1v1h-1zM202.1 100.0h1v1h-1zM204.4 90.0h1v1h-1zM206.5 98.6h1v1h-1zM203.4 100.4h1v1h-1zM204.5 102.5h1v1h-1zM206.8 104.8h1v1h-1zM208.2 101.2h1v1h-1zM202.4 99.2h1v1h-1zM203.1 77.6h1v1h-1zM204.4 106.8h1v1h-1zM202.9 97.4h1v1h-1zM200.8 80.3h1v1h-1zM201.5 98.9h1v1h-1zM205.7 83.9h1v1h-1zM205.7 101.0h1v1h-1zM203.5 104.0h1v1h-1zM203.6 118.6h1v1h-1zM208.2 105.5h1v1h-1zM205.2 97.8h1v1h-1zM204.2 103.3h1v1h-1zM206.8 97.9h1v1h-1z" fill="#8098dc" opacity="0.9"/>
<path d="M204.9 72.8h1v1h-1zM207.9 69.8h1v1h-1zM203.8 75.0h1v1h-1zM214.3 77.9h1v1h-1zM206.9 70.8h1v1h-1zM204.8 81.5h1v1h-1zM203.0 77.7h1v1h-1zM214.8 77.0h1v1h-1zM204.6 71.4h1v1h-1zM203.9 76.5h1v1h-1zM209.8 69.0h1v1h-1zM202.2 79.1h1v1h-1zM205.0 79.9h1v1h-1zM218.3 73.5h1v1h-1zM203.7 75.9h1v1h-1zM203.1 78.0h1v1h-1zM209.7 69.6h1v1h-1zM204.2 77.8h1v1h-1zM204.2 70.5h1v1h-1zM202.9 73.8h1v1h-1zM203.5 73.4h1v1h-1zM205.9 82.0h1v1h-1zM217.8 72.3h1v1h-1zM207.4 80.6h1v1h-1zM203.1 80.8h1v1h-1zM203.6 75.2h1v1h-1zM211.0 68.2h1v1h-1zM211.8 79.5h1v1h-1zM203.7 73.9h1v1h-1zM204.5 78.7h1v1h-1zM207.9 70.4h1v1h-1zM213.1 68.6h1v1h-1zM208.7 80.9h1v1h-1zM205.3 81.2h1v1h-1zM209.9 79.2h1v1h-1zM203.6 77.9h1v1h-1zM204.4 78.6h1v1h-1zM207.5 70.1h1v1h-1zM205.9 70.8h1v1h-1zM203.3 74.3h1v1h-1zM204.3 82.3h1v1h-1zM205.3 79.3h1v1h-1zM201.7 79.4h1v1h-1zM210.4 79.1h1v1h-1zM203.2 75.6h1v1h-1zM203.9 81.3h1v1h-1zM214.4 66.1h1v1h-1zM217.4 74.8h1v1h-1zM218.0 72.2h1v1h-1zM207.4 81.6h1v1h-1zM219.2 71.8h1v1h-1zM218.6 70.0h1v1h-1zM215.9 76.1h1v1h-1zM218.7 75.3h1v1h-1zM212.1 67.9h1v1h-1zM221.2 67.4h1v1h-1zM215.5 67.4h1v1h-1zM212.8 68.0h1v1h-1zM212.1 68.3h1v1h-1zM221.1 67.8h1v1h-1zM216.1 76.5h1v1h-1zM220.1 65.7h1v1h-1zM219.6 66.7h1v1h-1zM213.9 78.1h1v1h-1zM217.4 76.2h1v1h-1zM206.3 70.8h1v1h-1zM219.4 70.5h1v1h-1zM216.0 65.3h1v1h-1zM218.4 69.6h1v1h-1zM216.2 67.2h1v1h-1zM214.9 68.6h1v1h-1zM217.6 65.9h1v1h-1zM215.4 67.9h1v1h-1zM219.7 70.0h1v1h-1zM219.6 72.0h1v1h-1zM219.0 68.6h1v1h-1zM218.8 69.9h1v1h-1zM217.6 68.2h1v1h-1zM218.2 70.8h1v1h-1zM214.9 78.1h1v1h-1zM219.5 73.5h1v1h-1zM212.0 68.6h1v1h-1zM219.5 70.6h1v1h-1zM217.7 76.0h1v1h-1zM211.9 78.2h1v1h-1zM221.1 69.2h1v1h-1zM218.1 67.6h1v1h-1zM217.6 72.9h1v1h-1zM221.0 68.0h1v1h-1zM219.3 70.2h1v1h-1zM218.3 68.1h1v1h-1zM217.2 75.4h1v1h-1zM215.6 77.0h1v1h-1zM218.9 73.6h1v1h-1zM216.6 68.6h1v1h-1zM219.3 72.3h1v1h-1zM215.1 77.8h1v1h-1zM213.0 78.9h1v1h-1zM204.5 77.9h1v1h-1zM216.3 76.1h1v1h-1zM205.7 82.8h1v1h-1zM211.9 78.9h1v1h-1zM221.3 67.5h1v1h-1zM212.3 79.2h1v1h-1zM217.5 68.0h1v1h-1zM202.6 80.6h1v1h-1zM218.2 69.7h1v1h-1zM217.7 66.6h1v1h-1zM214.0 67.6h1v1h-1zM219.0 70.7h1v1h-1zM203.0 78.9h1v1h-1zM207.1 82.5h1v1h-1zM208.6 70.3h1v1h-1zM210.5 68.4h1v1h-1zM220.4 72.2h1v1h-1zM203.7 79.5h1v1h-1zM219.6 66.4h1v1h-1zM213.3 80.1h1v1h-1zM217.4 64.9h1v1h-1zM218.2 74.5h1v1h-1zM207.5 69.9h1v1h-1zM211.6 79.5h1v1h-1zM221.6 68.3h1v1h-1zM218.3 75.2h1v1h-1zM204.0 74.0h1v1h-1zM210.6 80.3h1v1h-1zM201.9 75.4h1v1h-1zM211.5 67.7h1v1h-1zM209.9 80.6h1v1h-1zM214.3 67.0h1v1h-1zM217.3 65.7h1v1h-1zM203.4 74.1h1v1h-1zM214.2 67.7h1v1h-1zM205.0 79.2h1v1h-1zM220.5 68.1h1v1h-1zM220.9 72.5h1v1h-1zM219.9 74.0h1v1h-1zM205.5 82.0h1v1h-1zM215.3 77.5h1v1h-1zM202.2 74.2h1v1h-1zM218.5 66.4h1v1h-1zM206.5 70.7h1v1h-1zM203.6 81.6h1v1h-1zM218.3 73.4h1v1h-1zM216.5 67.3h1v1h-1zM206.5 82.0h1v1h-1zM220.4 68.6h1v1h-1zM203.0 76.7h1v1h-1zM218.5 73.9h1v1h-1zM215.3 78.9h1v1h-1zM204.1 72.8h1v1h-1zM202.5 78.4h1v1h-1zM206.5 113.1h1v1h-1zM199.8 109.2h1v1h-1zM202.8 109.1h1v1h-1zM200.0 111.6h1v1h-1zM201.6 110.0h1v1h-1zM202.5 104.3h1v1h-1zM202.4 114.2h1v1h-1zM204.9 112.8h1v1h-1zM203.4 116.5h1v1h-1zM202.2 110.5h1v1h-1zM203.7 107.8h1v1h-1zM203.8 107.8h1v1h-1zM205.9 106.4h1v1h-1zM204.7 109.8h1v1h-1zM199.8 112.3h1v1h-1zM200.5 109.8h1v1h-1zM201.2 114.5h1v1h-1zM202.8 114.5h1v1h-1zM203.1 108.0h1v1h-1zM204.4 102.4h1v1h-1zM201.1 112.9h1v1h-1zM202.0 106.3h1v1h-1zM203.5 111.2h1v1h-1zM206.4 109.9h1v1h-1zM203.4 112.0h1v1h-1zM205.2 111.9h1v1h-1zM206.3 112.7h1v1h-1zM206.2 110.8h1v1h-1zM201.3 107.5h1v1h-1zM203.4 114.4h1v1h-1zM200.6 112.7h1v1h-1zM203.3 108.8h1v1h-1zM200.0 109.1h1v1h-1zM201.1 115.1h1v1h-1zM201.5 108.0h1v1h-1zM206.3 110.6h1v1h-1zM205.4 110.9h1v1h-1zM201.0 109.7h1v1h-1zM206.2 112.2h1v1h-1zM198.9 113.8h1v1h-1zM201.7 105.9h1v1h-1zM202.9 111.4h1v1h-1zM206.4 108.1h1v1h-1zM204.6 103.1h1v1h-1zM206.7 109.7h1v1h-1zM205.1 114.9h1v1h-1zM206.9 109.4h1v1h-1zM201.3 109.0h1v1h-1zM202.2 112.7h1v1h-1zM205.6 104.5h1v1h-1zM204.0 110.5h1v1h-1zM205.7 110.5h1v1h-1zM205.3 102.8h1v1h-1zM204.6 112.5h1v1h-1zM205.5 108.4h1v1h-1zM201.4 112.7h1v1h-1zM200.7 112.9h1v1h-1zM203.2 104.4h1v1h-1zM199.6 112.8h1v1h-1zM204.8 102.2h1v1h-1zM199.8 111.0h1v1h-1zM203.0 110.1h1v1h-1zM201.1 111.1h1v1h-1zM202.1 116.3h1v1h-1zM207.2 110.1h1v1h-1zM200.6 114.6h1v1h-1zM201.2 113.5h1v1h-1zM204.7 113.0h1v1h-1zM205.7 111.0h1v1h-1zM203.9 111.2h1v1h-1zM203.0 107.3h1v1h-1zM203.2 113.3h1v1h-1zM201.8 110.4h1v1h-1zM204.8 106.6h1v1h-1zM201.3 114.3h1v1h-1zM202.4 109.9h1v1h-1zM201.7 112.3h1v1h-1zM205.7 110.7h1v1h-1zM203.5 107.3h1v1h-1zM200.6 110.9h1v1h-1zM205.6 115.7h1v1h-1zM202.3 110.9h1v1h-1zM200.1 113.0h1v1h-1zM202.4 112.7h1v1h-1zM199.7 110.3h1v1h-1zM204.1 109.5h1v1h-1zM202.4 111.3h1v1h-1zM202.3 116.3h1v1h-1zM203.1 103.3h1v1h-1zM202.4 110.8h1v1h-1zM204.7 111.3h1v1h-1zM200.0 113.2h1v1h-1zM206.9 113.8h1v1h-1zM205.8 105.8h1v1h-1zM202.6 111.7h1v1h-1zM205.1 112.7h1v1h-1zM202.5 115.2h1v1h-1zM200.0 110.1h1v1h-1zM203.5 106.2h1v1h-1zM204.4 111.2h1v1h-1zM203.7 110.8h1v1h-1zM203.7 114.7h1v1h-1zM203.9 103.1h1v1h-1zM199.3 109.5h1v1h-1zM201.0 108.4h1v1h-1zM203.1 114.3h1v1h-1zM202.3 106.0h1v1h-1zM203.2 111.8h1v1h-1zM201.4 111.5h1v1h-1zM201.0 113.4h1v1h-1zM202.6 109.1h1v1h-1zM205.8 110.0h1v1h-1zM204.4 112.7h1v1h-1zM202.5 107.6h1v1h-1zM204.3 106.9h1v1h-1zM199.9 108.4h1v1h-1zM205.8 111.6h1v1h-1zM205.1 110.7h1v1h-1zM204.0 108.8h1v1h-1zM198.9 110.0h1v1h-1zM200.5 113.4h1v1h-1zM204.9 116.9h1v1h-1zM203.7 114.5h1v1h-1zM202.8 107.5h1v1h-1zM202.3 114.7h1v1h-1z" fill="#3a58d0" opacity="1"/>
<path d="M206.0 75.5h1v1h-1zM208.5 78.1h1v1h-1zM215.8 73.8h1v1h-1zM208.6 79.1h1v1h-1zM207.1 75.7h1v1h-1zM207.1 78.6h1v1h-1zM208.6 72.3h1v1h-1zM208.3 79.1h1v1h-1zM210.8 77.7h1v1h-1zM206.3 79.0h1v1h-1zM213.8 69.5h1v1h-1zM205.3 73.9h1v1h-1zM206.8 71.8h1v1h-1zM206.2 77.3h1v1h-1zM205.4 78.2h1v1h-1zM207.9 78.3h1v1h-1zM205.9 73.6h1v1h-1zM207.1 72.8h1v1h-1zM209.6 70.7h1v1h-1zM206.4 74.6h1v1h-1zM205.0 75.7h1v1h-1zM205.7 73.1h1v1h-1zM206.2 73.2h1v1h-1zM207.2 73.4h1v1h-1zM212.0 70.6h1v1h-1zM206.3 77.2h1v1h-1zM212.1 77.2h1v1h-1zM209.3 77.1h1v1h-1zM206.8 78.8h1v1h-1zM212.7 70.0h1v1h-1zM211.6 77.4h1v1h-1zM205.6 73.4h1v1h-1zM207.4 78.4h1v1h-1zM205.0 75.7h1v1h-1zM207.4 72.9h1v1h-1zM210.4 71.0h1v1h-1zM206.6 78.3h1v1h-1zM207.5 79.5h1v1h-1zM205.4 74.2h1v1h-1zM205.2 75.5h1v1h-1zM207.0 78.7h1v1h-1zM208.5 77.2h1v1h-1zM212.6 76.8h1v1h-1zM207.0 76.4h1v1h-1zM212.6 69.2h1v1h-1zM205.4 77.4h1v1h-1zM206.1 73.4h1v1h-1zM209.2 71.9h1v1h-1zM204.8 74.8h1v1h-1zM208.5 79.0h1v1h-1zM205.9 75.5h1v1h-1zM207.6 78.1h1v1h-1zM207.1 78.7h1v1h-1zM207.4 76.9h1v1h-1zM205.6 77.6h1v1h-1zM205.7 74.3h1v1h-1zM207.1 71.5h1v1h-1zM207.1 79.4h1v1h-1zM207.3 79.5h1v1h-1zM205.1 74.2h1v1h-1zM210.6 78.1h1v1h-1zM209.2 78.4h1v1h-1zM206.5 73.5h1v1h-1zM205.1 76.1h1v1h-1zM209.4 78.2h1v1h-1zM205.7 73.5h1v1h-1zM205.2 77.5h1v1h-1zM210.4 70.9h1v1h-1zM204.4 77.1h1v1h-1zM206.7 78.8h1v1h-1zM207.3 73.3h1v1h-1zM206.5 74.4h1v1h-1zM213.2 77.1h1v1h-1zM210.9 76.8h1v1h-1zM206.7 77.7h1v1h-1zM208.7 72.3h1v1h-1zM213.5 69.8h1v1h-1zM207.6 73.0h1v1h-1zM214.6 74.5h1v1h-1zM217.6 70.6h1v1h-1zM217.0 72.9h1v1h-1zM214.1 70.9h1v1h-1zM216.7 70.4h1v1h-1zM216.1 69.8h1v1h-1zM215.3 70.0h1v1h-1zM214.0 76.8h1v1h-1zM217.3 72.7h1v1h-1zM214.2 74.7h1v1h-1zM208.9 71.5h1v1h-1zM211.1 69.6h1v1h-1zM208.6 70.6h1v1h-1zM215.7 73.0h1v1h-1zM215.4 72.6h1v1h-1zM215.5 74.7h1v1h-1zM214.1 68.9h1v1h-1zM217.5 72.7h1v1h-1zM215.6 69.5h1v1h-1zM216.2 69.2h1v1h-1zM212.5 76.4h1v1h-1zM214.1 70.3h1v1h-1zM206.6 78.5h1v1h-1zM215.9 69.5h1v1h-1zM213.3 70.3h1v1h-1zM215.0 75.1h1v1h-1zM212.9 70.3h1v1h-1zM213.2 70.4h1v1h-1zM214.8 74.8h1v1h-1zM212.9 77.1h1v1h-1zM207.6 71.5h1v1h-1zM217.1 70.7h1v1h-1zM216.6 69.8h1v1h-1zM214.9 73.7h1v1h-1zM216.5 73.9h1v1h-1zM217.2 70.6h1v1h-1zM214.8 71.5h1v1h-1zM217.2 70.2h1v1h-1zM216.9 72.4h1v1h-1zM214.8 69.9h1v1h-1zM217.3 71.8h1v1h-1zM216.4 70.9h1v1h-1zM210.5 70.0h1v1h-1zM209.0 77.4h1v1h-1zM214.3 69.8h1v1h-1zM212.2 70.5h1v1h-1zM208.0 72.5h1v1h-1zM215.9 73.8h1v1h-1zM206.7 78.6h1v1h-1zM215.3 75.8h1v1h-1zM206.6 79.3h1v1h-1zM207.2 72.7h1v1h-1zM207.4 72.7h1v1h-1zM215.2 75.1h1v1h-1zM208.5 77.2h1v1h-1zM215.4 70.7h1v1h-1zM206.4 79.5h1v1h-1zM214.5 74.5h1v1h-1zM215.2 74.0h1v1h-1zM206.2 78.2h1v1h-1zM209.8 70.8h1v1h-1zM205.0 74.6h1v1h-1zM206.8 76.6h1v1h-1zM205.3 77.6h1v1h-1zM216.3 69.2h1v1h-1zM214.4 75.3h1v1h-1zM215.4 72.2h1v1h-1zM207.0 79.2h1v1h-1z" fill="#38a0dc" opacity="1"/>
<path d="M209.7 75.9h1v1h-1zM212.3 73.3h1v1h-1zM208.8 74.1h1v1h-1zM211.5 73.4h1v1h-1zM207.6 76.2h1v1h-1zM210.3 75.1h1v1h-1zM208.5 76.2h1v1h-1zM210.0 76.3h1v1h-1zM208.7 73.7h1v1h-1zM211.6 74.7h1v1h-1zM210.3 72.6h1v1h-1zM212.0 75.6h1v1h-1zM208.4 74.0h1v1h-1zM210.2 76.0h1v1h-1zM211.2 73.6h1v1h-1zM214.6 72.3h1v1h-1zM210.1 71.6h1v1h-1zM212.9 74.3h1v1h-1zM211.3 72.7h1v1h-1zM211.4 71.7h1v1h-1zM207.6 73.7h1v1h-1zM210.5 76.4h1v1h-1zM210.3 73.8h1v1h-1zM208.5 76.6h1v1h-1zM209.8 73.2h1v1h-1zM207.9 74.9h1v1h-1zM210.5 75.5h1v1h-1zM212.3 74.9h1v1h-1zM207.3 74.8h1v1h-1zM213.2 72.7h1v1h-1zM208.3 74.3h1v1h-1zM207.8 76.1h1v1h-1zM208.9 75.8h1v1h-1zM210.3 75.4h1v1h-1zM209.9 71.7h1v1h-1zM208.6 73.7h1v1h-1zM211.9 73.9h1v1h-1zM210.1 75.4h1v1h-1zM210.5 72.5h1v1h-1zM211.4 74.5h1v1h-1zM208.5 75.8h1v1h-1zM208.5 76.6h1v1h-1zM211.1 74.0h1v1h-1zM207.5 74.8h1v1h-1zM211.6 71.3h1v1h-1zM209.9 74.0h1v1h-1zM208.5 75.8h1v1h-1zM211.0 75.6h1v1h-1zM208.7 74.5h1v1h-1zM210.3 73.8h1v1h-1zM214.3 72.3h1v1h-1zM213.6 75.3h1v1h-1zM210.1 74.9h1v1h-1zM210.6 76.7h1v1h-1zM210.4 73.3h1v1h-1zM210.8 74.5h1v1h-1zM207.9 76.0h1v1h-1zM211.1 74.2h1v1h-1zM212.6 75.0h1v1h-1zM209.3 74.7h1v1h-1zM210.1 75.4h1v1h-1zM211.5 72.9h1v1h-1zM210.1 74.5h1v1h-1zM208.6 74.9h1v1h-1zM210.6 73.2h1v1h-1zM213.9 73.0h1v1h-1zM208.1 76.8h1v1h-1zM210.6 74.7h1v1h-1zM211.8 74.4h1v1h-1zM210.0 73.0h1v1h-1zM211.0 71.9h1v1h-1zM212.3 72.5h1v1h-1zM207.3 75.0h1v1h-1zM212.7 73.8h1v1h-1zM208.6 72.5h1v1h-1zM212.8 72.7h1v1h-1zM214.0 72.2h1v1h-1zM210.8 76.0h1v1h-1zM212.7 74.1h1v1h-1zM212.9 71.6h1v1h-1zM214.1 71.8h1v1h-1zM212.3 74.2h1v1h-1zM213.1 72.0h1v1h-1zM211.5 73.2h1v1h-1zM209.8 72.5h1v1h-1zM212.7 70.9h1v1h-1zM212.6 74.8h1v1h-1zM210.2 76.0h1v1h-1zM212.1 73.3h1v1h-1zM214.3 73.8h1v1h-1zM210.6 73.8h1v1h-1zM212.6 71.8h1v1h-1zM213.5 71.3h1v1h-1zM212.0 72.2h1v1h-1zM214.8 72.8h1v1h-1zM212.9 73.2h1v1h-1zM214.0 73.1h1v1h-1zM214.9 73.2h1v1h-1zM211.7 76.0h1v1h-1zM211.9 72.1h1v1h-1zM212.8 73.4h1v1h-1zM211.2 74.0h1v1h-1zM214.3 72.9h1v1h-1zM213.4 72.9h1v1h-1zM212.3 76.0h1v1h-1zM212.5 72.1h1v1h-1zM212.9 71.5h1v1h-1zM209.3 75.7h1v1h-1zM212.6 73.4h1v1h-1zM212.6 70.9h1v1h-1zM210.8 72.2h1v1h-1zM213.1 71.8h1v1h-1zM211.0 76.6h1v1h-1zM213.7 73.2h1v1h-1zM213.2 73.2h1v1h-1zM212.0 71.3h1v1h-1zM211.2 75.7h1v1h-1zM213.3 70.7h1v1h-1zM212.4 70.9h1v1h-1zM213.3 72.4h1v1h-1zM214.7 72.3h1v1h-1zM211.2 71.6h1v1h-1zM211.7 73.5h1v1h-1zM212.2 74.5h1v1h-1zM212.9 75.8h1v1h-1zM209.8 72.0h1v1h-1zM210.1 76.0h1v1h-1zM213.5 73.8h1v1h-1zM210.6 72.4h1v1h-1zM210.8 75.1h1v1h-1zM208.2 76.3h1v1h-1zM213.0 71.9h1v1h-1zM213.5 71.1h1v1h-1zM212.0 74.6h1v1h-1zM208.7 74.7h1v1h-1zM213.4 71.9h1v1h-1zM210.8 74.4h1v1h-1zM210.3 72.8h1v1h-1zM210.4 72.5h1v1h-1zM210.1 74.4h1v1h-1z" fill="#88c840" opacity="1"/>
<rect x="157.2" y="44.5" width="85.9" height="77.3" fill="none" stroke="#7a7a7a" stroke-width="0.9"/>
<line x1="196.4" y1="44.5" x2="196.4" y2="121.8" stroke="#888" stroke-width="0.9"/>
<line x1="157.2" y1="86.3" x2="243.1" y2="86.3" stroke="#888" stroke-width="0.9"/>
<text x="198.9" y="41.3" font-size="9.6" font-weight="bold" text-anchor="middle" fill="#1a1a1a" >mF4</text>
<text x="159.6" y="52.7" font-size="5.3" text-anchor="start" fill="#1a1a1a" >Q1</text>
<text x="159.6" y="58.6" font-size="5.3" text-anchor="start" fill="#1a1a1a" >0.075%</text>
<text x="225.47" y="52.7" font-size="5.3" text-anchor="start" fill="#1a1a1a" >Q2</text>
<text x="225.47" y="58.6" font-size="5.3" text-anchor="start" fill="#1a1a1a" >86.4%</text>
<text x="159.6" y="110.89999999999999" font-size="5.3" text-anchor="start" fill="#1a1a1a" >Q4</text>
<text x="159.6" y="116.89999999999999" font-size="5.3" text-anchor="start" fill="#1a1a1a" >0.094%</text>
<text x="225.47" y="110.89999999999999" font-size="5.3" text-anchor="start" fill="#1a1a1a" >Q3</text>
<text x="225.47" y="116.89999999999999" font-size="5.3" text-anchor="start" fill="#1a1a1a" >13.4%</text>
<text x="153.0" y="53.5" font-size="6.2" text-anchor="end" fill="#1a1a1a">10<tspan dy="-2.4" font-size="4">5</tspan></text>
<line x1="155.39999999999998" y1="51.3" x2="157.2" y2="51.3" stroke="#222" stroke-width="0.8"/>
<text x="153.0" y="70.9" font-size="6.2" text-anchor="end" fill="#1a1a1a">10<tspan dy="-2.4" font-size="4">4</tspan></text>
<line x1="155.39999999999998" y1="68.7" x2="157.2" y2="68.7" stroke="#222" stroke-width="0.8"/>
<text x="153.0" y="88.7" font-size="6.2" text-anchor="end" fill="#1a1a1a">10<tspan dy="-2.4" font-size="4">3</tspan></text>
<line x1="155.39999999999998" y1="86.5" x2="157.2" y2="86.5" stroke="#222" stroke-width="0.8"/>
<text x="153.0" y="106.9" font-size="6.2" text-anchor="end" fill="#1a1a1a">10<tspan dy="-2.4" font-size="4">2</tspan></text>
<line x1="155.39999999999998" y1="104.7" x2="157.2" y2="104.7" stroke="#222" stroke-width="0.8"/>
<text x="150.7" y="115.4" font-size="6.2" text-anchor="end" fill="#1a1a1a" >0</text>
<line x1="155.39999999999998" y1="113.2" x2="157.2" y2="113.2" stroke="#222" stroke-width="0.8"/>
<line x1="156.1" y1="81.14166607718113" x2="157.2" y2="81.14166607718113" stroke="#444" stroke-width="0.6"/>
<line x1="156.1" y1="78.00724166599001" x2="157.2" y2="78.00724166599001" stroke="#444" stroke-width="0.6"/>
<line x1="156.1" y1="75.78333215436227" x2="157.2" y2="75.78333215436227" stroke="#444" stroke-width="0.6"/>
<line x1="156.1" y1="74.05833392281886" x2="157.2" y2="74.05833392281886" stroke="#444" stroke-width="0.6"/>
<line x1="156.1" y1="72.64890774317115" x2="157.2" y2="72.64890774317115" stroke="#444" stroke-width="0.6"/>
<line x1="156.1" y1="71.45725488774623" x2="157.2" y2="71.45725488774623" stroke="#444" stroke-width="0.6"/>
<line x1="156.1" y1="70.42499823154341" x2="157.2" y2="70.42499823154341" stroke="#444" stroke-width="0.6"/>
<line x1="156.1" y1="69.51448333198002" x2="157.2" y2="69.51448333198002" stroke="#444" stroke-width="0.6"/>
<line x1="156.1" y1="63.462078075446726" x2="157.2" y2="63.462078075446726" stroke="#444" stroke-width="0.6"/>
<line x1="156.1" y1="60.398090167877875" x2="157.2" y2="60.398090167877875" stroke="#444" stroke-width="0.6"/>
<line x1="156.1" y1="58.22415615089345" x2="157.2" y2="58.22415615089345" stroke="#444" stroke-width="0.6"/>
<line x1="156.1" y1="56.537921924553274" x2="157.2" y2="56.537921924553274" stroke="#444" stroke-width="0.6"/>
<line x1="156.1" y1="55.1601682433246" x2="157.2" y2="55.1601682433246" stroke="#444" stroke-width="0.6"/>
<line x1="156.1" y1="53.99529410375193" x2="157.2" y2="53.99529410375193" stroke="#444" stroke-width="0.6"/>
<line x1="156.1" y1="52.98623422634018" x2="157.2" y2="52.98623422634018" stroke="#444" stroke-width="0.6"/>
<line x1="156.1" y1="52.09618033575575" x2="157.2" y2="52.09618033575575" stroke="#444" stroke-width="0.6"/>
<line x1="201.9711149111116" y1="121.8" x2="201.9711149111116" y2="122.89999999999999" stroke="#444" stroke-width="0.6"/>
<line x1="205.58098572175308" y1="121.8" x2="205.58098572175308" y2="122.89999999999999" stroke="#444" stroke-width="0.6"/>
<line x1="208.14222982222324" y1="121.8" x2="208.14222982222324" y2="122.89999999999999" stroke="#444" stroke-width="0.6"/>
<line x1="210.1288850888884" y1="121.8" x2="210.1288850888884" y2="122.89999999999999" stroke="#444" stroke-width="0.6"/>
<line x1="211.7521006328647" y1="121.8" x2="211.7521006328647" y2="122.89999999999999" stroke="#444" stroke-width="0.6"/>
<line x1="213.12450982029227" y1="121.8" x2="213.12450982029227" y2="122.89999999999999" stroke="#444" stroke-width="0.6"/>
<line x1="214.31334473333484" y1="121.8" x2="214.31334473333484" y2="122.89999999999999" stroke="#444" stroke-width="0.6"/>
<line x1="215.36197144350618" y1="121.8" x2="215.36197144350618" y2="122.89999999999999" stroke="#444" stroke-width="0.6"/>
<line x1="221.74864292151807" y1="121.8" x2="221.74864292151807" y2="122.89999999999999" stroke="#444" stroke-width="0.6"/>
<line x1="224.93589471042588" y1="121.8" x2="224.93589471042588" y2="122.89999999999999" stroke="#444" stroke-width="0.6"/>
<line x1="227.19728584303613" y1="121.8" x2="227.19728584303613" y2="122.89999999999999" stroke="#444" stroke-width="0.6"/>
<line x1="228.95135707848195" y1="121.8" x2="228.95135707848195" y2="122.89999999999999" stroke="#444" stroke-width="0.6"/>
<line x1="230.38453763194394" y1="121.8" x2="230.38453763194394" y2="122.89999999999999" stroke="#444" stroke-width="0.6"/>
<line x1="231.59627452425806" y1="121.8" x2="231.59627452425806" y2="122.89999999999999" stroke="#444" stroke-width="0.6"/>
<line x1="232.64592876455418" y1="121.8" x2="232.64592876455418" y2="122.89999999999999" stroke="#444" stroke-width="0.6"/>
<line x1="233.5717894208518" y1="121.8" x2="233.5717894208518" y2="122.89999999999999" stroke="#444" stroke-width="0.6"/>
<text x="166.2" y="132.0" font-size="6.2" text-anchor="middle" fill="#1a1a1a" >0</text>
<line x1="166.2" y1="121.8" x2="166.2" y2="123.6" stroke="#222" stroke-width="0.8"/>
<text x="175.8" y="132.0" font-size="6.2" text-anchor="middle" fill="#1a1a1a">10<tspan dy="-2.4" font-size="4">2</tspan></text>
<line x1="175.8" y1="121.8" x2="175.8" y2="123.6" stroke="#222" stroke-width="0.8"/>
<text x="195.8" y="132.0" font-size="6.2" text-anchor="middle" fill="#1a1a1a">10<tspan dy="-2.4" font-size="4">3</tspan></text>
<line x1="195.8" y1="121.8" x2="195.8" y2="123.6" stroke="#222" stroke-width="0.8"/>
<text x="216.3" y="132.0" font-size="6.2" text-anchor="middle" fill="#1a1a1a">10<tspan dy="-2.4" font-size="4">4</tspan></text>
<line x1="216.3" y1="121.8" x2="216.3" y2="123.6" stroke="#222" stroke-width="0.8"/>
<text x="234.4" y="132.0" font-size="6.2" text-anchor="middle" fill="#1a1a1a">10<tspan dy="-2.4" font-size="4">5</tspan></text>
<line x1="234.4" y1="121.8" x2="234.4" y2="123.6" stroke="#222" stroke-width="0.8"/>
<line x1="36.7" y1="44.2" x2="36.7" y2="136.1" stroke="#111" stroke-width="1.4"/>
<line x1="36.0" y1="135.4" x2="244.3" y2="135.4" stroke="#111" stroke-width="1.4"/>
<polygon points="36.7,40.2 34.400000000000006,45.7 39.0,45.7" fill="#111"/>
<polygon points="248.3,135.4 242.3,133.0 242.3,137.8" fill="#111"/>
<text transform="translate(28.3,82.1) rotate(-90)" font-size="8.4" text-anchor="middle" fill="#1a1a1a">Ly9.1</text>
<text x="167" y="149.6" font-size="8.6" text-anchor="middle" fill="#1a1a1a" >H2kb</text>
<path d="M378.5 55.1h1v1h-1zM345.5 86.9h1v1h-1zM361.1 85.9h1v1h-1zM359.5 57.4h1v1h-1zM343.2 79.9h1v1h-1zM364.4 56.8h1v1h-1zM377.9 63.8h1v1h-1zM368.9 56.7h1v1h-1zM377.2 66.1h1v1h-1zM376.1 70.1h1v1h-1zM377.3 58.5h1v1h-1zM339.3 81.7h1v1h-1zM376.4 64.4h1v1h-1zM355.3 86.8h1v1h-1zM375.6 60.4h1v1h-1zM360.3 57.9h1v1h-1zM338.5 83.9h1v1h-1zM374.6 59.3h1v1h-1zM372.2 58.1h1v1h-1zM344.6 80.2h1v1h-1zM376.6 61.8h1v1h-1zM343.0 75.7h1v1h-1zM344.7 86.8h1v1h-1zM350.1 65.2h1v1h-1zM343.6 86.4h1v1h-1zM345.3 88.6h1v1h-1zM376.5 60.8h1v1h-1zM357.7 91.9h1v1h-1zM355.6 106.6h1v1h-1zM356.8 88.6h1v1h-1zM360.3 96.4h1v1h-1zM347.2 97.5h1v1h-1zM351.2 112.1h1v1h-1zM346.9 99.2h1v1h-1zM345.3 100.7h1v1h-1zM346.8 105.6h1v1h-1zM355.3 99.7h1v1h-1zM345.8 100.9h1v1h-1zM358.8 93.3h1v1h-1zM349.3 93.8h1v1h-1zM353.0 96.0h1v1h-1zM343.9 110.2h1v1h-1zM346.3 108.2h1v1h-1zM345.1 102.4h1v1h-1zM346.1 112.3h1v1h-1zM354.1 115.1h1v1h-1zM356.0 91.6h1v1h-1zM358.2 91.0h1v1h-1zM354.9 110.8h1v1h-1zM353.9 90.7h1v1h-1zM346.5 87.1h1v1h-1zM348.8 93.4h1v1h-1zM357.0 102.1h1v1h-1zM352.1 92.3h1v1h-1zM356.0 90.8h1v1h-1zM357.3 112.8h1v1h-1zM346.6 101.7h1v1h-1zM368.1 95.4h1v1h-1zM356.0 97.5h1v1h-1zM354.4 96.0h1v1h-1zM340.0 111.8h1v1h-1zM346.5 97.3h1v1h-1zM348.5 93.5h1v1h-1zM348.8 113.3h1v1h-1zM345.3 112.4h1v1h-1zM345.7 105.1h1v1h-1zM354.5 111.5h1v1h-1zM356.7 106.0h1v1h-1zM354.3 94.7h1v1h-1zM354.7 88.1h1v1h-1zM351.6 88.2h1v1h-1zM358.8 102.9h1v1h-1zM350.4 92.7h1v1h-1zM347.1 92.4h1v1h-1zM359.7 101.4h1v1h-1zM353.6 86.3h1v1h-1zM345.9 106.0h1v1h-1zM355.5 106.7h1v1h-1zM348.5 90.2h1v1h-1zM352.4 113.1h1v1h-1zM366.3 87.1h1v1h-1zM374.8 75.0h1v1h-1zM352.6 81.2h1v1h-1zM363.0 70.7h1v1h-1zM366.1 83.1h1v1h-1zM362.9 82.1h1v1h-1zM366.8 53.4h1v1h-1zM353.1 84.5h1v1h-1zM372.6 83.0h1v1h-1zM345.8 76.9h1v1h-1zM366.2 77.6h1v1h-1zM371.9 76.2h1v1h-1zM354.2 77.0h1v1h-1zM356.7 62.6h1v1h-1zM348.0 74.0h1v1h-1zM363.1 78.5h1v1h-1zM351.8 67.3h1v1h-1zM385.6 63.0h1v1h-1zM370.4 97.0h1v1h-1zM358.2 82.0h1v1h-1zM341.5 71.0h1v1h-1zM368.0 57.6h1v1h-1zM364.2 71.7h1v1h-1zM363.8 90.2h1v1h-1zM354.9 50.0h1v1h-1zM387.8 66.3h1v1h-1zM364.3 97.7h1v1h-1zM341.3 82.7h1v1h-1zM352.3 79.7h1v1h-1zM325.3 89.0h1v1h-1zM370.7 73.3h1v1h-1zM372.2 72.6h1v1h-1zM386.3 83.3h1v1h-1zM350.5 61.9h1v1h-1zM367.7 93.1h1v1h-1zM375.4 53.8h1v1h-1zM372.5 66.4h1v1h-1zM354.3 111.6h1v1h-1zM372.7 68.6h1v1h-1zM368.3 82.6h1v1h-1zM380.5 62.7h1v1h-1zM361.0 70.9h1v1h-1zM358.0 66.1h1v1h-1zM354.2 70.0h1v1h-1zM356.0 82.6h1v1h-1zM350.6 95.7h1v1h-1zM356.5 85.2h1v1h-1zM368.3 93.4h1v1h-1zM367.7 68.7h1v1h-1zM379.7 92.4h1v1h-1zM376.6 81.5h1v1h-1zM370.0 91.2h1v1h-1zM345.0 69.7h1v1h-1zM369.1 72.0h1v1h-1zM377.4 91.1h1v1h-1zM342.8 82.1h1v1h-1zM345.4 76.0h1v1h-1zM347.7 66.5h1v1h-1zM346.5 73.5h1v1h-1zM356.9 80.5h1v1h-1zM347.9 83.3h1v1h-1zM366.4 68.0h1v1h-1zM343.9 70.5h1v1h-1zM359.1 79.7h1v1h-1zM353.9 61.2h1v1h-1zM347.3 85.8h1v1h-1z" fill="#b4bfea" opacity="0.8"/>
<path d="M371.6 61.8h1v1h-1zM346.8 85.3h1v1h-1zM345.5 77.2h1v1h-1zM353.0 65.1h1v1h-1zM351.0 84.4h1v1h-1zM345.7 79.1h1v1h-1zM348.5 84.1h1v1h-1zM370.1 59.8h1v1h-1zM375.9 62.2h1v1h-1zM350.0 83.8h1v1h-1zM373.7 63.0h1v1h-1zM360.8 59.8h1v1h-1zM347.2 80.8h1v1h-1zM350.8 83.2h1v1h-1zM366.4 58.6h1v1h-1zM375.5 63.7h1v1h-1zM349.4 84.9h1v1h-1zM353.8 84.0h1v1h-1zM347.4 86.1h1v1h-1zM367.6 78.0h1v1h-1zM368.4 57.8h1v1h-1zM349.9 83.0h1v1h-1zM351.4 65.8h1v1h-1zM347.4 82.8h1v1h-1zM347.9 72.9h1v1h-1zM355.9 84.0h1v1h-1zM350.6 86.1h1v1h-1zM346.4 80.1h1v1h-1zM348.9 70.7h1v1h-1zM353.3 63.7h1v1h-1zM347.5 72.9h1v1h-1zM345.5 77.9h1v1h-1zM370.2 74.2h1v1h-1zM373.5 60.7h1v1h-1zM357.1 85.1h1v1h-1zM352.3 65.7h1v1h-1zM372.6 62.4h1v1h-1zM355.5 62.6h1v1h-1zM359.2 82.9h1v1h-1zM351.5 65.8h1v1h-1zM346.0 75.8h1v1h-1zM346.4 73.7h1v1h-1zM371.3 59.8h1v1h-1zM346.7 74.4h1v1h-1zM351.7 84.1h1v1h-1zM350.2 85.4h1v1h-1zM364.3 58.3h1v1h-1zM374.1 64.3h1v1h-1zM348.5 69.9h1v1h-1zM367.3 78.8h1v1h-1zM362.6 58.9h1v1h-1zM349.1 108.4h1v1h-1zM350.5 99.0h1v1h-1zM353.0 97.5h1v1h-1zM351.8 99.5h1v1h-1zM350.3 104.9h1v1h-1zM351.3 78.8h1v1h-1zM353.7 100.2h1v1h-1zM353.3 101.1h1v1h-1zM348.0 106.2h1v1h-1zM347.9 108.2h1v1h-1zM352.1 101.3h1v1h-1zM353.6 108.7h1v1h-1zM353.7 109.0h1v1h-1zM350.9 100.5h1v1h-1zM348.8 106.2h1v1h-1zM354.6 108.6h1v1h-1zM350.0 108.7h1v1h-1zM348.8 105.4h1v1h-1zM350.3 102.2h1v1h-1zM351.2 97.8h1v1h-1zM352.3 105.5h1v1h-1zM352.1 104.3h1v1h-1zM349.1 107.7h1v1h-1zM351.9 97.9h1v1h-1zM350.7 105.9h1v1h-1zM353.3 101.0h1v1h-1zM352.4 99.9h1v1h-1zM353.9 100.6h1v1h-1zM349.2 105.9h1v1h-1zM347.6 99.0h1v1h-1zM352.0 99.2h1v1h-1zM350.4 97.4h1v1h-1zM351.7 101.9h1v1h-1zM360.9 75.7h1v1h-1zM354.7 79.1h1v1h-1zM358.4 82.5h1v1h-1zM349.5 99.5h1v1h-1zM353.4 106.4h1v1h-1zM353.1 104.7h1v1h-1zM350.7 109.6h1v1h-1zM351.0 105.2h1v1h-1zM350.6 76.3h1v1h-1zM352.9 107.9h1v1h-1zM351.8 102.4h1v1h-1zM352.7 77.6h1v1h-1zM348.6 102.8h1v1h-1zM351.9 105.1h1v1h-1zM350.2 81.8h1v1h-1zM351.2 109.0h1v1h-1zM348.3 98.9h1v1h-1zM354.0 102.4h1v1h-1zM352.7 100.4h1v1h-1zM352.6 108.2h1v1h-1z" fill="#7088dc" opacity="0.9"/>
<path d="M358.7 80.2h1v1h-1zM360.3 79.9h1v1h-1zM362.8 78.0h1v1h-1zM369.9 65.5h1v1h-1zM372.8 64.6h1v1h-1zM370.7 73.1h1v1h-1zM362.4 62.2h1v1h-1zM349.1 77.5h1v1h-1zM352.5 67.1h1v1h-1zM370.1 67.6h1v1h-1zM347.6 75.3h1v1h-1zM369.4 64.4h1v1h-1zM369.1 66.3h1v1h-1zM348.0 76.7h1v1h-1zM370.6 68.5h1v1h-1zM350.4 80.0h1v1h-1zM362.9 60.6h1v1h-1zM360.2 62.6h1v1h-1zM360.9 62.7h1v1h-1zM369.4 65.5h1v1h-1zM370.7 67.2h1v1h-1zM348.7 81.5h1v1h-1zM362.4 61.7h1v1h-1zM358.6 79.3h1v1h-1zM355.6 63.9h1v1h-1zM370.1 63.2h1v1h-1zM365.6 62.1h1v1h-1zM371.2 67.7h1v1h-1zM355.5 79.8h1v1h-1zM351.8 79.4h1v1h-1zM352.2 66.9h1v1h-1zM369.3 73.6h1v1h-1zM372.9 67.6h1v1h-1zM371.6 66.9h1v1h-1zM372.6 68.2h1v1h-1zM357.6 80.0h1v1h-1zM359.1 78.9h1v1h-1zM370.6 65.4h1v1h-1zM365.6 76.3h1v1h-1zM349.4 77.3h1v1h-1zM348.2 77.4h1v1h-1zM357.7 83.0h1v1h-1zM364.3 61.7h1v1h-1zM348.7 78.3h1v1h-1zM364.9 76.2h1v1h-1zM372.7 66.4h1v1h-1zM360.3 62.7h1v1h-1zM373.4 65.8h1v1h-1zM369.8 69.4h1v1h-1zM347.7 77.8h1v1h-1zM356.9 63.1h1v1h-1zM366.0 61.3h1v1h-1zM352.5 80.3h1v1h-1zM353.1 69.4h1v1h-1zM369.8 61.8h1v1h-1zM365.8 78.3h1v1h-1zM360.6 61.0h1v1h-1zM366.6 61.5h1v1h-1zM352.8 67.6h1v1h-1zM355.7 81.5h1v1h-1zM353.2 81.7h1v1h-1zM366.4 75.4h1v1h-1zM359.5 79.1h1v1h-1zM362.2 61.0h1v1h-1zM366.9 62.4h1v1h-1zM355.5 80.0h1v1h-1zM367.4 62.2h1v1h-1zM351.5 73.4h1v1h-1zM371.3 68.5h1v1h-1zM359.8 80.9h1v1h-1zM364.1 62.7h1v1h-1zM369.1 64.7h1v1h-1zM359.4 78.9h1v1h-1zM350.9 74.4h1v1h-1zM367.6 60.3h1v1h-1zM369.5 67.4h1v1h-1zM349.9 81.5h1v1h-1zM370.3 68.3h1v1h-1zM367.8 64.0h1v1h-1zM365.7 61.5h1v1h-1zM367.4 63.7h1v1h-1zM360.5 60.2h1v1h-1zM369.6 65.8h1v1h-1zM364.9 62.4h1v1h-1zM357.0 80.3h1v1h-1zM351.2 79.1h1v1h-1zM363.9 62.3h1v1h-1zM363.7 60.7h1v1h-1zM370.0 63.4h1v1h-1zM351.6 79.5h1v1h-1zM356.7 81.8h1v1h-1zM360.3 61.9h1v1h-1zM367.5 59.8h1v1h-1zM365.4 61.8h1v1h-1zM359.2 62.2h1v1h-1zM369.8 68.1h1v1h-1zM370.5 65.4h1v1h-1zM359.2 64.0h1v1h-1zM366.9 60.0h1v1h-1zM369.0 59.8h1v1h-1zM352.3 67.6h1v1h-1zM350.6 69.8h1v1h-1zM366.1 61.9h1v1h-1zM365.6 74.8h1v1h-1zM361.8 77.5h1v1h-1zM356.2 81.2h1v1h-1zM368.7 62.3h1v1h-1zM369.0 63.6h1v1h-1zM349.1 78.1h1v1h-1zM371.9 66.0h1v1h-1zM366.3 74.7h1v1h-1zM368.9 70.2h1v1h-1zM364.7 62.2h1v1h-1zM349.7 71.4h1v1h-1zM370.1 71.3h1v1h-1zM362.9 78.5h1v1h-1zM360.2 80.3h1v1h-1zM349.2 78.9h1v1h-1zM370.4 70.5h1v1h-1zM369.3 63.5h1v1h-1zM370.0 69.5h1v1h-1zM358.2 80.0h1v1h-1zM368.4 71.8h1v1h-1zM364.0 60.0h1v1h-1zM367.8 63.1h1v1h-1zM352.1 71.3h1v1h-1zM350.0 75.5h1v1h-1zM358.3 79.4h1v1h-1zM359.7 79.5h1v1h-1zM367.1 60.5h1v1h-1zM360.4 62.7h1v1h-1zM368.8 63.2h1v1h-1zM368.6 71.4h1v1h-1zM361.6 77.6h1v1h-1zM373.3 67.8h1v1h-1zM365.3 77.4h1v1h-1zM369.5 72.9h1v1h-1zM372.4 66.1h1v1h-1zM371.2 69.6h1v1h-1zM348.7 79.0h1v1h-1zM350.6 74.8h1v1h-1zM351.1 80.0h1v1h-1zM364.4 77.4h1v1h-1zM351.6 81.4h1v1h-1zM372.5 66.1h1v1h-1zM364.4 79.0h1v1h-1zM356.0 64.7h1v1h-1zM357.4 80.8h1v1h-1zM368.6 71.8h1v1h-1zM350.5 76.3h1v1h-1zM366.8 74.6h1v1h-1zM360.4 78.3h1v1h-1zM368.5 72.6h1v1h-1zM369.8 73.7h1v1h-1zM367.6 63.3h1v1h-1zM351.9 80.2h1v1h-1zM352.2 79.5h1v1h-1zM366.7 61.0h1v1h-1zM350.9 69.8h1v1h-1zM347.8 77.5h1v1h-1zM367.2 61.1h1v1h-1zM369.0 63.1h1v1h-1zM360.0 78.9h1v1h-1zM351.6 72.2h1v1h-1zM372.2 63.1h1v1h-1zM348.0 76.7h1v1h-1zM347.1 75.3h1v1h-1zM350.7 78.1h1v1h-1zM365.6 78.3h1v1h-1zM368.4 64.8h1v1h-1zM362.0 62.6h1v1h-1zM351.3 73.9h1v1h-1zM370.5 72.2h1v1h-1zM369.5 61.5h1v1h-1zM367.3 61.0h1v1h-1zM349.8 77.3h1v1h-1zM370.1 66.5h1v1h-1zM347.9 75.5h1v1h-1zM350.8 72.6h1v1h-1zM369.9 66.3h1v1h-1zM360.0 63.4h1v1h-1zM354.0 82.0h1v1h-1zM360.6 79.0h1v1h-1zM358.8 63.9h1v1h-1zM367.3 63.7h1v1h-1zM364.5 59.2h1v1h-1zM369.9 73.9h1v1h-1zM350.6 70.9h1v1h-1zM356.0 64.6h1v1h-1zM349.9 74.4h1v1h-1zM365.1 76.9h1v1h-1zM353.3 79.5h1v1h-1zM355.2 64.9h1v1h-1zM358.7 82.4h1v1h-1zM370.5 67.4h1v1h-1zM348.3 78.3h1v1h-1zM367.6 73.5h1v1h-1zM370.5 70.7h1v1h-1zM367.7 61.4h1v1h-1zM365.2 75.5h1v1h-1zM355.2 83.0h1v1h-1zM368.4 62.5h1v1h-1zM367.2 73.9h1v1h-1zM350.2 76.5h1v1h-1zM368.4 60.6h1v1h-1zM351.8 70.2h1v1h-1zM365.2 61.7h1v1h-1zM367.5 59.7h1v1h-1zM351.9 80.1h1v1h-1z" fill="#2f4fd8" opacity="1"/>
<path d="M355.5 68.5h1v1h-1zM361.4 76.7h1v1h-1zM367.8 69.9h1v1h-1zM363.1 75.2h1v1h-1zM356.3 77.9h1v1h-1zM358.3 78.7h1v1h-1zM367.6 67.3h1v1h-1zM354.0 69.7h1v1h-1zM354.4 78.7h1v1h-1zM355.3 78.0h1v1h-1zM368.6 68.8h1v1h-1zM358.4 79.1h1v1h-1zM352.2 79.0h1v1h-1zM352.3 76.6h1v1h-1zM361.2 76.8h1v1h-1zM355.9 67.5h1v1h-1zM364.3 62.8h1v1h-1zM353.9 79.3h1v1h-1zM356.9 79.2h1v1h-1zM360.0 63.7h1v1h-1zM361.6 75.8h1v1h-1zM366.1 71.4h1v1h-1zM358.7 78.2h1v1h-1zM352.2 77.5h1v1h-1zM367.0 70.2h1v1h-1zM358.1 65.0h1v1h-1zM357.4 66.7h1v1h-1zM363.8 74.7h1v1h-1zM357.3 66.6h1v1h-1zM354.7 69.5h1v1h-1zM368.0 68.7h1v1h-1zM368.3 69.6h1v1h-1zM361.6 63.9h1v1h-1zM354.1 68.5h1v1h-1zM361.6 64.7h1v1h-1zM353.3 70.9h1v1h-1zM358.4 77.1h1v1h-1zM353.6 77.6h1v1h-1zM357.7 66.6h1v1h-1zM354.6 67.8h1v1h-1zM367.0 71.3h1v1h-1zM361.0 64.8h1v1h-1zM356.5 67.2h1v1h-1zM364.7 63.9h1v1h-1zM363.1 76.3h1v1h-1zM361.6 75.8h1v1h-1zM364.5 63.8h1v1h-1zM353.0 77.3h1v1h-1zM352.1 73.4h1v1h-1zM366.0 72.9h1v1h-1zM359.6 77.4h1v1h-1zM366.2 71.9h1v1h-1zM353.6 77.4h1v1h-1zM367.3 69.0h1v1h-1zM367.8 66.9h1v1h-1zM367.1 72.0h1v1h-1zM366.6 64.4h1v1h-1zM354.9 67.5h1v1h-1zM367.9 67.2h1v1h-1zM352.0 75.0h1v1h-1zM351.2 76.4h1v1h-1zM352.3 77.2h1v1h-1zM359.8 64.7h1v1h-1zM364.7 73.9h1v1h-1zM352.2 74.7h1v1h-1zM357.5 77.6h1v1h-1zM361.1 63.3h1v1h-1zM355.7 66.9h1v1h-1zM352.8 73.0h1v1h-1zM364.3 74.9h1v1h-1zM352.8 76.5h1v1h-1zM362.8 76.4h1v1h-1zM362.7 64.5h1v1h-1zM368.0 68.8h1v1h-1zM354.0 69.4h1v1h-1zM352.4 77.7h1v1h-1zM365.3 64.3h1v1h-1zM361.7 64.3h1v1h-1zM363.7 64.3h1v1h-1zM365.8 66.4h1v1h-1zM352.0 77.1h1v1h-1zM354.8 78.1h1v1h-1zM354.0 70.8h1v1h-1zM354.2 79.3h1v1h-1zM365.9 73.4h1v1h-1zM367.2 68.0h1v1h-1zM354.0 69.4h1v1h-1zM363.9 64.5h1v1h-1zM366.8 70.2h1v1h-1zM363.0 76.8h1v1h-1zM351.6 73.6h1v1h-1zM352.6 77.0h1v1h-1zM362.8 64.7h1v1h-1zM367.4 68.3h1v1h-1zM353.1 79.3h1v1h-1zM356.1 67.7h1v1h-1zM365.5 65.5h1v1h-1zM353.7 78.1h1v1h-1zM363.6 75.3h1v1h-1zM358.9 66.3h1v1h-1zM366.6 71.8h1v1h-1zM353.9 77.9h1v1h-1zM367.6 67.7h1v1h-1zM365.6 63.5h1v1h-1zM367.2 69.9h1v1h-1zM359.6 76.8h1v1h-1zM365.8 63.3h1v1h-1zM366.0 72.2h1v1h-1zM364.3 65.2h1v1h-1zM366.4 66.8h1v1h-1zM364.4 74.6h1v1h-1zM366.9 64.5h1v1h-1zM366.4 66.7h1v1h-1zM357.4 77.7h1v1h-1zM361.7 76.4h1v1h-1zM361.4 63.3h1v1h-1zM358.1 65.4h1v1h-1zM367.8 66.6h1v1h-1zM361.8 64.7h1v1h-1zM367.5 67.2h1v1h-1zM364.9 74.2h1v1h-1zM353.4 79.0h1v1h-1zM360.9 64.3h1v1h-1zM363.6 76.3h1v1h-1zM362.1 76.0h1v1h-1zM357.1 77.4h1v1h-1zM359.9 65.0h1v1h-1zM367.3 63.9h1v1h-1zM363.4 63.6h1v1h-1zM353.2 77.6h1v1h-1zM366.6 67.1h1v1h-1zM359.8 76.5h1v1h-1zM367.1 65.8h1v1h-1zM367.3 69.2h1v1h-1zM369.0 67.0h1v1h-1zM351.3 77.3h1v1h-1zM361.9 64.2h1v1h-1zM353.1 77.9h1v1h-1zM354.7 78.9h1v1h-1zM367.3 64.4h1v1h-1zM351.5 76.1h1v1h-1zM362.8 63.9h1v1h-1zM363.2 75.5h1v1h-1zM355.6 79.0h1v1h-1zM362.7 75.6h1v1h-1zM364.4 75.6h1v1h-1zM356.3 67.3h1v1h-1zM356.9 66.6h1v1h-1zM352.1 75.9h1v1h-1zM352.8 74.6h1v1h-1zM366.3 72.3h1v1h-1zM352.3 77.1h1v1h-1zM368.0 66.3h1v1h-1zM366.5 66.6h1v1h-1zM364.1 74.4h1v1h-1zM354.5 68.8h1v1h-1zM368.6 68.5h1v1h-1zM358.2 66.0h1v1h-1zM358.0 78.1h1v1h-1zM353.0 73.8h1v1h-1zM363.4 75.2h1v1h-1zM358.9 78.0h1v1h-1zM355.6 67.1h1v1h-1zM357.0 67.2h1v1h-1zM358.7 64.8h1v1h-1zM351.1 74.9h1v1h-1zM351.9 78.4h1v1h-1zM354.2 70.4h1v1h-1zM358.3 66.4h1v1h-1zM353.2 72.8h1v1h-1zM367.8 64.6h1v1h-1zM367.6 66.9h1v1h-1zM367.9 71.0h1v1h-1zM352.2 77.9h1v1h-1zM361.0 64.4h1v1h-1zM353.6 70.7h1v1h-1zM366.2 64.2h1v1h-1zM360.7 63.2h1v1h-1zM353.6 78.1h1v1h-1zM359.5 64.5h1v1h-1zM353.3 72.5h1v1h-1zM355.9 79.4h1v1h-1zM358.9 78.9h1v1h-1zM363.1 64.3h1v1h-1zM360.7 64.8h1v1h-1zM351.9 73.5h1v1h-1zM358.1 66.6h1v1h-1zM357.2 79.1h1v1h-1zM354.2 70.2h1v1h-1zM356.0 66.7h1v1h-1zM359.3 78.6h1v1h-1z" fill="#30b4dc" opacity="1"/>
<path d="M364.1 71.7h1v1h-1zM355.9 73.0h1v1h-1zM356.1 70.7h1v1h-1zM353.3 75.5h1v1h-1zM358.9 74.8h1v1h-1zM361.0 66.9h1v1h-1zM356.8 69.8h1v1h-1zM364.2 70.2h1v1h-1zM357.9 74.8h1v1h-1zM357.3 70.2h1v1h-1zM361.9 67.3h1v1h-1zM356.3 69.6h1v1h-1zM354.3 74.8h1v1h-1zM363.5 65.3h1v1h-1zM365.0 70.9h1v1h-1zM362.8 74.0h1v1h-1zM364.5 69.1h1v1h-1zM353.5 74.6h1v1h-1zM365.2 69.7h1v1h-1zM358.0 68.6h1v1h-1zM366.4 70.6h1v1h-1zM356.1 69.0h1v1h-1zM361.1 65.9h1v1h-1zM360.8 65.5h1v1h-1zM363.6 67.8h1v1h-1zM354.9 76.5h1v1h-1zM365.6 69.6h1v1h-1zM354.6 75.5h1v1h-1zM362.9 66.6h1v1h-1zM364.5 73.3h1v1h-1zM355.4 72.9h1v1h-1zM359.3 66.2h1v1h-1zM363.6 67.0h1v1h-1zM362.1 65.0h1v1h-1zM354.8 72.5h1v1h-1zM355.3 75.0h1v1h-1zM357.4 75.3h1v1h-1zM364.6 70.5h1v1h-1zM357.1 67.8h1v1h-1zM364.4 73.6h1v1h-1zM356.0 69.3h1v1h-1zM357.1 77.3h1v1h-1zM365.5 72.0h1v1h-1zM355.6 69.9h1v1h-1zM355.7 73.3h1v1h-1zM361.3 66.7h1v1h-1zM362.7 74.4h1v1h-1zM364.3 67.7h1v1h-1zM364.8 68.7h1v1h-1zM353.8 76.5h1v1h-1zM355.2 75.1h1v1h-1zM358.1 74.5h1v1h-1zM361.8 67.9h1v1h-1zM353.3 74.0h1v1h-1zM361.0 66.9h1v1h-1zM356.7 70.1h1v1h-1zM357.6 75.1h1v1h-1zM355.3 74.9h1v1h-1zM354.7 70.4h1v1h-1zM356.2 76.4h1v1h-1zM366.0 68.9h1v1h-1zM361.7 65.9h1v1h-1zM366.4 69.4h1v1h-1zM357.9 67.1h1v1h-1zM362.7 64.8h1v1h-1zM363.7 74.3h1v1h-1zM360.4 75.3h1v1h-1zM357.1 74.4h1v1h-1zM366.0 66.9h1v1h-1zM366.2 67.0h1v1h-1zM362.2 66.7h1v1h-1zM360.1 68.3h1v1h-1zM356.0 76.3h1v1h-1zM355.4 72.2h1v1h-1zM360.8 74.7h1v1h-1zM356.9 69.1h1v1h-1zM355.5 75.7h1v1h-1zM354.4 76.9h1v1h-1zM362.2 67.9h1v1h-1zM358.4 75.0h1v1h-1zM360.2 75.0h1v1h-1zM356.2 68.4h1v1h-1zM358.6 68.3h1v1h-1zM362.4 67.1h1v1h-1zM365.8 70.1h1v1h-1zM353.1 76.4h1v1h-1zM354.7 72.6h1v1h-1zM355.3 72.3h1v1h-1zM358.4 66.9h1v1h-1zM354.2 73.4h1v1h-1zM363.2 66.6h1v1h-1zM353.7 74.6h1v1h-1zM356.6 75.8h1v1h-1zM362.3 67.7h1v1h-1zM364.7 67.5h1v1h-1zM364.7 70.3h1v1h-1zM357.3 69.2h1v1h-1zM362.2 65.5h1v1h-1zM360.1 75.9h1v1h-1zM362.0 65.3h1v1h-1zM357.5 69.3h1v1h-1zM355.1 74.9h1v1h-1zM360.5 65.7h1v1h-1zM355.0 71.7h1v1h-1zM354.6 75.3h1v1h-1zM366.0 67.2h1v1h-1zM355.7 72.8h1v1h-1zM363.7 71.7h1v1h-1zM354.6 72.3h1v1h-1zM355.7 74.2h1v1h-1zM364.6 67.0h1v1h-1zM359.4 76.4h1v1h-1zM353.3 76.5h1v1h-1zM363.6 65.5h1v1h-1zM354.9 70.6h1v1h-1zM356.3 70.6h1v1h-1zM355.8 71.9h1v1h-1zM354.1 75.4h1v1h-1zM361.5 65.3h1v1h-1zM365.6 67.5h1v1h-1zM358.0 76.5h1v1h-1zM366.2 70.0h1v1h-1zM358.0 76.3h1v1h-1zM355.3 73.3h1v1h-1zM358.9 68.8h1v1h-1zM364.4 67.0h1v1h-1zM365.6 71.3h1v1h-1zM365.3 71.3h1v1h-1zM355.7 76.9h1v1h-1zM365.4 69.5h1v1h-1zM355.2 70.1h1v1h-1zM358.0 76.8h1v1h-1zM361.2 74.1h1v1h-1zM357.7 76.9h1v1h-1zM363.8 69.4h1v1h-1zM364.7 69.5h1v1h-1zM364.2 67.8h1v1h-1zM355.9 73.9h1v1h-1zM360.7 67.4h1v1h-1zM355.6 68.8h1v1h-1zM361.5 66.4h1v1h-1zM363.5 66.1h1v1h-1zM363.4 66.4h1v1h-1zM364.3 70.3h1v1h-1zM355.6 77.1h1v1h-1zM357.2 69.7h1v1h-1zM356.3 75.4h1v1h-1zM366.3 70.1h1v1h-1zM355.0 74.5h1v1h-1zM363.5 73.2h1v1h-1zM363.5 67.5h1v1h-1zM358.9 74.2h1v1h-1zM361.7 68.2h1v1h-1zM363.4 66.8h1v1h-1zM361.5 66.4h1v1h-1zM357.1 74.3h1v1h-1zM365.3 66.0h1v1h-1zM359.1 69.1h1v1h-1zM364.0 74.2h1v1h-1zM357.9 67.2h1v1h-1zM365.1 72.2h1v1h-1zM352.7 75.1h1v1h-1zM364.2 67.2h1v1h-1zM363.3 67.9h1v1h-1zM356.0 75.9h1v1h-1zM356.9 68.1h1v1h-1zM357.0 68.0h1v1h-1zM355.6 74.5h1v1h-1zM357.6 68.8h1v1h-1zM365.0 67.7h1v1h-1zM363.9 67.7h1v1h-1zM354.1 72.3h1v1h-1zM362.3 65.0h1v1h-1zM360.3 74.4h1v1h-1zM362.8 73.4h1v1h-1zM365.2 70.9h1v1h-1zM355.3 69.0h1v1h-1zM360.8 74.2h1v1h-1zM360.3 67.2h1v1h-1zM364.9 69.3h1v1h-1zM363.9 66.2h1v1h-1zM362.8 74.0h1v1h-1zM363.5 74.0h1v1h-1zM355.8 70.9h1v1h-1zM357.4 67.6h1v1h-1zM355.7 74.3h1v1h-1zM356.9 67.9h1v1h-1zM364.0 70.1h1v1h-1zM362.0 67.8h1v1h-1zM359.9 66.0h1v1h-1zM353.1 74.0h1v1h-1zM356.0 69.5h1v1h-1zM363.4 72.2h1v1h-1zM363.7 73.0h1v1h-1zM364.3 67.5h1v1h-1zM358.1 74.7h1v1h-1zM353.5 73.5h1v1h-1zM355.6 70.3h1v1h-1zM361.6 73.7h1v1h-1zM353.3 74.4h1v1h-1zM361.3 74.0h1v1h-1zM353.2 75.3h1v1h-1zM360.5 74.7h1v1h-1zM365.8 71.6h1v1h-1zM354.6 75.1h1v1h-1zM362.9 65.6h1v1h-1zM356.6 74.3h1v1h-1zM365.4 72.2h1v1h-1zM355.9 75.2h1v1h-1zM363.7 71.6h1v1h-1zM356.8 76.8h1v1h-1zM364.5 68.0h1v1h-1zM364.8 69.2h1v1h-1zM362.2 64.9h1v1h-1zM354.8 76.8h1v1h-1zM362.1 74.0h1v1h-1zM360.1 67.8h1v1h-1zM355.0 73.8h1v1h-1zM360.6 76.0h1v1h-1zM353.7 73.2h1v1h-1zM364.7 71.6h1v1h-1zM362.4 65.4h1v1h-1zM354.0 71.4h1v1h-1zM358.9 68.1h1v1h-1zM361.4 74.9h1v1h-1zM356.6 70.6h1v1h-1zM355.6 69.7h1v1h-1zM353.8 73.4h1v1h-1zM361.0 67.4h1v1h-1zM363.0 74.9h1v1h-1zM357.2 69.5h1v1h-1zM366.2 67.2h1v1h-1zM355.5 69.8h1v1h-1zM358.5 76.6h1v1h-1zM354.6 75.0h1v1h-1zM364.6 71.5h1v1h-1zM353.6 72.8h1v1h-1zM365.7 68.8h1v1h-1zM361.3 74.5h1v1h-1zM358.3 75.9h1v1h-1zM356.7 69.6h1v1h-1zM357.7 75.3h1v1h-1zM363.7 71.8h1v1h-1zM361.6 66.3h1v1h-1zM359.5 67.8h1v1h-1zM361.3 73.8h1v1h-1zM362.7 66.1h1v1h-1zM360.6 65.6h1v1h-1zM360.6 68.1h1v1h-1zM359.3 74.9h1v1h-1zM355.8 74.3h1v1h-1zM355.1 70.1h1v1h-1zM356.4 70.4h1v1h-1zM356.2 69.1h1v1h-1zM355.4 75.7h1v1h-1zM358.2 75.3h1v1h-1zM355.6 70.1h1v1h-1zM357.3 74.4h1v1h-1zM365.7 70.8h1v1h-1zM361.4 67.6h1v1h-1zM356.0 72.8h1v1h-1zM356.9 70.4h1v1h-1zM356.2 69.1h1v1h-1zM355.1 72.5h1v1h-1zM364.7 69.1h1v1h-1zM357.6 68.9h1v1h-1zM357.0 77.1h1v1h-1zM359.5 67.8h1v1h-1zM365.5 69.9h1v1h-1zM363.8 73.2h1v1h-1zM354.3 72.9h1v1h-1zM364.1 65.6h1v1h-1zM362.6 66.3h1v1h-1zM356.3 75.4h1v1h-1zM354.6 75.7h1v1h-1zM354.1 76.6h1v1h-1zM364.7 72.1h1v1h-1zM359.4 68.0h1v1h-1zM362.1 67.4h1v1h-1zM358.7 68.6h1v1h-1zM361.2 74.5h1v1h-1zM352.9 74.9h1v1h-1zM356.4 68.8h1v1h-1zM357.3 77.3h1v1h-1zM357.1 76.6h1v1h-1zM365.1 69.3h1v1h-1zM355.5 77.3h1v1h-1zM358.2 69.2h1v1h-1zM362.6 68.0h1v1h-1zM364.3 70.2h1v1h-1zM358.5 75.4h1v1h-1zM363.7 67.2h1v1h-1zM358.6 68.4h1v1h-1zM363.7 74.0h1v1h-1zM364.3 67.3h1v1h-1zM356.9 74.5h1v1h-1zM355.2 72.6h1v1h-1zM354.5 71.5h1v1h-1zM355.2 74.4h1v1h-1zM353.1 74.9h1v1h-1zM354.8 75.0h1v1h-1zM364.0 67.2h1v1h-1zM364.7 65.7h1v1h-1zM353.1 75.6h1v1h-1zM366.3 68.0h1v1h-1zM354.0 76.3h1v1h-1zM358.2 68.6h1v1h-1zM358.5 66.9h1v1h-1zM363.8 65.2h1v1h-1zM357.9 68.3h1v1h-1zM354.6 70.7h1v1h-1zM356.7 74.6h1v1h-1zM362.9 73.4h1v1h-1zM359.4 68.4h1v1h-1zM366.7 68.9h1v1h-1zM362.5 66.2h1v1h-1zM354.4 75.4h1v1h-1z" fill="#58c864" opacity="1"/>
<path d="M356.7 72.6h1v1h-1zM358.4 71.9h1v1h-1zM361.5 70.7h1v1h-1zM358.3 72.5h1v1h-1zM356.9 71.0h1v1h-1zM361.6 70.2h1v1h-1zM360.5 72.7h1v1h-1zM361.7 71.2h1v1h-1zM362.5 71.9h1v1h-1zM362.5 68.8h1v1h-1zM359.6 70.2h1v1h-1zM359.5 71.1h1v1h-1zM358.6 74.2h1v1h-1zM362.5 70.5h1v1h-1zM357.3 71.9h1v1h-1zM360.8 69.8h1v1h-1zM360.1 68.9h1v1h-1zM361.7 72.1h1v1h-1zM361.6 70.8h1v1h-1zM357.4 70.4h1v1h-1zM359.0 73.9h1v1h-1zM363.2 69.2h1v1h-1zM361.7 73.5h1v1h-1zM358.1 73.0h1v1h-1zM360.4 73.9h1v1h-1zM356.9 73.3h1v1h-1zM358.0 70.6h1v1h-1zM358.5 69.8h1v1h-1zM356.0 73.4h1v1h-1zM362.9 70.5h1v1h-1zM362.0 72.3h1v1h-1zM363.2 71.3h1v1h-1zM357.7 70.8h1v1h-1zM360.2 73.6h1v1h-1zM361.8 72.0h1v1h-1zM358.9 71.6h1v1h-1zM359.9 72.3h1v1h-1zM360.2 73.8h1v1h-1zM359.2 70.9h1v1h-1zM361.6 71.6h1v1h-1zM360.1 73.1h1v1h-1zM361.8 73.4h1v1h-1zM361.5 73.0h1v1h-1zM360.9 69.8h1v1h-1zM359.0 71.8h1v1h-1zM361.3 70.7h1v1h-1zM361.0 73.8h1v1h-1zM360.1 69.3h1v1h-1zM361.5 73.0h1v1h-1zM360.7 72.7h1v1h-1zM361.1 69.6h1v1h-1zM360.6 73.5h1v1h-1zM361.9 71.4h1v1h-1zM361.8 72.4h1v1h-1zM357.2 71.9h1v1h-1zM361.5 70.0h1v1h-1zM362.0 72.5h1v1h-1zM356.5 73.2h1v1h-1zM358.3 72.5h1v1h-1zM360.4 72.7h1v1h-1zM363.1 71.8h1v1h-1zM360.4 70.0h1v1h-1zM358.0 73.5h1v1h-1zM360.7 70.4h1v1h-1zM356.5 72.9h1v1h-1zM363.5 70.4h1v1h-1zM363.5 69.5h1v1h-1zM359.0 71.9h1v1h-1zM361.2 72.0h1v1h-1zM361.2 72.0h1v1h-1zM363.5 69.4h1v1h-1zM357.2 72.7h1v1h-1zM357.2 74.2h1v1h-1zM359.8 73.1h1v1h-1zM358.2 73.9h1v1h-1zM358.6 70.7h1v1h-1zM358.9 71.3h1v1h-1zM361.0 70.2h1v1h-1zM359.3 70.7h1v1h-1zM361.0 73.1h1v1h-1zM362.5 70.7h1v1h-1zM361.6 71.4h1v1h-1zM358.7 73.0h1v1h-1zM357.6 73.7h1v1h-1zM360.9 72.8h1v1h-1zM362.8 71.8h1v1h-1zM358.9 72.5h1v1h-1zM359.0 70.7h1v1h-1zM361.0 70.5h1v1h-1zM360.7 72.7h1v1h-1zM359.5 74.0h1v1h-1zM362.3 69.6h1v1h-1zM357.6 73.1h1v1h-1zM359.4 72.4h1v1h-1zM357.1 73.4h1v1h-1zM362.1 68.5h1v1h-1zM356.3 71.9h1v1h-1zM357.4 73.3h1v1h-1zM357.2 70.6h1v1h-1zM361.5 70.5h1v1h-1zM363.0 71.3h1v1h-1zM357.9 70.5h1v1h-1zM361.5 70.2h1v1h-1zM356.9 73.9h1v1h-1zM356.6 73.1h1v1h-1zM362.1 72.0h1v1h-1zM362.9 69.8h1v1h-1zM358.9 71.9h1v1h-1zM357.7 71.2h1v1h-1zM358.4 69.8h1v1h-1zM356.8 73.4h1v1h-1zM361.1 70.7h1v1h-1zM360.4 73.0h1v1h-1zM359.9 73.1h1v1h-1zM360.5 72.8h1v1h-1zM359.4 72.4h1v1h-1zM362.9 70.7h1v1h-1zM362.2 68.6h1v1h-1zM362.4 72.1h1v1h-1zM360.6 70.5h1v1h-1zM361.0 70.0h1v1h-1zM361.1 73.3h1v1h-1zM357.8 73.1h1v1h-1zM363.0 70.4h1v1h-1zM359.5 71.9h1v1h-1zM361.7 70.2h1v1h-1zM358.1 71.9h1v1h-1zM359.8 73.9h1v1h-1zM361.6 72.0h1v1h-1zM361.3 69.3h1v1h-1zM361.6 71.0h1v1h-1zM363.5 69.4h1v1h-1zM362.1 71.7h1v1h-1zM356.3 72.7h1v1h-1zM360.6 70.3h1v1h-1zM359.2 69.6h1v1h-1zM359.6 71.4h1v1h-1zM356.8 74.0h1v1h-1zM359.9 70.1h1v1h-1zM358.1 72.2h1v1h-1zM359.3 72.4h1v1h-1zM359.6 70.4h1v1h-1zM362.8 69.3h1v1h-1zM363.7 69.4h1v1h-1zM360.5 70.1h1v1h-1zM360.2 69.3h1v1h-1zM363.4 71.0h1v1h-1zM362.3 71.0h1v1h-1z" fill="#b0d434" opacity="1"/>
<path d="M361.2 71.0h1v1h-1zM360.1 71.8h1v1h-1zM360.4 71.4h1v1h-1zM359.8 71.9h1v1h-1zM360.4 71.8h1v1h-1zM360.6 71.2h1v1h-1zM361.2 70.9h1v1h-1z" fill="#e8c020" opacity="1"/>
<rect x="304.3" y="43.8" width="86.0" height="76.4" fill="none" stroke="#7a7a7a" stroke-width="0.9"/>
<line x1="343.7" y1="43.8" x2="343.7" y2="120.2" stroke="#888" stroke-width="0.9"/>
<line x1="304.3" y1="84.8" x2="390.3" y2="84.8" stroke="#888" stroke-width="0.9"/>
<text x="345.4" y="40.599999999999994" font-size="9.6" font-weight="bold" text-anchor="middle" fill="#1a1a1a" >control Ab</text>
<text x="306.7" y="52.0" font-size="5.3" text-anchor="start" fill="#1a1a1a" >Q1</text>
<text x="306.7" y="57.9" font-size="5.3" text-anchor="start" fill="#1a1a1a" >0.025%</text>
<text x="372.67" y="52.0" font-size="5.3" text-anchor="start" fill="#1a1a1a" >Q2</text>
<text x="372.67" y="57.9" font-size="5.3" text-anchor="start" fill="#1a1a1a" >96.7%</text>
<text x="306.7" y="109.3" font-size="5.3" text-anchor="start" fill="#1a1a1a" >Q4</text>
<text x="306.7" y="115.3" font-size="5.3" text-anchor="start" fill="#1a1a1a" >0.360%</text>
<text x="372.67" y="109.3" font-size="5.3" text-anchor="start" fill="#1a1a1a" >Q3</text>
<text x="372.67" y="115.3" font-size="5.3" text-anchor="start" fill="#1a1a1a" >2.93%</text>
<text x="300.1" y="53.2" font-size="6.2" text-anchor="end" fill="#1a1a1a">10<tspan dy="-2.4" font-size="4">5</tspan></text>
<line x1="302.5" y1="51" x2="304.3" y2="51" stroke="#222" stroke-width="0.8"/>
<text x="300.1" y="70.4" font-size="6.2" text-anchor="end" fill="#1a1a1a">10<tspan dy="-2.4" font-size="4">4</tspan></text>
<line x1="302.5" y1="68.2" x2="304.3" y2="68.2" stroke="#222" stroke-width="0.8"/>
<text x="300.1" y="87.7" font-size="6.2" text-anchor="end" fill="#1a1a1a">10<tspan dy="-2.4" font-size="4">3</tspan></text>
<line x1="302.5" y1="85.5" x2="304.3" y2="85.5" stroke="#222" stroke-width="0.8"/>
<text x="300.1" y="106.2" font-size="6.2" text-anchor="end" fill="#1a1a1a">10<tspan dy="-2.4" font-size="4">2</tspan></text>
<line x1="302.5" y1="104" x2="304.3" y2="104" stroke="#222" stroke-width="0.8"/>
<text x="297.8" y="114.10000000000001" font-size="6.2" text-anchor="end" fill="#1a1a1a" >0</text>
<line x1="302.5" y1="111.9" x2="304.3" y2="111.9" stroke="#222" stroke-width="0.8"/>
<line x1="303.2" y1="80.29218107501313" x2="304.3" y2="80.29218107501313" stroke="#444" stroke-width="0.6"/>
<line x1="303.2" y1="77.24580229334984" x2="304.3" y2="77.24580229334984" stroke="#444" stroke-width="0.6"/>
<line x1="303.2" y1="75.08436215002625" x2="304.3" y2="75.08436215002625" stroke="#444" stroke-width="0.6"/>
<line x1="303.2" y1="73.40781892498687" x2="304.3" y2="73.40781892498687" stroke="#444" stroke-width="0.6"/>
<line x1="303.2" y1="72.03798336836297" x2="304.3" y2="72.03798336836297" stroke="#444" stroke-width="0.6"/>
<line x1="303.2" y1="70.87980390775336" x2="304.3" y2="70.87980390775336" stroke="#444" stroke-width="0.6"/>
<line x1="303.2" y1="69.87654322503938" x2="304.3" y2="69.87654322503938" stroke="#444" stroke-width="0.6"/>
<line x1="303.2" y1="68.99160458669968" x2="304.3" y2="68.99160458669968" stroke="#444" stroke-width="0.6"/>
<line x1="303.2" y1="63.022284074579524" x2="304.3" y2="63.022284074579524" stroke="#444" stroke-width="0.6"/>
<line x1="303.2" y1="59.9935144188218" x2="304.3" y2="59.9935144188218" stroke="#444" stroke-width="0.6"/>
<line x1="303.2" y1="57.844568149159045" x2="304.3" y2="57.844568149159045" stroke="#444" stroke-width="0.6"/>
<line x1="303.2" y1="56.17771592542048" x2="304.3" y2="56.17771592542048" stroke="#444" stroke-width="0.6"/>
<line x1="303.2" y1="54.81579849340133" x2="304.3" y2="54.81579849340133" stroke="#444" stroke-width="0.6"/>
<line x1="303.2" y1="53.66431371175479" x2="304.3" y2="53.66431371175479" stroke="#444" stroke-width="0.6"/>
<line x1="303.2" y1="52.66685222373857" x2="304.3" y2="52.66685222373857" stroke="#444" stroke-width="0.6"/>
<line x1="303.2" y1="51.78702883764361" x2="304.3" y2="51.78702883764361" stroke="#444" stroke-width="0.6"/>
<line x1="349.3808059124124" y1="120.2" x2="349.3808059124124" y2="121.3" stroke="#444" stroke-width="0.6"/>
<line x1="352.9378493453372" y1="120.2" x2="352.9378493453372" y2="121.3" stroke="#444" stroke-width="0.6"/>
<line x1="355.46161182482484" y1="120.2" x2="355.46161182482484" y2="121.3" stroke="#444" stroke-width="0.6"/>
<line x1="357.4191940875876" y1="120.2" x2="357.4191940875876" y2="121.3" stroke="#444" stroke-width="0.6"/>
<line x1="359.01865525774963" y1="120.2" x2="359.01865525774963" y2="121.3" stroke="#444" stroke-width="0.6"/>
<line x1="360.370980408288" y1="120.2" x2="360.370980408288" y2="121.3" stroke="#444" stroke-width="0.6"/>
<line x1="361.54241773723726" y1="120.2" x2="361.54241773723726" y2="121.3" stroke="#444" stroke-width="0.6"/>
<line x1="362.57569869067436" y1="120.2" x2="362.57569869067436" y2="121.3" stroke="#444" stroke-width="0.6"/>
<line x1="369.12926091891643" y1="120.2" x2="369.12926091891643" y2="121.3" stroke="#444" stroke-width="0.6"/>
<line x1="372.42216746325767" y1="120.2" x2="372.42216746325767" y2="121.3" stroke="#444" stroke-width="0.6"/>
<line x1="374.7585218378329" y1="120.2" x2="374.7585218378329" y2="121.3" stroke="#444" stroke-width="0.6"/>
<line x1="376.57073908108356" y1="120.2" x2="376.57073908108356" y2="121.3" stroke="#444" stroke-width="0.6"/>
<line x1="378.05142838217415" y1="120.2" x2="378.05142838217415" y2="121.3" stroke="#444" stroke-width="0.6"/>
<line x1="379.3033333482666" y1="120.2" x2="379.3033333482666" y2="121.3" stroke="#444" stroke-width="0.6"/>
<line x1="380.38778275674935" y1="120.2" x2="380.38778275674935" y2="121.3" stroke="#444" stroke-width="0.6"/>
<line x1="381.3443349265154" y1="120.2" x2="381.3443349265154" y2="121.3" stroke="#444" stroke-width="0.6"/>
<text x="312.5" y="130.4" font-size="6.2" text-anchor="middle" fill="#1a1a1a" >0</text>
<line x1="312.5" y1="120.2" x2="312.5" y2="122.0" stroke="#222" stroke-width="0.8"/>
<text x="323" y="130.4" font-size="6.2" text-anchor="middle" fill="#1a1a1a">10<tspan dy="-2.4" font-size="4">2</tspan></text>
<line x1="323" y1="120.2" x2="323" y2="122.0" stroke="#222" stroke-width="0.8"/>
<text x="343.3" y="130.4" font-size="6.2" text-anchor="middle" fill="#1a1a1a">10<tspan dy="-2.4" font-size="4">3</tspan></text>
<line x1="343.3" y1="120.2" x2="343.3" y2="122.0" stroke="#222" stroke-width="0.8"/>
<text x="363.5" y="130.4" font-size="6.2" text-anchor="middle" fill="#1a1a1a">10<tspan dy="-2.4" font-size="4">4</tspan></text>
<line x1="363.5" y1="120.2" x2="363.5" y2="122.0" stroke="#222" stroke-width="0.8"/>
<text x="382.2" y="130.4" font-size="6.2" text-anchor="middle" fill="#1a1a1a">10<tspan dy="-2.4" font-size="4">5</tspan></text>
<line x1="382.2" y1="120.2" x2="382.2" y2="122.0" stroke="#222" stroke-width="0.8"/>
<path d="M483.7 65.1h1v1h-1zM483.9 67.7h1v1h-1zM479.1 57.3h1v1h-1zM472.0 51.8h1v1h-1zM452.9 68.0h1v1h-1zM446.3 78.1h1v1h-1zM447.2 83.1h1v1h-1zM449.5 85.5h1v1h-1zM464.9 49.6h1v1h-1zM472.9 82.0h1v1h-1zM471.4 55.8h1v1h-1zM485.3 60.4h1v1h-1zM480.9 57.1h1v1h-1zM465.9 84.0h1v1h-1zM484.6 64.3h1v1h-1zM448.1 86.4h1v1h-1zM448.4 75.9h1v1h-1zM452.8 85.0h1v1h-1zM448.1 78.4h1v1h-1zM448.3 78.2h1v1h-1zM483.4 63.2h1v1h-1zM446.2 80.5h1v1h-1zM451.8 81.8h1v1h-1zM483.0 65.6h1v1h-1zM483.0 60.2h1v1h-1zM481.8 62.1h1v1h-1zM451.1 81.6h1v1h-1zM449.1 73.6h1v1h-1zM481.7 59.6h1v1h-1zM447.3 83.4h1v1h-1zM447.5 87.1h1v1h-1zM450.2 79.1h1v1h-1zM473.7 56.3h1v1h-1zM477.7 54.2h1v1h-1zM458.8 114.6h1v1h-1zM468.7 92.1h1v1h-1zM461.7 107.7h1v1h-1zM455.1 112.5h1v1h-1zM451.2 90.8h1v1h-1zM454.5 114.0h1v1h-1zM462.7 109.2h1v1h-1zM465.1 87.4h1v1h-1zM462.4 105.7h1v1h-1zM459.0 114.7h1v1h-1zM454.3 105.1h1v1h-1zM452.2 112.2h1v1h-1zM466.0 93.3h1v1h-1zM454.2 99.9h1v1h-1zM462.1 88.8h1v1h-1zM453.0 110.3h1v1h-1zM451.9 98.2h1v1h-1zM464.3 110.2h1v1h-1zM452.6 84.8h1v1h-1zM454.9 110.6h1v1h-1zM464.5 86.3h1v1h-1zM463.4 113.9h1v1h-1zM461.7 116.9h1v1h-1zM459.9 115.1h1v1h-1zM462.1 113.2h1v1h-1zM452.9 101.2h1v1h-1zM466.3 89.3h1v1h-1zM455.2 96.2h1v1h-1zM459.3 114.7h1v1h-1zM470.9 84.8h1v1h-1zM467.5 92.1h1v1h-1zM477.2 73.7h1v1h-1zM452.9 68.4h1v1h-1zM474.4 84.8h1v1h-1zM446.3 66.8h1v1h-1zM456.5 77.9h1v1h-1zM458.2 68.4h1v1h-1zM463.0 65.4h1v1h-1zM471.2 73.4h1v1h-1zM433.3 87.3h1v1h-1zM464.4 84.8h1v1h-1zM460.1 75.7h1v1h-1zM447.1 43.0h1v1h-1zM461.3 74.3h1v1h-1zM471.7 78.7h1v1h-1zM459.2 80.7h1v1h-1zM458.7 65.7h1v1h-1zM475.0 86.2h1v1h-1zM455.1 78.2h1v1h-1zM480.3 51.7h1v1h-1zM471.0 83.2h1v1h-1zM471.7 93.8h1v1h-1zM474.0 77.5h1v1h-1zM483.2 65.0h1v1h-1zM455.9 96.0h1v1h-1zM481.8 86.3h1v1h-1zM453.6 52.6h1v1h-1zM471.1 86.9h1v1h-1zM474.4 79.2h1v1h-1zM468.1 77.7h1v1h-1zM450.6 53.3h1v1h-1zM449.1 54.3h1v1h-1zM450.7 76.3h1v1h-1zM465.4 97.1h1v1h-1zM468.5 76.2h1v1h-1zM473.8 75.2h1v1h-1zM444.9 66.7h1v1h-1zM470.5 69.3h1v1h-1zM480.3 86.2h1v1h-1zM468.4 64.6h1v1h-1zM466.0 96.2h1v1h-1zM477.5 79.4h1v1h-1zM488.2 77.4h1v1h-1zM486.9 72.0h1v1h-1zM487.6 64.8h1v1h-1zM448.7 70.3h1v1h-1zM486.5 55.9h1v1h-1zM462.2 73.9h1v1h-1zM478.2 50.3h1v1h-1zM458.2 99.1h1v1h-1zM471.7 72.0h1v1h-1zM458.6 54.3h1v1h-1zM462.6 75.5h1v1h-1zM450.1 65.7h1v1h-1zM480.3 75.3h1v1h-1zM467.6 62.6h1v1h-1zM451.4 70.6h1v1h-1zM484.9 69.9h1v1h-1zM467.2 77.9h1v1h-1zM459.0 65.4h1v1h-1zM471.4 75.5h1v1h-1zM489.9 84.9h1v1h-1zM446.2 74.3h1v1h-1zM459.7 78.7h1v1h-1zM439.1 69.3h1v1h-1zM470.3 82.8h1v1h-1zM478.2 71.8h1v1h-1z" fill="#b4bfea" opacity="0.8"/>
<path d="M479.6 67.2h1v1h-1zM452.3 73.3h1v1h-1zM453.9 81.0h1v1h-1zM477.0 59.1h1v1h-1zM461.5 61.0h1v1h-1zM456.0 67.4h1v1h-1zM452.5 71.7h1v1h-1zM453.0 68.8h1v1h-1zM466.9 57.9h1v1h-1zM477.6 57.5h1v1h-1zM478.9 73.2h1v1h-1zM472.1 57.7h1v1h-1zM467.8 81.7h1v1h-1zM478.9 63.4h1v1h-1zM464.3 60.2h1v1h-1zM456.2 66.6h1v1h-1zM450.0 76.8h1v1h-1zM479.4 60.3h1v1h-1zM467.3 58.4h1v1h-1zM467.5 57.8h1v1h-1zM475.5 58.9h1v1h-1zM466.2 81.1h1v1h-1zM479.8 65.9h1v1h-1zM448.9 76.2h1v1h-1zM471.7 56.9h1v1h-1zM457.9 64.5h1v1h-1zM473.4 77.2h1v1h-1zM471.3 58.0h1v1h-1zM463.0 61.2h1v1h-1zM455.6 82.2h1v1h-1zM452.9 81.1h1v1h-1zM477.2 59.7h1v1h-1zM458.3 64.3h1v1h-1zM477.9 60.5h1v1h-1zM459.0 62.0h1v1h-1zM479.8 64.9h1v1h-1zM451.9 79.3h1v1h-1zM473.8 58.1h1v1h-1zM457.9 87.4h1v1h-1zM476.8 57.8h1v1h-1zM455.2 87.8h1v1h-1zM463.3 81.8h1v1h-1zM450.3 76.4h1v1h-1zM479.9 66.3h1v1h-1zM478.0 72.1h1v1h-1zM455.0 68.6h1v1h-1zM459.9 84.8h1v1h-1zM453.5 88.3h1v1h-1zM458.4 84.7h1v1h-1zM450.3 75.1h1v1h-1zM453.5 69.1h1v1h-1zM453.3 79.0h1v1h-1zM449.0 75.4h1v1h-1zM457.9 101.9h1v1h-1zM462.4 75.8h1v1h-1zM463.3 97.5h1v1h-1zM460.4 96.7h1v1h-1zM463.7 99.2h1v1h-1zM454.2 87.5h1v1h-1zM461.9 92.8h1v1h-1zM453.1 85.2h1v1h-1zM458.6 105.0h1v1h-1zM459.0 99.9h1v1h-1zM455.9 87.3h1v1h-1zM457.9 109.4h1v1h-1zM457.1 102.4h1v1h-1zM457.7 107.5h1v1h-1zM461.0 100.6h1v1h-1zM458.2 91.4h1v1h-1zM462.2 77.2h1v1h-1zM459.4 93.3h1v1h-1zM459.3 111.4h1v1h-1zM459.6 97.0h1v1h-1zM457.9 90.5h1v1h-1zM462.6 102.2h1v1h-1zM460.6 107.2h1v1h-1zM455.6 88.8h1v1h-1zM464.9 96.0h1v1h-1zM458.8 87.4h1v1h-1zM460.0 108.9h1v1h-1zM460.6 98.2h1v1h-1zM458.3 83.9h1v1h-1zM457.6 113.2h1v1h-1zM459.9 88.8h1v1h-1zM459.5 87.9h1v1h-1zM458.0 88.4h1v1h-1zM457.9 93.1h1v1h-1zM459.4 83.8h1v1h-1zM455.8 91.8h1v1h-1zM458.0 97.2h1v1h-1zM454.3 91.6h1v1h-1zM456.8 86.6h1v1h-1zM459.6 110.6h1v1h-1zM456.9 91.6h1v1h-1zM461.7 85.5h1v1h-1zM458.1 103.8h1v1h-1zM458.6 86.6h1v1h-1zM456.3 101.2h1v1h-1zM457.8 92.7h1v1h-1zM464.0 94.4h1v1h-1zM460.2 78.9h1v1h-1zM462.2 95.7h1v1h-1zM454.9 82.1h1v1h-1zM457.6 113.4h1v1h-1zM459.1 90.8h1v1h-1zM459.5 97.1h1v1h-1zM456.7 112.0h1v1h-1zM464.8 76.3h1v1h-1zM455.8 94.9h1v1h-1zM461.6 103.8h1v1h-1zM462.7 94.1h1v1h-1zM463.1 99.8h1v1h-1zM456.2 112.3h1v1h-1zM458.8 85.0h1v1h-1zM452.8 86.3h1v1h-1zM461.1 99.3h1v1h-1zM458.2 90.6h1v1h-1zM461.5 92.7h1v1h-1zM462.3 71.5h1v1h-1zM457.1 91.9h1v1h-1zM460.8 105.1h1v1h-1zM461.4 105.2h1v1h-1zM453.4 82.5h1v1h-1zM456.9 106.8h1v1h-1zM460.8 89.5h1v1h-1zM460.3 83.1h1v1h-1zM457.2 103.5h1v1h-1zM458.7 80.5h1v1h-1zM457.5 88.5h1v1h-1zM461.7 96.4h1v1h-1zM460.2 93.0h1v1h-1zM457.2 92.1h1v1h-1zM457.5 71.8h1v1h-1zM464.5 96.7h1v1h-1zM461.6 101.9h1v1h-1zM464.0 98.6h1v1h-1zM455.2 103.2h1v1h-1zM456.2 105.7h1v1h-1zM458.0 105.5h1v1h-1zM459.7 89.7h1v1h-1zM463.9 99.2h1v1h-1zM466.3 83.0h1v1h-1zM461.5 98.6h1v1h-1zM459.6 95.8h1v1h-1zM458.2 103.9h1v1h-1zM456.3 109.5h1v1h-1zM460.6 104.5h1v1h-1zM456.5 90.4h1v1h-1zM455.9 108.8h1v1h-1zM460.9 99.1h1v1h-1zM460.8 70.2h1v1h-1zM455.3 101.9h1v1h-1zM453.7 88.0h1v1h-1zM457.0 97.4h1v1h-1zM457.1 91.9h1v1h-1zM457.5 89.6h1v1h-1zM458.5 110.7h1v1h-1zM461.5 93.5h1v1h-1zM461.3 101.4h1v1h-1zM456.2 106.8h1v1h-1zM456.5 95.2h1v1h-1zM458.0 100.2h1v1h-1zM461.3 98.7h1v1h-1zM460.0 89.9h1v1h-1zM460.1 101.0h1v1h-1zM457.6 110.3h1v1h-1zM458.3 102.2h1v1h-1zM457.4 100.2h1v1h-1zM457.8 88.2h1v1h-1zM462.5 94.2h1v1h-1zM455.8 106.3h1v1h-1zM460.0 84.1h1v1h-1zM457.1 96.5h1v1h-1zM459.3 98.7h1v1h-1zM456.1 88.3h1v1h-1z" fill="#7088dc" opacity="0.9"/>
<path d="M475.2 73.9h1v1h-1zM462.7 64.5h1v1h-1zM454.5 75.7h1v1h-1zM473.6 60.8h1v1h-1zM456.6 76.9h1v1h-1zM455.6 80.8h1v1h-1zM471.5 59.4h1v1h-1zM457.4 81.9h1v1h-1zM467.2 62.5h1v1h-1zM453.8 73.3h1v1h-1zM476.6 71.6h1v1h-1zM462.1 63.5h1v1h-1zM474.9 69.9h1v1h-1zM466.5 78.4h1v1h-1zM456.8 68.7h1v1h-1zM463.4 78.7h1v1h-1zM455.9 73.9h1v1h-1zM472.8 62.2h1v1h-1zM475.9 72.5h1v1h-1zM473.8 72.1h1v1h-1zM463.1 78.9h1v1h-1zM474.2 65.9h1v1h-1zM477.1 61.8h1v1h-1zM468.9 61.2h1v1h-1zM455.0 77.3h1v1h-1zM456.2 81.4h1v1h-1zM464.5 80.4h1v1h-1zM456.2 70.8h1v1h-1zM477.3 72.2h1v1h-1zM456.0 76.0h1v1h-1zM464.6 78.1h1v1h-1zM460.5 64.1h1v1h-1zM469.1 61.3h1v1h-1zM464.4 64.1h1v1h-1zM476.6 67.2h1v1h-1zM472.4 76.2h1v1h-1zM470.8 62.0h1v1h-1zM457.7 80.8h1v1h-1zM475.6 62.4h1v1h-1zM468.8 59.1h1v1h-1zM465.5 62.4h1v1h-1zM472.9 62.8h1v1h-1zM475.7 70.3h1v1h-1zM460.4 66.9h1v1h-1zM474.6 69.5h1v1h-1zM479.2 66.7h1v1h-1zM476.5 67.5h1v1h-1zM472.6 61.2h1v1h-1zM474.8 72.0h1v1h-1zM475.1 62.9h1v1h-1zM463.1 64.2h1v1h-1zM478.4 69.6h1v1h-1zM460.9 64.6h1v1h-1zM454.4 75.6h1v1h-1zM469.0 59.9h1v1h-1zM469.2 78.5h1v1h-1zM457.0 77.6h1v1h-1zM471.2 74.6h1v1h-1zM472.2 61.8h1v1h-1zM476.9 62.7h1v1h-1zM472.7 74.9h1v1h-1zM475.8 60.2h1v1h-1zM459.7 79.0h1v1h-1zM474.4 70.8h1v1h-1zM478.5 70.2h1v1h-1zM458.3 83.0h1v1h-1zM468.5 60.6h1v1h-1zM459.1 63.8h1v1h-1zM475.3 66.3h1v1h-1zM462.6 79.8h1v1h-1zM474.6 62.2h1v1h-1zM457.1 70.4h1v1h-1zM460.3 63.0h1v1h-1zM472.0 60.6h1v1h-1zM475.8 66.4h1v1h-1zM458.3 68.5h1v1h-1zM473.9 64.8h1v1h-1zM463.6 79.1h1v1h-1zM458.6 79.5h1v1h-1zM453.2 73.2h1v1h-1zM461.5 79.7h1v1h-1zM466.1 62.3h1v1h-1zM475.3 64.7h1v1h-1zM474.5 67.5h1v1h-1zM476.5 68.8h1v1h-1zM478.6 66.6h1v1h-1zM475.8 61.1h1v1h-1zM475.4 69.2h1v1h-1zM475.4 68.9h1v1h-1zM466.3 62.6h1v1h-1zM455.2 78.7h1v1h-1zM466.7 62.1h1v1h-1zM468.7 77.4h1v1h-1zM474.4 72.0h1v1h-1zM455.7 74.1h1v1h-1zM475.7 72.0h1v1h-1zM453.9 73.6h1v1h-1zM464.9 77.9h1v1h-1zM455.7 75.4h1v1h-1zM459.4 65.8h1v1h-1zM477.1 62.5h1v1h-1zM457.4 79.5h1v1h-1zM474.1 61.6h1v1h-1zM474.6 66.3h1v1h-1zM462.7 78.7h1v1h-1zM478.3 65.9h1v1h-1zM464.4 61.1h1v1h-1zM456.3 77.0h1v1h-1zM476.2 71.3h1v1h-1zM475.2 63.4h1v1h-1zM475.0 61.6h1v1h-1zM456.5 78.1h1v1h-1zM458.8 79.6h1v1h-1zM455.7 75.8h1v1h-1zM455.6 74.9h1v1h-1zM464.0 79.9h1v1h-1zM455.6 74.3h1v1h-1zM459.0 68.7h1v1h-1zM472.4 60.6h1v1h-1zM471.0 61.0h1v1h-1zM463.6 81.2h1v1h-1zM465.4 61.5h1v1h-1zM469.1 78.1h1v1h-1zM456.2 73.0h1v1h-1zM460.0 65.1h1v1h-1zM475.7 69.7h1v1h-1zM478.0 68.5h1v1h-1zM467.0 78.0h1v1h-1zM455.1 70.7h1v1h-1zM471.8 73.9h1v1h-1zM467.9 78.3h1v1h-1zM460.1 80.5h1v1h-1zM455.1 72.9h1v1h-1zM469.1 59.2h1v1h-1zM478.3 68.9h1v1h-1zM457.6 70.6h1v1h-1zM459.0 79.7h1v1h-1zM474.6 64.3h1v1h-1zM475.0 60.4h1v1h-1zM474.4 61.3h1v1h-1zM453.5 75.0h1v1h-1zM469.0 61.0h1v1h-1zM457.5 68.3h1v1h-1zM466.4 60.5h1v1h-1zM478.3 65.3h1v1h-1zM455.1 78.1h1v1h-1zM476.5 69.4h1v1h-1zM470.5 75.7h1v1h-1zM471.5 60.6h1v1h-1zM472.6 77.0h1v1h-1zM472.9 58.8h1v1h-1zM454.7 74.6h1v1h-1zM464.5 64.0h1v1h-1zM464.9 79.0h1v1h-1zM460.7 64.2h1v1h-1zM457.4 71.3h1v1h-1zM476.2 64.5h1v1h-1zM467.1 61.1h1v1h-1zM471.3 60.7h1v1h-1zM460.0 65.2h1v1h-1zM473.3 60.4h1v1h-1zM461.0 80.0h1v1h-1zM455.1 74.5h1v1h-1zM457.6 79.7h1v1h-1zM474.3 71.2h1v1h-1zM474.8 64.5h1v1h-1zM476.8 64.9h1v1h-1zM475.7 63.4h1v1h-1zM474.1 59.5h1v1h-1zM457.0 72.1h1v1h-1zM471.2 75.1h1v1h-1zM466.1 80.1h1v1h-1zM458.0 65.9h1v1h-1zM470.4 76.1h1v1h-1zM461.4 65.8h1v1h-1zM463.8 79.3h1v1h-1zM464.3 78.6h1v1h-1zM477.5 66.4h1v1h-1zM475.0 64.0h1v1h-1zM475.1 69.2h1v1h-1zM475.3 64.4h1v1h-1zM468.0 61.9h1v1h-1zM457.7 81.6h1v1h-1zM464.8 80.7h1v1h-1zM472.0 73.5h1v1h-1zM470.3 77.3h1v1h-1zM474.2 64.6h1v1h-1zM455.3 76.6h1v1h-1zM477.8 69.1h1v1h-1zM460.2 66.8h1v1h-1zM478.4 65.8h1v1h-1zM463.5 64.0h1v1h-1zM475.0 74.3h1v1h-1zM458.8 79.6h1v1h-1zM471.0 61.5h1v1h-1zM474.5 63.5h1v1h-1zM464.2 62.4h1v1h-1zM464.9 62.4h1v1h-1zM473.9 62.9h1v1h-1zM460.2 78.8h1v1h-1zM476.8 66.8h1v1h-1zM475.0 62.0h1v1h-1zM459.5 80.6h1v1h-1zM457.5 80.0h1v1h-1zM467.3 77.2h1v1h-1zM472.0 61.8h1v1h-1zM455.8 73.0h1v1h-1zM476.1 71.1h1v1h-1zM465.3 81.2h1v1h-1zM477.8 61.5h1v1h-1zM477.8 62.0h1v1h-1zM473.9 61.8h1v1h-1zM460.5 65.2h1v1h-1zM465.9 63.3h1v1h-1zM479.4 66.3h1v1h-1zM456.3 70.0h1v1h-1zM476.6 70.6h1v1h-1zM461.1 66.2h1v1h-1zM457.9 80.3h1v1h-1zM471.5 61.6h1v1h-1zM455.7 78.9h1v1h-1zM469.9 59.8h1v1h-1zM468.5 62.2h1v1h-1zM455.9 78.0h1v1h-1z" fill="#2f4fd8" opacity="1"/>
<path d="M459.7 70.2h1v1h-1zM471.1 72.9h1v1h-1zM470.3 62.5h1v1h-1zM461.0 68.2h1v1h-1zM464.3 76.4h1v1h-1zM457.7 71.0h1v1h-1zM471.6 65.2h1v1h-1zM462.7 78.2h1v1h-1zM458.5 70.9h1v1h-1zM473.3 70.5h1v1h-1zM472.7 68.4h1v1h-1zM459.0 70.3h1v1h-1zM461.5 67.8h1v1h-1zM460.7 67.3h1v1h-1zM470.7 63.4h1v1h-1zM462.9 66.8h1v1h-1zM458.2 76.0h1v1h-1zM460.0 77.3h1v1h-1zM458.6 71.3h1v1h-1zM472.6 68.9h1v1h-1zM473.7 64.8h1v1h-1zM471.4 70.8h1v1h-1zM457.5 77.0h1v1h-1zM460.6 77.1h1v1h-1zM472.2 63.2h1v1h-1zM469.7 75.1h1v1h-1zM458.0 70.9h1v1h-1zM468.8 64.3h1v1h-1zM464.7 64.4h1v1h-1zM460.1 69.9h1v1h-1zM461.6 66.3h1v1h-1zM470.5 73.4h1v1h-1zM466.3 76.1h1v1h-1zM462.7 77.0h1v1h-1zM471.4 65.0h1v1h-1zM472.4 68.4h1v1h-1zM457.3 74.5h1v1h-1zM473.4 70.3h1v1h-1zM469.6 62.4h1v1h-1zM469.1 75.8h1v1h-1zM457.0 74.8h1v1h-1zM474.1 67.1h1v1h-1zM462.7 76.9h1v1h-1zM457.4 76.3h1v1h-1zM468.2 62.6h1v1h-1zM463.5 76.8h1v1h-1zM468.2 75.2h1v1h-1zM457.0 73.5h1v1h-1zM469.5 74.6h1v1h-1zM459.9 69.4h1v1h-1zM472.1 67.7h1v1h-1zM471.1 65.5h1v1h-1zM466.5 63.5h1v1h-1zM462.7 77.2h1v1h-1zM472.7 66.4h1v1h-1zM473.0 68.8h1v1h-1zM471.9 70.7h1v1h-1zM471.4 65.5h1v1h-1zM471.5 64.0h1v1h-1zM458.1 74.2h1v1h-1zM465.3 77.4h1v1h-1zM468.1 64.1h1v1h-1zM467.6 63.3h1v1h-1zM463.6 65.2h1v1h-1zM471.6 66.3h1v1h-1zM471.6 71.6h1v1h-1zM462.4 66.2h1v1h-1zM474.1 66.8h1v1h-1zM464.3 65.2h1v1h-1zM457.9 72.8h1v1h-1zM465.2 76.3h1v1h-1zM466.2 64.7h1v1h-1zM463.4 66.3h1v1h-1zM470.6 73.8h1v1h-1zM459.1 77.7h1v1h-1zM463.7 65.2h1v1h-1zM462.3 67.6h1v1h-1zM460.9 68.9h1v1h-1zM460.9 68.3h1v1h-1zM472.1 67.2h1v1h-1zM469.7 75.4h1v1h-1zM470.0 75.3h1v1h-1zM468.7 76.3h1v1h-1zM469.6 76.0h1v1h-1zM470.0 73.8h1v1h-1zM461.2 67.2h1v1h-1zM457.3 76.7h1v1h-1zM473.8 69.6h1v1h-1zM459.3 68.5h1v1h-1zM460.0 76.5h1v1h-1zM460.5 67.8h1v1h-1zM464.9 65.2h1v1h-1zM458.5 72.8h1v1h-1zM469.4 74.5h1v1h-1zM459.5 78.2h1v1h-1zM472.6 63.7h1v1h-1zM458.8 70.2h1v1h-1zM461.2 77.0h1v1h-1zM457.7 71.6h1v1h-1zM457.8 75.4h1v1h-1zM457.6 75.4h1v1h-1zM472.2 67.5h1v1h-1zM473.4 68.4h1v1h-1zM462.4 66.7h1v1h-1zM471.3 64.4h1v1h-1zM467.3 64.0h1v1h-1zM468.5 62.4h1v1h-1zM473.5 64.9h1v1h-1zM458.8 77.1h1v1h-1zM459.5 76.8h1v1h-1zM461.6 77.0h1v1h-1zM467.7 75.8h1v1h-1zM473.3 66.7h1v1h-1zM471.6 63.3h1v1h-1zM466.8 63.9h1v1h-1zM472.7 66.1h1v1h-1zM458.3 73.0h1v1h-1zM469.9 74.0h1v1h-1zM471.2 64.5h1v1h-1zM469.1 64.3h1v1h-1zM467.9 64.2h1v1h-1zM470.5 64.9h1v1h-1zM468.8 63.9h1v1h-1zM464.1 77.0h1v1h-1zM461.8 66.5h1v1h-1zM471.8 72.4h1v1h-1zM465.4 65.3h1v1h-1zM470.5 64.8h1v1h-1zM472.0 67.8h1v1h-1zM473.7 69.6h1v1h-1zM460.5 76.9h1v1h-1zM457.9 74.3h1v1h-1zM468.5 76.5h1v1h-1zM462.0 77.5h1v1h-1zM458.1 74.8h1v1h-1zM473.1 67.3h1v1h-1zM472.6 70.9h1v1h-1zM469.1 75.1h1v1h-1zM470.3 74.6h1v1h-1zM461.2 77.7h1v1h-1zM458.1 77.4h1v1h-1zM460.3 78.2h1v1h-1zM459.3 69.0h1v1h-1zM471.9 66.2h1v1h-1zM466.4 75.7h1v1h-1zM461.8 77.5h1v1h-1zM468.1 75.5h1v1h-1zM464.5 65.0h1v1h-1zM465.1 64.3h1v1h-1zM458.4 75.2h1v1h-1zM469.9 62.8h1v1h-1zM464.2 66.5h1v1h-1zM472.9 67.6h1v1h-1zM471.3 64.2h1v1h-1zM468.7 64.2h1v1h-1zM457.3 76.7h1v1h-1zM459.1 69.1h1v1h-1zM473.3 66.3h1v1h-1zM458.8 76.9h1v1h-1zM464.4 66.4h1v1h-1zM458.4 75.7h1v1h-1zM467.3 64.8h1v1h-1zM459.9 77.5h1v1h-1zM467.2 63.5h1v1h-1zM468.8 64.1h1v1h-1zM458.1 72.9h1v1h-1zM471.0 64.0h1v1h-1zM468.8 63.6h1v1h-1zM468.9 64.2h1v1h-1zM462.2 67.0h1v1h-1zM465.6 65.7h1v1h-1zM457.8 76.0h1v1h-1zM472.7 65.1h1v1h-1zM456.7 75.2h1v1h-1zM473.0 69.3h1v1h-1zM458.6 73.6h1v1h-1zM469.7 74.2h1v1h-1zM470.5 63.4h1v1h-1zM461.4 67.2h1v1h-1zM469.7 75.7h1v1h-1zM469.4 64.3h1v1h-1zM466.2 76.1h1v1h-1zM467.4 63.8h1v1h-1zM460.8 68.6h1v1h-1zM468.7 75.4h1v1h-1zM470.5 64.7h1v1h-1zM474.3 67.8h1v1h-1zM462.5 77.2h1v1h-1zM461.1 67.8h1v1h-1zM472.3 69.1h1v1h-1zM457.6 73.2h1v1h-1zM466.4 76.3h1v1h-1zM459.4 68.9h1v1h-1zM458.7 76.7h1v1h-1zM468.1 75.3h1v1h-1zM457.7 74.4h1v1h-1z" fill="#30b4dc" opacity="1"/>
<path d="M462.3 73.7h1v1h-1zM469.5 71.9h1v1h-1zM466.1 67.7h1v1h-1zM469.9 69.1h1v1h-1zM459.5 73.0h1v1h-1zM462.3 73.8h1v1h-1zM470.2 71.1h1v1h-1zM469.1 71.8h1v1h-1zM463.8 69.3h1v1h-1zM464.0 74.0h1v1h-1zM468.9 68.5h1v1h-1zM471.3 67.7h1v1h-1zM465.5 67.8h1v1h-1zM461.7 69.1h1v1h-1zM464.0 75.3h1v1h-1zM467.9 74.6h1v1h-1zM460.2 71.7h1v1h-1zM468.7 72.0h1v1h-1zM468.8 72.0h1v1h-1zM463.8 69.2h1v1h-1zM468.9 64.6h1v1h-1zM470.4 66.2h1v1h-1zM465.0 75.7h1v1h-1zM470.8 70.2h1v1h-1zM470.6 68.9h1v1h-1zM464.1 68.2h1v1h-1zM459.9 74.0h1v1h-1zM470.1 70.2h1v1h-1zM464.1 67.5h1v1h-1zM464.4 67.0h1v1h-1zM468.1 65.5h1v1h-1zM465.6 68.4h1v1h-1zM470.2 66.5h1v1h-1zM460.5 74.0h1v1h-1zM464.2 68.8h1v1h-1zM470.2 68.2h1v1h-1zM470.5 66.0h1v1h-1zM462.4 75.4h1v1h-1zM468.5 73.8h1v1h-1zM469.7 71.8h1v1h-1zM462.0 73.4h1v1h-1zM461.1 69.8h1v1h-1zM470.0 70.2h1v1h-1zM467.5 73.6h1v1h-1zM461.3 69.2h1v1h-1zM459.3 73.3h1v1h-1zM466.9 65.5h1v1h-1zM469.7 66.3h1v1h-1zM470.8 71.7h1v1h-1zM465.1 75.1h1v1h-1zM464.7 67.3h1v1h-1zM470.2 72.7h1v1h-1zM471.0 69.2h1v1h-1zM467.3 65.5h1v1h-1zM461.4 73.9h1v1h-1zM469.8 69.1h1v1h-1zM459.1 74.3h1v1h-1zM462.7 74.5h1v1h-1zM468.3 73.4h1v1h-1zM470.6 67.5h1v1h-1zM467.0 73.4h1v1h-1zM469.5 64.9h1v1h-1zM464.2 68.9h1v1h-1zM461.5 72.5h1v1h-1zM471.4 69.5h1v1h-1zM464.9 67.1h1v1h-1zM467.9 64.9h1v1h-1zM467.1 67.0h1v1h-1zM462.8 69.8h1v1h-1zM466.8 74.4h1v1h-1zM464.8 66.8h1v1h-1zM460.1 75.7h1v1h-1zM463.1 68.1h1v1h-1zM460.6 75.3h1v1h-1zM468.7 68.9h1v1h-1zM469.5 69.8h1v1h-1zM460.7 71.6h1v1h-1zM465.6 67.3h1v1h-1zM462.8 76.4h1v1h-1zM463.4 68.7h1v1h-1zM460.9 76.5h1v1h-1zM465.6 75.0h1v1h-1zM461.5 74.5h1v1h-1zM464.0 76.2h1v1h-1zM470.4 67.1h1v1h-1zM463.5 69.3h1v1h-1zM461.9 73.5h1v1h-1zM460.1 70.9h1v1h-1zM470.6 67.5h1v1h-1zM462.0 76.6h1v1h-1zM459.2 73.0h1v1h-1zM461.1 69.9h1v1h-1zM466.5 75.1h1v1h-1zM468.2 68.1h1v1h-1zM466.2 66.5h1v1h-1zM467.5 66.5h1v1h-1zM460.9 72.7h1v1h-1zM470.8 69.6h1v1h-1zM460.0 71.0h1v1h-1zM461.7 72.2h1v1h-1zM461.0 72.6h1v1h-1zM462.9 69.0h1v1h-1zM459.6 74.3h1v1h-1zM467.9 72.9h1v1h-1zM468.9 70.0h1v1h-1zM463.3 67.4h1v1h-1zM459.5 71.9h1v1h-1zM467.8 65.3h1v1h-1zM460.9 73.1h1v1h-1zM469.8 72.0h1v1h-1zM461.2 71.3h1v1h-1zM465.3 67.7h1v1h-1zM460.8 75.9h1v1h-1zM463.5 74.9h1v1h-1zM470.8 69.8h1v1h-1zM462.2 75.9h1v1h-1zM468.1 66.4h1v1h-1zM468.9 68.1h1v1h-1zM468.7 71.1h1v1h-1zM460.9 69.6h1v1h-1zM463.7 74.5h1v1h-1zM460.3 73.5h1v1h-1zM460.3 72.5h1v1h-1zM462.2 76.5h1v1h-1zM460.1 75.3h1v1h-1zM461.6 76.0h1v1h-1zM464.6 66.5h1v1h-1zM468.8 67.6h1v1h-1zM471.1 65.7h1v1h-1zM468.4 67.8h1v1h-1zM470.1 67.6h1v1h-1zM471.3 67.1h1v1h-1zM459.9 72.1h1v1h-1zM470.1 68.4h1v1h-1zM468.5 71.4h1v1h-1zM464.3 69.0h1v1h-1zM468.2 74.8h1v1h-1zM470.5 69.9h1v1h-1zM467.9 74.8h1v1h-1zM467.4 75.2h1v1h-1zM466.5 68.0h1v1h-1zM468.3 68.8h1v1h-1zM464.0 75.2h1v1h-1zM461.1 71.5h1v1h-1zM462.6 74.5h1v1h-1zM461.6 75.2h1v1h-1zM469.5 68.9h1v1h-1zM468.6 69.0h1v1h-1zM461.7 76.1h1v1h-1zM467.7 74.9h1v1h-1zM461.8 70.0h1v1h-1zM469.9 71.5h1v1h-1zM471.3 70.7h1v1h-1zM462.5 74.7h1v1h-1zM465.8 67.6h1v1h-1zM468.7 72.1h1v1h-1zM461.8 75.0h1v1h-1zM466.1 66.9h1v1h-1zM467.4 74.6h1v1h-1zM466.0 74.0h1v1h-1zM469.4 68.2h1v1h-1zM467.1 68.2h1v1h-1zM461.9 71.7h1v1h-1zM467.9 65.2h1v1h-1zM461.5 74.8h1v1h-1zM465.0 67.7h1v1h-1zM461.9 75.2h1v1h-1zM465.2 75.4h1v1h-1zM470.0 67.6h1v1h-1zM468.3 67.9h1v1h-1zM463.4 69.1h1v1h-1zM461.2 71.5h1v1h-1zM467.9 68.3h1v1h-1zM471.1 70.7h1v1h-1zM467.9 66.9h1v1h-1zM466.7 67.1h1v1h-1zM467.6 68.3h1v1h-1zM461.5 70.2h1v1h-1zM462.3 71.1h1v1h-1zM460.4 72.5h1v1h-1zM461.2 74.7h1v1h-1zM461.6 71.5h1v1h-1zM468.9 66.6h1v1h-1zM469.0 72.0h1v1h-1zM469.0 72.8h1v1h-1zM470.6 66.8h1v1h-1zM461.2 76.6h1v1h-1zM467.9 68.4h1v1h-1zM468.3 65.9h1v1h-1zM470.7 71.6h1v1h-1zM468.4 71.6h1v1h-1zM459.8 73.5h1v1h-1zM464.1 74.4h1v1h-1zM461.1 72.5h1v1h-1zM471.0 68.5h1v1h-1zM470.9 69.6h1v1h-1zM470.6 65.4h1v1h-1zM459.8 75.0h1v1h-1zM461.8 70.5h1v1h-1zM461.6 70.9h1v1h-1zM461.8 71.5h1v1h-1zM471.2 70.8h1v1h-1zM469.3 66.8h1v1h-1zM458.8 73.7h1v1h-1zM471.3 69.4h1v1h-1zM463.8 68.0h1v1h-1zM470.8 69.4h1v1h-1zM470.5 66.3h1v1h-1zM469.9 69.8h1v1h-1zM461.5 72.6h1v1h-1zM470.4 72.2h1v1h-1zM470.7 65.1h1v1h-1zM462.9 75.4h1v1h-1zM461.0 72.2h1v1h-1zM461.8 70.5h1v1h-1zM469.4 71.8h1v1h-1zM464.8 74.9h1v1h-1zM467.0 67.2h1v1h-1zM459.3 74.2h1v1h-1zM467.7 67.6h1v1h-1zM471.5 66.9h1v1h-1zM465.3 74.2h1v1h-1zM460.7 74.9h1v1h-1zM460.6 70.8h1v1h-1zM469.0 70.8h1v1h-1zM471.2 70.2h1v1h-1zM461.8 74.3h1v1h-1zM469.5 69.2h1v1h-1zM463.4 69.4h1v1h-1zM461.6 75.1h1v1h-1zM459.8 74.7h1v1h-1zM468.9 67.1h1v1h-1zM459.7 72.5h1v1h-1zM470.4 66.6h1v1h-1zM460.3 71.2h1v1h-1zM469.2 65.8h1v1h-1zM470.1 66.2h1v1h-1zM467.4 74.0h1v1h-1zM467.0 67.9h1v1h-1zM469.5 70.7h1v1h-1zM462.2 75.9h1v1h-1zM465.8 67.2h1v1h-1zM470.2 65.8h1v1h-1zM470.0 72.5h1v1h-1zM462.5 70.2h1v1h-1zM469.2 72.1h1v1h-1zM464.4 75.6h1v1h-1zM466.2 73.7h1v1h-1zM465.6 74.6h1v1h-1zM466.3 66.8h1v1h-1zM469.1 71.6h1v1h-1zM465.0 67.9h1v1h-1zM464.7 74.9h1v1h-1zM462.1 69.2h1v1h-1zM462.6 74.5h1v1h-1zM469.0 72.5h1v1h-1zM463.0 75.4h1v1h-1zM468.7 65.4h1v1h-1zM462.7 75.8h1v1h-1zM464.0 68.3h1v1h-1zM461.2 70.4h1v1h-1zM459.3 73.1h1v1h-1zM467.4 67.0h1v1h-1zM463.4 75.2h1v1h-1zM460.2 72.8h1v1h-1zM466.3 65.8h1v1h-1z" fill="#58c864" opacity="1"/>
<path d="M464.8 71.1h1v1h-1zM467.6 72.4h1v1h-1zM464.7 72.9h1v1h-1zM466.1 73.0h1v1h-1zM462.4 73.0h1v1h-1zM463.7 72.0h1v1h-1zM467.1 71.7h1v1h-1zM463.7 71.8h1v1h-1zM467.9 70.7h1v1h-1zM466.1 72.2h1v1h-1zM464.6 71.7h1v1h-1zM466.8 72.3h1v1h-1zM465.3 69.6h1v1h-1zM466.9 72.7h1v1h-1zM467.6 71.3h1v1h-1zM463.5 70.4h1v1h-1zM465.6 68.6h1v1h-1zM465.8 72.3h1v1h-1zM468.0 69.6h1v1h-1zM465.9 73.5h1v1h-1zM467.2 72.6h1v1h-1zM466.6 70.1h1v1h-1zM466.8 72.9h1v1h-1zM464.5 71.1h1v1h-1zM466.6 71.1h1v1h-1zM466.3 68.8h1v1h-1zM465.9 70.0h1v1h-1zM468.1 69.3h1v1h-1zM464.7 71.7h1v1h-1zM462.9 70.9h1v1h-1zM466.8 72.6h1v1h-1zM466.5 71.5h1v1h-1zM466.7 71.2h1v1h-1zM465.5 68.7h1v1h-1zM466.9 69.6h1v1h-1zM466.5 70.1h1v1h-1zM463.0 71.7h1v1h-1zM465.0 70.4h1v1h-1zM465.9 73.4h1v1h-1zM466.3 70.1h1v1h-1zM465.6 70.1h1v1h-1zM466.6 72.1h1v1h-1zM464.2 71.5h1v1h-1zM466.2 71.6h1v1h-1zM467.4 72.5h1v1h-1zM466.7 72.7h1v1h-1zM467.3 68.9h1v1h-1zM466.0 68.5h1v1h-1zM464.0 71.8h1v1h-1zM466.5 71.9h1v1h-1zM466.1 72.9h1v1h-1zM464.0 69.8h1v1h-1zM462.1 73.1h1v1h-1zM463.8 69.6h1v1h-1zM468.3 71.0h1v1h-1zM464.3 72.4h1v1h-1zM468.3 69.1h1v1h-1zM465.8 69.5h1v1h-1zM463.8 70.6h1v1h-1zM463.8 71.1h1v1h-1zM463.0 73.7h1v1h-1zM462.3 71.9h1v1h-1zM464.3 72.0h1v1h-1zM467.4 69.3h1v1h-1zM465.6 69.5h1v1h-1zM466.4 69.4h1v1h-1zM465.0 73.6h1v1h-1zM464.9 73.3h1v1h-1zM465.2 73.3h1v1h-1zM465.3 69.8h1v1h-1zM467.4 69.3h1v1h-1zM465.5 70.5h1v1h-1zM464.3 71.3h1v1h-1zM462.3 71.8h1v1h-1zM464.5 70.2h1v1h-1zM466.4 71.7h1v1h-1zM467.1 68.8h1v1h-1zM468.1 70.4h1v1h-1zM467.4 70.8h1v1h-1zM463.8 71.6h1v1h-1zM465.7 69.9h1v1h-1zM465.2 72.6h1v1h-1zM464.4 70.8h1v1h-1zM466.5 73.0h1v1h-1zM463.0 72.2h1v1h-1zM463.6 72.7h1v1h-1zM464.9 73.8h1v1h-1zM463.5 73.6h1v1h-1zM466.3 73.2h1v1h-1zM467.1 71.5h1v1h-1zM465.1 72.3h1v1h-1zM465.2 72.4h1v1h-1zM466.8 71.2h1v1h-1zM467.4 69.3h1v1h-1zM468.5 71.2h1v1h-1zM466.1 68.6h1v1h-1zM467.2 69.0h1v1h-1zM466.8 68.5h1v1h-1zM466.6 71.3h1v1h-1zM466.0 68.8h1v1h-1zM462.8 72.4h1v1h-1zM464.6 70.6h1v1h-1zM464.1 69.4h1v1h-1zM466.4 71.7h1v1h-1zM464.3 73.8h1v1h-1zM463.6 72.3h1v1h-1zM464.5 72.9h1v1h-1zM468.1 70.4h1v1h-1zM463.0 73.7h1v1h-1zM463.0 73.1h1v1h-1zM465.4 70.0h1v1h-1zM464.1 73.6h1v1h-1zM463.8 72.7h1v1h-1zM463.5 73.1h1v1h-1zM466.5 72.0h1v1h-1zM466.9 73.1h1v1h-1z" fill="#b0d434" opacity="1"/>
<path d="M465.5 71.1h1v1h-1zM466.0 70.5h1v1h-1zM465.1 70.9h1v1h-1zM465.0 71.3h1v1h-1zM465.0 71.3h1v1h-1zM465.7 71.6h1v1h-1zM465.5 71.2h1v1h-1zM466.1 71.0h1v1h-1zM465.6 71.2h1v1h-1zM464.9 71.1h1v1h-1zM465.2 71.1h1v1h-1z" fill="#e8c020" opacity="1"/>
<rect x="408.5" y="42.1" width="86.0" height="77.19999999999999" fill="none" stroke="#7a7a7a" stroke-width="0.9"/>
<line x1="447.6" y1="42.1" x2="447.6" y2="119.3" stroke="#888" stroke-width="0.9"/>
<line x1="408.5" y1="83.1" x2="494.5" y2="83.1" stroke="#888" stroke-width="0.9"/>
<text x="449.3" y="38.9" font-size="9.6" font-weight="bold" text-anchor="middle" fill="#1a1a1a" >mF4</text>
<text x="410.9" y="50.3" font-size="5.3" text-anchor="start" fill="#1a1a1a" >Q1</text>
<text x="410.9" y="56.2" font-size="5.3" text-anchor="start" fill="#1a1a1a" >0.00%</text>
<text x="476.87" y="50.3" font-size="5.3" text-anchor="start" fill="#1a1a1a" >Q2</text>
<text x="476.87" y="56.2" font-size="5.3" text-anchor="start" fill="#1a1a1a" >96.8%</text>
<text x="410.9" y="108.39999999999999" font-size="5.3" text-anchor="start" fill="#1a1a1a" >Q4</text>
<text x="410.9" y="114.39999999999999" font-size="5.3" text-anchor="start" fill="#1a1a1a" >0.173%</text>
<text x="476.87" y="108.39999999999999" font-size="5.3" text-anchor="start" fill="#1a1a1a" >Q3</text>
<text x="476.87" y="114.39999999999999" font-size="5.3" text-anchor="start" fill="#1a1a1a" >3.04%</text>
<text x="404.3" y="51.400000000000006" font-size="6.2" text-anchor="end" fill="#1a1a1a">10<tspan dy="-2.4" font-size="4">5</tspan></text>
<line x1="406.7" y1="49.2" x2="408.5" y2="49.2" stroke="#222" stroke-width="0.8"/>
<text x="404.3" y="68.3" font-size="6.2" text-anchor="end" fill="#1a1a1a">10<tspan dy="-2.4" font-size="4">4</tspan></text>
<line x1="406.7" y1="66.1" x2="408.5" y2="66.1" stroke="#222" stroke-width="0.8"/>
<text x="404.3" y="86.0" font-size="6.2" text-anchor="end" fill="#1a1a1a">10<tspan dy="-2.4" font-size="4">3</tspan></text>
<line x1="406.7" y1="83.8" x2="408.5" y2="83.8" stroke="#222" stroke-width="0.8"/>
<text x="404.3" y="103.9" font-size="6.2" text-anchor="end" fill="#1a1a1a">10<tspan dy="-2.4" font-size="4">2</tspan></text>
<line x1="406.7" y1="101.7" x2="408.5" y2="101.7" stroke="#222" stroke-width="0.8"/>
<text x="402.0" y="113.10000000000001" font-size="6.2" text-anchor="end" fill="#1a1a1a" >0</text>
<line x1="406.7" y1="110.9" x2="408.5" y2="110.9" stroke="#222" stroke-width="0.8"/>
<line x1="407.4" y1="78.47176907674753" x2="408.5" y2="78.47176907674753" stroke="#444" stroke-width="0.6"/>
<line x1="407.4" y1="75.35495379146197" x2="408.5" y2="75.35495379146197" stroke="#444" stroke-width="0.6"/>
<line x1="407.4" y1="73.14353815349506" x2="408.5" y2="73.14353815349506" stroke="#444" stroke-width="0.6"/>
<line x1="407.4" y1="71.42823092325246" x2="408.5" y2="71.42823092325246" stroke="#444" stroke-width="0.6"/>
<line x1="407.4" y1="70.0267228682095" x2="408.5" y2="70.0267228682095" stroke="#444" stroke-width="0.6"/>
<line x1="407.4" y1="68.84176469174764" x2="408.5" y2="68.84176469174764" stroke="#444" stroke-width="0.6"/>
<line x1="407.4" y1="67.8153072302426" x2="408.5" y2="67.8153072302426" stroke="#444" stroke-width="0.6"/>
<line x1="407.4" y1="66.90990758292395" x2="408.5" y2="66.90990758292395" stroke="#444" stroke-width="0.6"/>
<line x1="407.4" y1="61.012593073278715" x2="408.5" y2="61.012593073278715" stroke="#444" stroke-width="0.6"/>
<line x1="407.4" y1="58.036650795237705" x2="408.5" y2="58.036650795237705" stroke="#444" stroke-width="0.6"/>
<line x1="407.4" y1="55.92518614655744" x2="408.5" y2="55.92518614655744" stroke="#444" stroke-width="0.6"/>
<line x1="407.4" y1="54.28740692672128" x2="408.5" y2="54.28740692672128" stroke="#444" stroke-width="0.6"/>
<line x1="407.4" y1="52.949243868516426" x2="408.5" y2="52.949243868516426" stroke="#444" stroke-width="0.6"/>
<line x1="407.4" y1="51.81784312375906" x2="408.5" y2="51.81784312375906" stroke="#444" stroke-width="0.6"/>
<line x1="407.4" y1="50.83777921983616" x2="408.5" y2="50.83777921983616" stroke="#444" stroke-width="0.6"/>
<line x1="407.4" y1="49.973301590475415" x2="408.5" y2="49.973301590475415" stroke="#444" stroke-width="0.6"/>
<line x1="453.4410119115452" y1="119.3" x2="453.4410119115452" y2="120.39999999999999" stroke="#444" stroke-width="0.6"/>
<line x1="457.0332735962811" y1="119.3" x2="457.0332735962811" y2="120.39999999999999" stroke="#444" stroke-width="0.6"/>
<line x1="459.5820238230904" y1="119.3" x2="459.5820238230904" y2="120.39999999999999" stroke="#444" stroke-width="0.6"/>
<line x1="461.5589880884548" y1="119.3" x2="461.5589880884548" y2="120.39999999999999" stroke="#444" stroke-width="0.6"/>
<line x1="463.1742855078263" y1="119.3" x2="463.1742855078263" y2="120.39999999999999" stroke="#444" stroke-width="0.6"/>
<line x1="464.54000001629083" y1="119.3" x2="464.54000001629083" y2="120.39999999999999" stroke="#444" stroke-width="0.6"/>
<line x1="465.72303573463563" y1="119.3" x2="465.72303573463563" y2="120.39999999999999" stroke="#444" stroke-width="0.6"/>
<line x1="466.7665471925622" y1="119.3" x2="466.7665471925622" y2="120.39999999999999" stroke="#444" stroke-width="0.6"/>
<line x1="473.20884892065084" y1="119.3" x2="473.20884892065084" y2="120.39999999999999" stroke="#444" stroke-width="0.6"/>
<line x1="476.4313189613698" y1="119.3" x2="476.4313189613698" y2="120.39999999999999" stroke="#444" stroke-width="0.6"/>
<line x1="478.7176978413017" y1="119.3" x2="478.7176978413017" y2="120.39999999999999" stroke="#444" stroke-width="0.6"/>
<line x1="480.49115107934915" y1="119.3" x2="480.49115107934915" y2="120.39999999999999" stroke="#444" stroke-width="0.6"/>
<line x1="481.94016788202066" y1="119.3" x2="481.94016788202066" y2="120.39999999999999" stroke="#444" stroke-width="0.6"/>
<line x1="483.1652941322609" y1="119.3" x2="483.1652941322609" y2="120.39999999999999" stroke="#444" stroke-width="0.6"/>
<line x1="484.2265467619526" y1="119.3" x2="484.2265467619526" y2="120.39999999999999" stroke="#444" stroke-width="0.6"/>
<line x1="485.16263792273963" y1="119.3" x2="485.16263792273963" y2="120.39999999999999" stroke="#444" stroke-width="0.6"/>
<text x="417.5" y="129.5" font-size="6.2" text-anchor="middle" fill="#1a1a1a" >0</text>
<line x1="417.5" y1="119.3" x2="417.5" y2="121.1" stroke="#222" stroke-width="0.8"/>
<text x="428" y="129.5" font-size="6.2" text-anchor="middle" fill="#1a1a1a">10<tspan dy="-2.4" font-size="4">2</tspan></text>
<line x1="428" y1="119.3" x2="428" y2="121.1" stroke="#222" stroke-width="0.8"/>
<text x="447.3" y="129.5" font-size="6.2" text-anchor="middle" fill="#1a1a1a">10<tspan dy="-2.4" font-size="4">3</tspan></text>
<line x1="447.3" y1="119.3" x2="447.3" y2="121.1" stroke="#222" stroke-width="0.8"/>
<text x="467.7" y="129.5" font-size="6.2" text-anchor="middle" fill="#1a1a1a">10<tspan dy="-2.4" font-size="4">4</tspan></text>
<line x1="467.7" y1="119.3" x2="467.7" y2="121.1" stroke="#222" stroke-width="0.8"/>
<text x="486" y="129.5" font-size="6.2" text-anchor="middle" fill="#1a1a1a">10<tspan dy="-2.4" font-size="4">5</tspan></text>
<line x1="486" y1="119.3" x2="486" y2="121.1" stroke="#222" stroke-width="0.8"/>
<line x1="287.6" y1="43.9" x2="287.6" y2="134.89999999999998" stroke="#111" stroke-width="1.4"/>
<line x1="286.90000000000003" y1="134.2" x2="494.7" y2="134.2" stroke="#111" stroke-width="1.4"/>
<polygon points="287.6,39.9 285.3,45.4 289.90000000000003,45.4" fill="#111"/>
<polygon points="498.7,134.2 492.7,131.79999999999998 492.7,136.6" fill="#111"/>
<text transform="translate(278.7,79.8) rotate(-90)" font-size="8.4" text-anchor="middle" fill="#1a1a1a">Ly9.1</text>
<text x="419" y="148.5" font-size="8.6" text-anchor="middle" fill="#1a1a1a" >H2kb</text>
<text x="19.7" y="147.3" font-size="8.6" text-anchor="start" fill="#1a1a1a" >Donor: Ly 9.1+, H2kb+</text>
<text x="19.7" y="157.5" font-size="8.6" text-anchor="start" fill="#1a1a1a" >Recipient: Ly 9.1-, H2kb+</text>
<text x="271" y="146.3" font-size="8.6" text-anchor="start" fill="#1a1a1a" >Donor: Ly 9.1+, H2kb+</text>
<text x="271" y="156.7" font-size="8.6" text-anchor="start" fill="#1a1a1a" >Recipient: Ly 9.1-, H2kb+</text>
</svg>
</body></html>
